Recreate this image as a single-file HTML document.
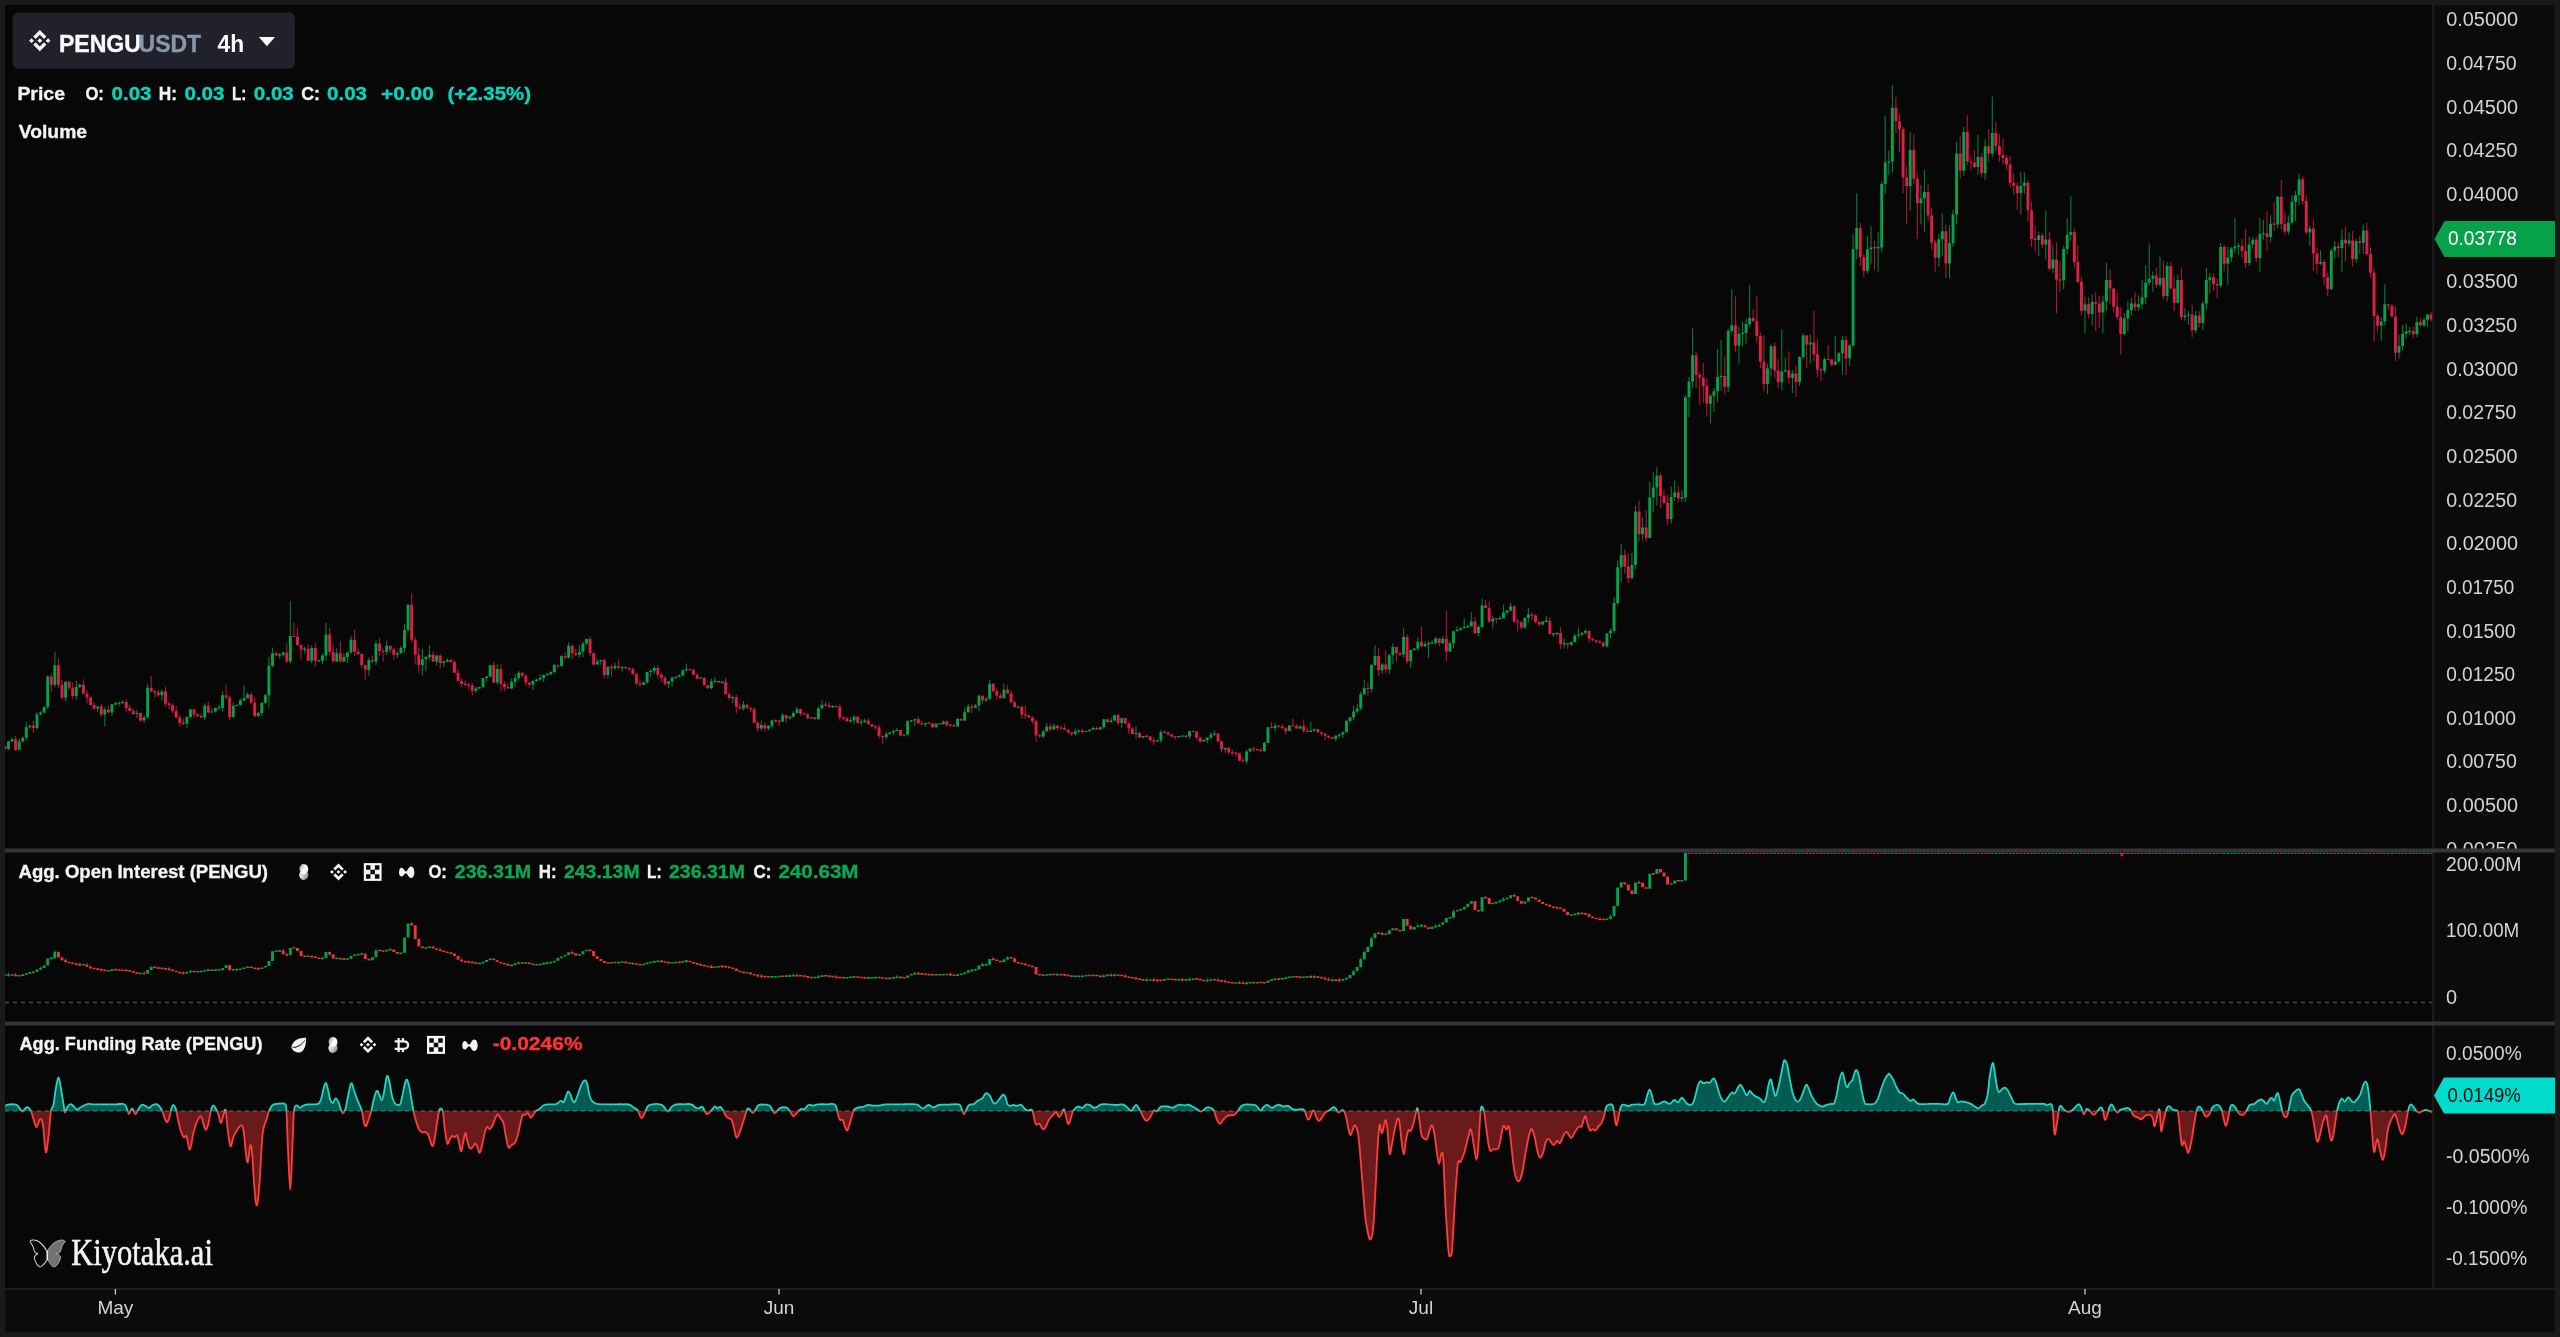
<!DOCTYPE html>
<html lang="en"><head><meta charset="utf-8"><title>PENGUUSDT 4h - Kiyotaka.ai</title>
<style>
html,body{margin:0;padding:0;background:#1a1a1a;}
body{width:2560px;height:1337px;overflow:hidden;position:relative;}
svg{position:absolute;left:0;top:0;display:block;will-change:transform;}
text{font-family:"Liberation Sans",Arial,Helvetica,sans-serif;}
.b{font-weight:700;}
.ax{font-size:19.6px;fill:#d4d4d4;}
.lg{font-size:18.9px;font-weight:700;fill:#f4f4f4;stroke:#f4f4f4;stroke-width:0.35px;}
.wm{font-family:"Liberation Serif","Times New Roman",serif;}
</style></head><body>
<svg width="2560" height="1337" viewBox="0 0 2560 1337">
<defs>
<clipPath id="cpPrice"><rect x="5" y="5" width="2428" height="843.5"/></clipPath>
<clipPath id="cpPriceAx"><rect x="2434" y="5" width="121" height="843.5"/></clipPath>
<clipPath id="cpOI"><rect x="5" y="852.5" width="2428" height="169"/></clipPath>
<clipPath id="cpFRpos"><rect x="5" y="1025.5" width="2428" height="85.5"/></clipPath>
<clipPath id="cpFRneg"><rect x="5" y="1111" width="2428" height="177"/></clipPath>
<linearGradient id="gb1" x1="0" y1="0" x2="1" y2="1"><stop offset="0" stop-color="#8c8c8c"/><stop offset="0.55" stop-color="#ffffff"/><stop offset="1" stop-color="#e8e8e8"/></linearGradient>
<linearGradient id="gb2" x1="0" y1="0" x2="1" y2="1"><stop offset="0" stop-color="#ffffff"/><stop offset="0.5" stop-color="#d0d0d0"/><stop offset="1" stop-color="#6a6a6a"/></linearGradient>
</defs>
<rect x="0" y="0" width="2560" height="1337" fill="#1a1a1a"/>
<rect x="5" y="5" width="2550" height="1327" fill="#070707"/>
<rect x="2434" y="5" width="121" height="1327" fill="#0b0b0b"/>
<rect x="5" y="1290" width="2550" height="42" fill="#0b0b0b"/>

<g clip-path="url(#cpPrice)">
<path d="M8.5 740.9V750.0M12.0 737.0V742.1M19.2 738.3V750.6M22.7 736.6V742.2M26.3 721.9V740.6M29.9 724.3V728.7M37.0 711.9V729.5M40.6 711.6V714.7M44.1 705.7V714.2M47.7 675.3V708.8M54.9 651.5V687.6M65.6 681.0V701.7M76.3 681.1V699.8M79.8 683.8V688.6M97.7 706.2V712.1M104.8 707.0V726.6M111.9 703.9V715.7M115.5 701.9V705.6M119.1 702.0V706.3M122.6 700.1V704.0M136.9 710.0V718.0M144.1 715.2V722.7M147.6 683.9V718.1M161.9 689.6V700.4M186.9 716.6V728.1M190.4 708.5V718.6M204.7 703.3V720.2M211.8 708.3V712.7M215.4 707.6V712.3M219.0 704.8V710.2M222.5 691.6V711.5M233.3 702.6V718.1M236.8 704.4V706.2M240.4 698.3V705.5M244.0 685.5V701.3M247.5 692.6V698.2M258.2 711.9V717.1M261.8 702.7V716.0M265.4 694.0V704.0M268.9 657.1V707.7M272.5 647.5V667.2M279.6 652.9V658.4M283.2 651.5V656.8M290.3 600.9V663.6M304.6 647.1V653.2M311.7 645.2V663.4M318.9 659.7V661.9M322.5 653.5V664.4M326.0 622.8V660.3M336.7 648.2V662.1M343.9 653.3V662.2M347.4 652.3V662.8M351.0 636.1V653.6M368.8 657.6V675.6M376.0 640.3V665.1M386.7 641.0V654.9M397.4 651.3V658.2M400.9 646.1V653.7M404.5 624.1V652.4M408.1 604.3V632.6M422.4 648.8V675.5M425.9 655.9V671.2M429.5 645.1V660.6M436.6 655.2V665.4M443.8 660.6V667.2M447.3 658.2V662.2M475.9 686.4V693.1M479.4 687.0V688.8M483.0 677.9V688.1M486.6 676.0V681.5M490.1 665.2V677.8M497.3 664.1V684.6M511.6 678.5V689.2M515.1 674.2V686.8M518.7 670.9V680.6M533.0 680.2V689.9M536.5 678.8V682.3M540.1 674.4V680.8M543.7 674.5V682.1M547.2 672.9V675.4M550.8 671.3V675.4M554.4 664.0V673.1M561.5 654.9V667.0M568.6 642.3V658.6M579.3 645.0V657.4M582.9 641.7V656.9M586.5 638.8V645.2M597.2 658.8V664.6M600.8 659.4V664.8M607.9 666.4V678.2M615.0 663.1V669.9M622.2 666.3V671.6M643.6 681.2V685.3M647.1 671.6V683.5M650.7 668.7V677.2M654.3 665.7V673.9M668.5 681.0V688.2M672.1 676.2V686.8M675.7 676.9V678.9M679.3 674.2V677.2M682.8 669.4V676.2M686.4 663.6V671.3M700.7 677.8V678.7M711.4 678.6V689.3M714.9 677.0V683.7M722.1 681.2V684.1M732.8 695.2V702.9M743.5 701.1V710.5M761.3 720.6V731.1M768.5 725.3V730.5M772.0 719.6V728.7M782.7 712.9V721.9M789.9 716.1V719.8M793.4 711.2V716.7M797.0 707.0V713.3M811.3 717.0V718.3M818.4 706.4V720.2M822.0 700.2V708.5M832.7 705.1V708.1M850.5 717.2V722.6M854.1 714.9V724.0M861.2 719.0V725.7M864.8 718.6V723.0M886.2 731.9V739.0M889.8 732.3V733.9M893.3 730.0V735.2M896.9 728.0V730.9M904.0 734.5V736.6M907.6 719.7V735.4M911.2 720.2V722.6M914.7 718.8V726.0M925.4 722.7V727.0M936.1 723.3V728.6M943.3 720.4V724.6M957.6 718.1V726.6M964.7 707.4V721.1M968.3 704.1V712.5M975.4 703.8V708.3M979.0 694.2V711.2M986.1 697.0V702.3M989.7 680.0V700.1M1003.9 683.4V698.7M1018.2 705.6V708.7M1043.2 730.0V738.1M1046.8 723.0V731.6M1053.9 723.6V729.5M1075.3 728.8V735.8M1078.9 729.3V733.3M1086.0 730.7V731.7M1089.6 729.4V731.4M1093.1 726.6V729.8M1100.3 726.8V730.0M1103.8 718.8V728.7M1111.0 717.6V723.3M1114.5 715.0V721.3M1121.7 717.3V727.9M1136.0 726.3V738.5M1143.1 735.8V738.4M1157.4 739.3V741.4M1160.9 730.1V742.4M1178.8 736.0V738.1M1182.3 735.5V736.2M1189.5 730.5V738.9M1203.7 738.7V741.4M1207.3 737.6V743.2M1210.9 732.1V739.2M1214.5 730.5V735.9M1225.2 747.6V752.8M1246.6 750.0V763.8M1250.1 747.7V752.5M1264.4 741.8V752.1M1268.0 726.9V743.1M1275.1 723.1V731.3M1289.4 725.0V731.0M1300.1 725.2V729.2M1310.8 721.8V732.3M1314.4 728.5V731.8M1335.8 734.7V741.3M1339.3 734.1V738.0M1342.9 731.3V737.9M1346.5 719.8V732.3M1350.0 716.9V723.2M1353.6 705.4V720.2M1357.2 703.5V712.8M1360.7 691.7V710.3M1364.3 679.5V694.9M1371.4 664.0V692.5M1375.0 645.5V666.5M1382.1 662.9V674.0M1389.3 653.5V674.0M1392.9 643.3V663.9M1403.6 628.3V657.7M1410.7 649.8V668.0M1414.3 648.2V650.7M1417.8 637.8V650.6M1425.0 641.6V646.9M1428.5 640.9V658.0M1432.1 640.5V644.4M1435.7 636.7V645.0M1442.8 636.0V643.9M1449.9 640.8V652.1M1453.5 630.8V648.6M1457.1 626.6V631.4M1460.6 627.4V630.9M1464.2 618.2V628.5M1467.8 625.0V627.9M1471.3 611.9V626.6M1478.5 625.6V636.1M1482.1 598.4V628.3M1492.8 615.6V628.5M1499.9 615.9V619.8M1503.5 604.4V618.4M1507.0 610.1V615.1M1510.6 602.5V611.5M1524.9 617.1V629.1M1528.4 608.1V622.5M1542.7 621.4V625.5M1546.3 616.1V622.6M1553.4 632.8V636.8M1557.0 632.6V636.1M1564.1 638.2V648.5M1571.3 641.4V646.5M1574.8 634.1V642.7M1578.4 627.6V637.7M1582.0 632.6V636.3M1585.5 629.2V634.5M1606.9 633.6V648.1M1610.5 628.3V638.5M1614.1 597.0V633.6M1617.6 560.4V605.4M1621.2 544.2V582.6M1631.9 553.2V578.5M1635.5 506.1V569.3M1642.6 517.2V540.6M1649.7 481.7V538.1M1653.3 472.0V511.9M1656.9 467.3V505.6M1671.2 486.4V523.6M1674.7 480.4V501.1M1681.9 489.4V502.0M1685.4 395.3V501.9M1689.0 377.3V417.3M1692.6 327.5V388.6M1710.4 394.5V423.6M1714.0 387.6V411.9M1717.5 349.0V402.0M1721.1 340.1V390.4M1728.2 328.4V392.1M1731.8 289.4V333.6M1738.9 327.1V363.4M1742.5 321.7V346.3M1746.1 319.0V343.6M1749.7 284.7V327.0M1767.5 363.4V394.1M1771.1 344.5V376.0M1781.8 329.3V390.4M1785.3 357.7V372.4M1792.5 370.3V392.9M1799.6 356.1V385.9M1803.2 333.4V359.3M1810.3 334.5V363.2M1824.6 357.3V373.6M1835.3 335.9V365.4M1838.9 351.8V362.3M1842.4 336.1V374.4M1849.6 343.8V365.9M1853.1 234.8V347.3M1856.7 193.5V259.6M1867.4 235.7V273.4M1871.0 226.3V264.4M1878.1 232.5V272.0M1881.7 181.8V252.6M1885.2 115.8V193.9M1888.8 150.8V175.1M1892.4 84.7V172.4M1910.2 132.0V211.0M1920.9 185.0V224.5M1924.5 169.7V232.6M1938.8 234.4V266.7M1942.3 213.7V255.9M1949.5 225.6V278.0M1953.0 210.1V247.1M1956.6 141.9V224.5M1963.7 127.1V176.0M1978.0 134.7V174.8M1985.1 139.2V179.6M1992.3 96.5V157.3M2020.8 172.5V214.7M2024.4 172.5V193.5M2038.7 231.8V256.0M2045.8 211.1V259.6M2052.9 244.4V273.1M2063.6 245.8V289.3M2067.2 218.3V254.2M2070.8 196.4V240.8M2085.0 296.7V333.3M2092.2 294.4V325.1M2102.9 295.9V333.3M2106.5 263.0V311.1M2124.3 313.3V335.6M2127.9 301.1V331.4M2131.4 298.2V315.4M2138.6 295.2V310.9M2142.1 279.5V308.9M2145.7 265.3V304.2M2149.3 244.3V285.5M2152.8 271.5V291.4M2160.0 256.6V287.0M2167.1 262.0V301.4M2177.8 274.5V303.6M2184.9 308.3V320.6M2188.5 310.9V325.1M2195.7 310.9V333.3M2202.8 301.3V330.3M2206.4 267.5V309.4M2209.9 273.0V293.7M2220.6 243.1V287.7M2227.8 246.4V284.7M2231.3 246.9V262.0M2234.9 218.1V252.6M2238.5 242.8V254.8M2249.2 236.5V265.6M2252.7 236.9V248.5M2259.9 218.1V271.6M2263.4 219.6V239.8M2270.6 215.2V242.5M2277.7 196.0V228.6M2288.4 215.2V234.6M2292.0 195.0V224.6M2295.6 190.8V221.1M2299.1 174.0V205.4M2309.8 225.6V245.8M2320.5 250.3V265.3M2331.2 248.4V289.4M2334.8 241.0V257.8M2341.9 229.1V271.5M2349.1 232.4V246.6M2356.2 239.1V262.7M2363.3 224.6V254.0M2381.2 316.9V340.8M2384.8 284.4V325.3M2399.0 334.6V358.8M2402.6 325.1V350.2M2406.2 323.8V338.2M2409.7 326.9V335.0M2416.9 317.1V337.2M2424.0 317.5V326.9M2427.6 313.9V326.9" stroke="#04a348" stroke-width="1.1" stroke-opacity="0.75" fill="none"/>
<path d="M4.9 745.6V749.8M15.6 735.9V751.1M33.4 720.9V733.1M51.3 673.6V692.1M58.4 658.6V688.2M62.0 680.1V699.5M69.1 680.4V690.1M72.7 682.5V698.7M83.4 679.3V693.9M87.0 689.8V703.4M90.5 696.4V705.2M94.1 702.6V710.0M101.2 704.1V716.4M108.4 705.8V713.3M126.2 699.4V711.8M129.8 705.1V711.4M133.3 708.6V714.8M140.5 712.4V722.1M151.2 675.7V692.3M154.8 689.9V697.6M158.3 690.0V697.0M165.5 686.5V707.0M169.0 702.2V709.3M172.6 703.4V712.9M176.2 706.1V718.1M179.7 714.7V726.6M183.3 718.7V725.0M194.0 709.1V717.6M197.6 713.1V717.1M201.1 713.9V717.7M208.3 701.7V713.6M226.1 684.7V699.2M229.7 695.5V720.3M251.1 692.5V704.1M254.7 697.3V717.0M276.1 651.5V656.6M286.8 643.0V662.9M293.9 622.6V637.1M297.5 627.9V645.9M301.0 644.9V659.5M308.2 644.4V661.0M315.3 642.6V667.1M329.6 627.8V655.0M333.2 645.0V662.3M340.3 641.3V662.4M354.6 629.8V656.0M358.1 648.8V654.9M361.7 653.5V667.7M365.3 664.5V679.5M372.4 655.3V663.4M379.5 638.1V655.9M383.1 648.7V661.5M390.2 645.8V652.9M393.8 647.2V659.8M411.7 593.5V642.2M415.2 637.1V664.5M418.8 647.7V673.2M433.1 651.5V661.9M440.2 654.8V668.8M450.9 658.6V662.3M454.5 660.3V672.9M458.0 669.3V681.2M461.6 678.6V687.5M465.2 680.3V686.2M468.7 682.7V689.7M472.3 682.9V695.4M493.7 662.1V683.1M500.9 664.0V691.6M504.4 681.4V691.3M508.0 683.6V688.5M522.3 671.5V677.6M525.8 673.9V686.1M529.4 682.2V687.5M557.9 664.8V668.2M565.1 652.1V659.6M572.2 644.4V659.0M575.8 648.6V656.0M590.1 636.4V656.0M593.6 653.0V665.4M604.3 658.7V678.2M611.5 664.2V676.5M618.6 659.5V669.1M625.7 666.8V668.4M629.3 667.7V671.3M632.9 667.6V674.7M636.4 673.0V685.6M640.0 680.0V687.2M657.8 665.1V678.6M661.4 672.5V682.0M665.0 675.8V686.0M690.0 668.8V670.8M693.5 669.0V674.9M697.1 673.3V679.6M704.2 677.5V685.3M707.8 685.0V688.6M718.5 680.4V682.7M725.6 677.9V694.3M729.2 692.2V699.6M736.3 694.7V713.7M739.9 703.2V709.4M747.0 703.6V708.7M750.6 707.4V712.1M754.2 707.3V722.8M757.7 721.2V731.6M764.9 722.3V731.4M775.6 719.2V722.8M779.2 720.5V725.9M786.3 715.0V723.0M800.6 708.4V716.1M804.1 712.3V714.4M807.7 712.8V719.2M814.8 717.0V720.0M825.5 701.8V706.4M829.1 701.8V708.3M836.2 706.1V707.4M839.8 704.4V720.7M843.4 716.5V720.0M846.9 716.6V721.5M857.7 716.6V724.1M868.4 718.0V724.3M871.9 723.7V727.6M875.5 725.2V729.7M879.1 725.1V738.5M882.6 735.2V743.6M900.5 729.8V735.9M918.3 717.0V723.5M921.9 720.4V724.6M929.0 722.7V723.8M932.6 722.7V728.1M939.7 723.2V724.3M946.9 720.3V727.1M950.4 724.3V726.6M954.0 723.7V726.6M961.1 718.0V721.1M971.8 704.0V713.0M982.5 694.9V703.5M993.2 683.3V692.8M996.8 687.7V699.5M1000.4 692.9V698.7M1007.5 685.0V693.6M1011.1 690.3V702.6M1014.6 700.4V707.7M1021.8 704.9V719.1M1025.3 705.5V718.9M1028.9 715.2V718.0M1032.5 716.6V723.8M1036.1 719.5V742.1M1039.6 733.7V737.6M1050.3 723.4V731.2M1057.5 725.1V730.8M1061.0 725.8V729.3M1064.6 724.4V730.1M1068.2 728.9V733.4M1071.7 732.3V736.5M1082.4 728.7V733.2M1096.7 726.2V729.5M1107.4 718.9V722.8M1118.1 713.5V725.2M1125.3 717.5V724.6M1128.8 722.0V733.8M1132.4 726.7V733.9M1139.5 731.9V738.0M1146.7 735.7V737.1M1150.2 736.3V741.2M1153.8 737.1V745.1M1164.5 730.9V733.5M1168.1 731.3V735.9M1171.6 734.1V737.3M1175.2 736.2V739.6M1185.9 735.2V737.4M1193.0 730.6V731.8M1196.6 731.4V740.0M1200.2 737.1V742.9M1218.0 733.4V742.3M1221.6 740.6V752.8M1228.7 746.8V754.6M1232.3 749.4V755.5M1235.9 752.2V756.8M1239.4 752.4V761.3M1243.0 757.2V762.1M1253.7 746.8V751.7M1257.3 748.7V750.4M1260.8 747.7V751.4M1271.5 721.9V728.7M1278.7 724.8V728.5M1282.2 724.5V728.5M1285.8 726.7V734.2M1292.9 718.8V726.6M1296.5 724.0V728.6M1303.7 719.3V732.8M1307.2 727.4V732.0M1317.9 728.9V733.2M1321.5 731.6V736.2M1325.1 732.9V740.5M1328.6 735.7V738.4M1332.2 737.0V739.1M1367.9 682.2V695.7M1378.6 648.3V676.0M1385.7 650.3V672.8M1396.4 647.0V662.0M1400.0 652.2V656.1M1407.1 633.9V664.3M1421.4 626.5V646.9M1439.2 637.9V646.1M1446.4 610.7V660.9M1474.9 617.3V633.9M1485.6 599.9V608.5M1489.2 601.4V623.0M1496.3 618.5V623.4M1514.2 605.2V622.8M1517.7 619.1V631.3M1521.3 621.1V629.1M1532.0 612.5V619.9M1535.6 614.0V623.4M1539.1 621.1V626.7M1549.8 617.2V634.0M1560.5 627.1V649.3M1567.7 643.2V649.0M1589.1 631.0V642.7M1592.7 638.3V641.2M1596.2 639.5V643.0M1599.8 640.3V643.3M1603.4 642.5V647.5M1624.8 549.6V573.8M1628.3 554.1V583.1M1639.0 500.8V541.5M1646.2 510.4V541.4M1660.5 473.2V507.8M1664.0 490.3V504.8M1667.6 494.8V524.8M1678.3 485.8V502.5M1696.1 351.7V388.6M1699.7 372.4V404.7M1703.3 363.0V402.9M1706.8 378.2V416.4M1724.7 356.6V394.3M1735.4 296.6V351.7M1753.2 309.2V321.6M1756.8 296.0V342.8M1760.4 332.5V367.9M1763.9 335.6V391.3M1774.6 342.8V377.8M1778.2 358.9V388.6M1788.9 351.2V383.8M1796.0 365.9V397.0M1806.7 335.2V367.7M1813.9 310.8V361.2M1817.4 339.0V377.6M1821.0 367.9V381.2M1828.1 344.9V359.8M1831.7 358.7V366.6M1846.0 335.9V374.9M1860.3 223.1V266.2M1863.8 253.9V277.0M1874.5 241.1V269.8M1895.9 96.9V133.8M1899.5 114.0V152.6M1903.1 127.1V193.0M1906.6 166.4V224.5M1913.8 134.3V184.8M1917.3 172.7V238.9M1928.1 183.2V221.8M1931.6 208.0V249.6M1935.2 239.5V272.1M1945.9 224.4V278.0M1960.2 135.6V178.7M1967.3 115.3V165.2M1970.9 156.2V170.6M1974.4 149.9V168.4M1981.6 153.5V176.9M1988.7 129.4V161.7M1995.8 121.7V151.0M1999.4 133.9V161.7M2003.0 138.4V164.4M2006.5 155.1V169.8M2010.1 155.8V187.8M2013.7 173.4V195.0M2017.3 182.8V210.2M2028.0 180.2V221.9M2031.5 201.3V247.1M2035.1 225.5V251.5M2042.2 233.0V248.0M2049.4 231.8V270.8M2056.5 242.6V313.5M2060.1 261.4V292.0M2074.3 228.2V267.7M2077.9 245.3V282.7M2081.5 276.8V315.3M2088.6 297.4V318.4M2095.7 292.2V331.1M2099.3 295.9V328.1M2110.0 269.5V304.2M2113.6 288.1V312.4M2117.2 292.2V319.9M2120.7 307.5V354.7M2135.0 292.5V310.9M2156.4 267.5V287.7M2163.5 260.5V299.7M2170.7 262.6V289.3M2174.2 276.5V310.9M2181.4 267.4V319.9M2192.1 304.4V337.4M2199.2 311.2V327.4M2213.5 273.5V290.7M2217.1 278.7V298.2M2224.2 244.6V271.2M2242.0 239.1V257.8M2245.6 229.1V268.0M2256.3 236.8V261.7M2267.0 211.4V251.1M2274.1 202.1V230.6M2281.3 180.0V229.4M2284.9 212.2V235.0M2302.7 176.6V204.7M2306.3 195.0V234.2M2313.4 219.6V270.7M2317.0 248.1V273.5M2324.1 259.3V284.7M2327.7 272.8V295.9M2338.4 242.5V257.0M2345.5 226.4V261.5M2352.6 230.9V266.5M2359.8 236.1V254.5M2366.9 223.1V256.3M2370.5 247.1V277.5M2374.1 267.5V342.3M2377.6 314.2V331.8M2388.3 303.4V310.1M2391.9 304.2V317.3M2395.5 306.4V361.0M2413.3 326.9V337.7M2420.4 318.0V326.4M2431.1 312.1V322.0" stroke="#e01c48" stroke-width="1.1" stroke-opacity="0.75" fill="none"/>
<path d="M7.02 741.6h2.9V749.0h-2.9zM10.59 739.3h2.9V741.6h-2.9zM17.72 741.6h2.9V749.8h-2.9zM21.29 737.8h2.9V741.6h-2.9zM24.86 727.3h2.9V737.8h-2.9zM28.43 725.8h2.9V727.3h-2.9zM35.56 714.6h2.9V728.1h-2.9zM39.13 712.4h2.9V714.6h-2.9zM42.70 707.2h2.9V712.4h-2.9zM46.27 676.5h2.9V707.2h-2.9zM53.40 665.3h2.9V684.7h-2.9zM64.11 681.7h2.9V697.4h-2.9zM74.81 687.0h2.9V695.9h-2.9zM78.38 684.7h2.9V687.0h-2.9zM96.22 706.4h2.9V708.6h-2.9zM103.35 709.4h2.9V714.6h-2.9zM110.49 704.2h2.9V712.4h-2.9zM114.06 703.2h2.9V704.4h-2.9zM117.63 702.6h2.9V703.8h-2.9zM121.19 701.9h2.9V703.1h-2.9zM135.47 712.9h2.9V714.1h-2.9zM142.60 717.6h2.9V720.6h-2.9zM146.17 687.7h2.9V717.6h-2.9zM160.44 691.4h2.9V695.2h-2.9zM185.42 716.9h2.9V723.6h-2.9zM188.99 709.4h2.9V716.9h-2.9zM203.26 705.7h2.9V717.6h-2.9zM210.39 711.4h2.9V712.6h-2.9zM213.96 707.9h2.9V711.6h-2.9zM217.53 707.3h2.9V708.5h-2.9zM221.10 695.2h2.9V707.9h-2.9zM231.80 705.7h2.9V716.9h-2.9zM235.37 704.7h2.9V705.9h-2.9zM238.94 700.4h2.9V704.9h-2.9zM242.51 698.2h2.9V700.4h-2.9zM246.07 694.4h2.9V698.2h-2.9zM256.78 713.1h2.9V716.1h-2.9zM260.35 702.7h2.9V713.1h-2.9zM263.91 695.2h2.9V702.7h-2.9zM267.48 666.0h2.9V695.2h-2.9zM271.05 653.3h2.9V666.0h-2.9zM278.19 654.5h2.9V655.8h-2.9zM281.75 652.6h2.9V654.8h-2.9zM288.89 636.1h2.9V661.5h-2.9zM303.16 648.6h2.9V649.8h-2.9zM310.30 648.1h2.9V660.8h-2.9zM317.43 660.2h2.9V661.4h-2.9zM321.00 655.5h2.9V660.8h-2.9zM324.57 634.6h2.9V655.5h-2.9zM335.27 653.3h2.9V661.5h-2.9zM342.41 657.0h2.9V661.5h-2.9zM345.98 652.6h2.9V657.0h-2.9zM349.55 639.8h2.9V652.6h-2.9zM367.39 660.0h2.9V669.8h-2.9zM374.52 643.6h2.9V661.5h-2.9zM385.23 645.8h2.9V651.8h-2.9zM395.93 653.3h2.9V654.8h-2.9zM399.50 648.1h2.9V653.3h-2.9zM403.07 630.1h2.9V648.1h-2.9zM406.63 604.7h2.9V630.1h-2.9zM420.91 659.3h2.9V665.3h-2.9zM424.47 657.0h2.9V659.3h-2.9zM428.04 654.8h2.9V657.0h-2.9zM435.18 655.5h2.9V661.5h-2.9zM442.31 661.5h2.9V663.0h-2.9zM445.88 660.0h2.9V661.5h-2.9zM474.43 688.5h2.9V690.7h-2.9zM477.99 687.0h2.9V688.5h-2.9zM481.56 678.0h2.9V687.0h-2.9zM485.13 676.5h2.9V678.0h-2.9zM488.70 665.3h2.9V676.5h-2.9zM495.83 669.0h2.9V682.5h-2.9zM510.11 681.7h2.9V688.5h-2.9zM513.67 678.0h2.9V681.7h-2.9zM517.24 672.7h2.9V678.0h-2.9zM531.51 681.0h2.9V684.7h-2.9zM535.08 679.5h2.9V681.0h-2.9zM538.65 678.0h2.9V679.5h-2.9zM542.22 675.0h2.9V678.0h-2.9zM545.79 674.0h2.9V675.2h-2.9zM549.35 672.0h2.9V674.2h-2.9zM552.92 665.3h2.9V672.0h-2.9zM560.06 656.3h2.9V666.0h-2.9zM567.19 645.8h2.9V657.8h-2.9zM577.90 651.8h2.9V654.8h-2.9zM581.47 643.6h2.9V651.8h-2.9zM585.03 639.1h2.9V643.6h-2.9zM595.74 661.5h2.9V664.5h-2.9zM599.31 660.0h2.9V661.5h-2.9zM606.44 666.8h2.9V675.0h-2.9zM613.58 666.0h2.9V668.3h-2.9zM620.71 666.9h2.9V668.1h-2.9zM642.12 682.5h2.9V684.7h-2.9zM645.69 672.0h2.9V682.5h-2.9zM649.26 670.9h2.9V672.1h-2.9zM652.83 668.1h2.9V671.1h-2.9zM667.10 681.5h2.9V683.8h-2.9zM670.67 677.8h2.9V681.5h-2.9zM674.23 676.8h2.9V678.0h-2.9zM677.80 675.5h2.9V677.0h-2.9zM681.37 670.3h2.9V675.5h-2.9zM684.94 669.1h2.9V670.3h-2.9zM699.21 677.5h2.9V678.8h-2.9zM709.91 681.5h2.9V688.3h-2.9zM713.48 680.8h2.9V682.0h-2.9zM720.62 681.5h2.9V682.8h-2.9zM731.32 697.0h2.9V698.2h-2.9zM742.03 704.7h2.9V708.5h-2.9zM759.87 724.9h2.9V728.6h-2.9zM767.00 725.7h2.9V728.6h-2.9zM770.57 720.4h2.9V725.7h-2.9zM781.27 715.2h2.9V721.5h-2.9zM788.41 716.7h2.9V718.2h-2.9zM791.98 712.9h2.9V716.7h-2.9zM795.55 709.2h2.9V712.9h-2.9zM809.82 717.2h2.9V718.4h-2.9zM816.95 708.5h2.9V718.9h-2.9zM820.52 704.7h2.9V708.5h-2.9zM831.23 706.0h2.9V707.2h-2.9zM849.07 720.2h2.9V721.4h-2.9zM852.63 716.7h2.9V720.4h-2.9zM859.77 721.7h2.9V722.9h-2.9zM863.34 720.4h2.9V721.9h-2.9zM884.75 733.9h2.9V736.9h-2.9zM888.31 732.4h2.9V733.9h-2.9zM891.88 730.9h2.9V732.4h-2.9zM895.45 729.9h2.9V731.1h-2.9zM902.59 734.4h2.9V735.6h-2.9zM906.15 721.2h2.9V734.6h-2.9zM909.72 720.2h2.9V721.4h-2.9zM913.29 719.2h2.9V720.4h-2.9zM923.99 723.0h2.9V724.2h-2.9zM934.70 723.4h2.9V727.2h-2.9zM941.83 721.5h2.9V724.2h-2.9zM956.11 718.9h2.9V726.4h-2.9zM963.24 712.2h2.9V720.4h-2.9zM966.81 706.5h2.9V712.2h-2.9zM973.95 705.5h2.9V707.7h-2.9zM977.51 695.7h2.9V705.5h-2.9zM984.65 698.7h2.9V700.2h-2.9zM988.22 683.8h2.9V698.7h-2.9zM1002.49 689.8h2.9V698.0h-2.9zM1016.76 706.4h2.9V707.6h-2.9zM1041.74 731.6h2.9V736.4h-2.9zM1045.31 726.4h2.9V731.6h-2.9zM1052.44 725.7h2.9V729.4h-2.9zM1073.85 731.3h2.9V733.9h-2.9zM1077.42 730.5h2.9V731.7h-2.9zM1084.55 730.9h2.9V732.1h-2.9zM1088.12 729.8h2.9V731.3h-2.9zM1091.69 727.9h2.9V729.8h-2.9zM1098.83 727.2h2.9V729.4h-2.9zM1102.39 719.2h2.9V727.2h-2.9zM1109.53 720.4h2.9V721.9h-2.9zM1113.10 715.2h2.9V720.4h-2.9zM1120.23 718.2h2.9V723.0h-2.9zM1134.51 732.9h2.9V734.1h-2.9zM1141.64 736.1h2.9V737.6h-2.9zM1155.91 740.4h2.9V741.6h-2.9zM1159.48 731.9h2.9V740.6h-2.9zM1177.32 736.1h2.9V737.3h-2.9zM1180.89 735.5h2.9V736.7h-2.9zM1188.03 731.3h2.9V736.4h-2.9zM1202.30 739.9h2.9V741.4h-2.9zM1205.87 737.6h2.9V739.9h-2.9zM1209.43 734.6h2.9V737.6h-2.9zM1213.00 733.5h2.9V734.7h-2.9zM1223.71 748.1h2.9V749.6h-2.9zM1245.11 751.4h2.9V761.3h-2.9zM1248.68 748.8h2.9V751.4h-2.9zM1262.95 742.9h2.9V751.1h-2.9zM1266.52 727.2h2.9V742.9h-2.9zM1273.66 725.7h2.9V727.9h-2.9zM1287.93 725.6h2.9V730.9h-2.9zM1298.63 726.3h2.9V728.6h-2.9zM1309.34 730.4h2.9V731.9h-2.9zM1312.91 729.2h2.9V730.4h-2.9zM1334.31 735.7h2.9V738.7h-2.9zM1337.88 734.5h2.9V735.7h-2.9zM1341.45 732.3h2.9V734.5h-2.9zM1345.02 721.1h2.9V732.3h-2.9zM1348.59 717.3h2.9V721.1h-2.9zM1352.15 711.4h2.9V717.3h-2.9zM1355.72 708.4h2.9V711.4h-2.9zM1359.29 694.2h2.9V708.4h-2.9zM1362.86 688.2h2.9V694.2h-2.9zM1369.99 665.0h2.9V688.9h-2.9zM1373.56 656.0h2.9V665.0h-2.9zM1380.70 664.5h2.9V670.2h-2.9zM1387.83 655.3h2.9V669.5h-2.9zM1391.40 647.0h2.9V655.3h-2.9zM1402.11 637.0h2.9V654.5h-2.9zM1409.24 650.0h2.9V661.2h-2.9zM1412.81 648.5h2.9V650.0h-2.9zM1416.38 641.8h2.9V648.5h-2.9zM1423.51 644.0h2.9V646.3h-2.9zM1427.08 643.2h2.9V644.4h-2.9zM1430.65 642.7h2.9V643.9h-2.9zM1434.22 638.5h2.9V643.0h-2.9zM1441.35 638.8h2.9V643.3h-2.9zM1448.49 643.3h2.9V651.5h-2.9zM1452.06 631.3h2.9V643.3h-2.9zM1455.63 629.8h2.9V631.3h-2.9zM1459.19 628.3h2.9V629.8h-2.9zM1462.76 627.1h2.9V628.3h-2.9zM1466.33 626.2h2.9V627.4h-2.9zM1469.90 621.6h2.9V626.5h-2.9zM1477.03 627.1h2.9V633.1h-2.9zM1480.60 605.2h2.9V627.1h-2.9zM1491.31 618.6h2.9V621.6h-2.9zM1498.44 618.1h2.9V619.3h-2.9zM1502.01 612.6h2.9V618.2h-2.9zM1505.58 610.4h2.9V612.6h-2.9zM1509.15 606.6h2.9V610.4h-2.9zM1523.42 617.9h2.9V627.6h-2.9zM1526.99 614.6h2.9V617.9h-2.9zM1541.26 621.6h2.9V624.6h-2.9zM1544.83 620.6h2.9V621.9h-2.9zM1551.96 633.2h2.9V634.4h-2.9zM1555.53 632.8h2.9V634.0h-2.9zM1562.67 643.0h2.9V644.2h-2.9zM1569.80 642.1h2.9V644.8h-2.9zM1573.37 635.5h2.9V642.1h-2.9zM1576.94 634.4h2.9V635.6h-2.9zM1580.51 632.8h2.9V634.6h-2.9zM1584.07 631.0h2.9V632.8h-2.9zM1605.48 633.6h2.9V646.3h-2.9zM1609.05 630.8h2.9V633.6h-2.9zM1612.62 603.1h2.9V630.8h-2.9zM1616.19 567.2h2.9V603.1h-2.9zM1619.75 555.0h2.9V567.2h-2.9zM1630.46 564.8h2.9V578.3h-2.9zM1634.03 511.5h2.9V564.8h-2.9zM1641.16 527.5h2.9V534.3h-2.9zM1648.30 497.5h2.9V537.9h-2.9zM1651.87 487.6h2.9V497.5h-2.9zM1655.43 475.6h2.9V487.6h-2.9zM1669.71 497.1h2.9V519.0h-2.9zM1673.27 492.5h2.9V497.1h-2.9zM1680.41 497.3h2.9V498.6h-2.9zM1683.98 397.2h2.9V497.5h-2.9zM1687.55 381.4h2.9V397.2h-2.9zM1691.11 355.3h2.9V381.4h-2.9zM1708.95 395.7h2.9V403.8h-2.9zM1712.52 391.3h2.9V395.7h-2.9zM1716.09 376.9h2.9V391.3h-2.9zM1719.66 375.8h2.9V377.1h-2.9zM1726.79 331.1h2.9V386.8h-2.9zM1730.36 325.3h2.9V331.1h-2.9zM1737.50 333.8h2.9V345.8h-2.9zM1741.07 332.8h2.9V334.0h-2.9zM1744.63 323.9h2.9V332.9h-2.9zM1748.20 318.1h2.9V323.9h-2.9zM1766.04 368.4h2.9V384.1h-2.9zM1769.61 346.3h2.9V368.4h-2.9zM1780.31 371.5h2.9V382.3h-2.9zM1783.88 370.2h2.9V371.5h-2.9zM1791.02 373.6h2.9V377.8h-2.9zM1798.15 356.9h2.9V382.1h-2.9zM1801.72 335.4h2.9V356.9h-2.9zM1808.86 342.6h2.9V344.4h-2.9zM1823.13 359.3h2.9V370.4h-2.9zM1833.83 361.4h2.9V364.7h-2.9zM1837.40 353.3h2.9V361.4h-2.9zM1840.97 339.9h2.9V353.3h-2.9zM1848.11 345.6h2.9V358.2h-2.9zM1851.67 249.2h2.9V345.6h-2.9zM1855.24 228.1h2.9V249.2h-2.9zM1865.95 249.2h2.9V270.7h-2.9zM1869.51 247.4h2.9V249.2h-2.9zM1876.65 247.1h2.9V248.2h-2.9zM1880.22 184.0h2.9V247.4h-2.9zM1883.79 162.5h2.9V184.0h-2.9zM1887.35 161.5h2.9V162.7h-2.9zM1890.92 107.7h2.9V161.6h-2.9zM1908.76 149.9h2.9V185.9h-2.9zM1919.47 198.4h2.9V203.3h-2.9zM1923.03 192.1h2.9V198.4h-2.9zM1937.31 239.2h2.9V257.7h-2.9zM1940.87 231.3h2.9V239.2h-2.9zM1948.01 243.3h2.9V263.6h-2.9zM1951.58 214.6h2.9V243.3h-2.9zM1955.15 153.5h2.9V214.6h-2.9zM1962.28 132.0h2.9V170.6h-2.9zM1976.55 157.1h2.9V167.0h-2.9zM1983.69 146.3h2.9V173.3h-2.9zM1990.83 133.0h2.9V153.6h-2.9zM2019.37 186.0h2.9V193.2h-2.9zM2022.94 182.7h2.9V186.0h-2.9zM2037.21 235.4h2.9V239.9h-2.9zM2044.35 239.5h2.9V244.4h-2.9zM2051.48 259.6h2.9V268.6h-2.9zM2062.19 248.9h2.9V280.3h-2.9zM2065.75 234.8h2.9V248.9h-2.9zM2069.32 232.3h2.9V234.8h-2.9zM2083.59 304.2h2.9V310.8h-2.9zM2090.73 301.9h2.9V313.9h-2.9zM2101.43 301.5h2.9V312.4h-2.9zM2105.00 279.9h2.9V301.5h-2.9zM2122.84 318.4h2.9V334.1h-2.9zM2126.41 310.1h2.9V318.4h-2.9zM2129.98 303.4h2.9V310.1h-2.9zM2137.11 304.2h2.9V307.2h-2.9zM2140.68 297.4h2.9V304.2h-2.9zM2144.25 282.5h2.9V297.4h-2.9zM2147.82 278.7h2.9V282.5h-2.9zM2151.39 275.7h2.9V278.7h-2.9zM2158.52 278.0h2.9V284.7h-2.9zM2165.66 266.0h2.9V295.9h-2.9zM2176.36 279.9h2.9V302.7h-2.9zM2183.50 315.4h2.9V316.9h-2.9zM2187.07 314.4h2.9V315.6h-2.9zM2194.20 315.4h2.9V330.3h-2.9zM2201.34 303.4h2.9V322.9h-2.9zM2204.91 279.9h2.9V303.4h-2.9zM2208.47 277.2h2.9V279.9h-2.9zM2219.18 247.0h2.9V285.5h-2.9zM2226.31 257.5h2.9V263.8h-2.9zM2229.88 248.5h2.9V257.5h-2.9zM2233.45 246.6h2.9V248.5h-2.9zM2237.02 245.8h2.9V246.9h-2.9zM2247.72 244.6h2.9V263.0h-2.9zM2251.29 239.8h2.9V244.6h-2.9zM2258.43 233.9h2.9V258.1h-2.9zM2261.99 233.2h2.9V234.3h-2.9zM2269.13 223.7h2.9V237.1h-2.9zM2276.27 196.8h2.9V224.6h-2.9zM2286.97 222.6h2.9V231.6h-2.9zM2290.54 201.7h2.9V222.6h-2.9zM2294.11 195.3h2.9V201.7h-2.9zM2297.67 179.3h2.9V195.3h-2.9zM2308.38 228.6h2.9V232.4h-2.9zM2319.08 262.0h2.9V263.8h-2.9zM2329.79 250.6h2.9V289.2h-2.9zM2333.35 246.6h2.9V250.6h-2.9zM2340.49 239.8h2.9V248.1h-2.9zM2347.63 240.6h2.9V243.6h-2.9zM2354.76 241.3h2.9V259.3h-2.9zM2361.90 230.6h2.9V242.8h-2.9zM2379.74 321.4h2.9V325.8h-2.9zM2383.31 304.2h2.9V321.4h-2.9zM2397.58 346.3h2.9V352.8h-2.9zM2401.15 333.7h2.9V346.3h-2.9zM2404.71 331.4h2.9V333.7h-2.9zM2408.28 330.7h2.9V331.9h-2.9zM2415.42 322.0h2.9V334.1h-2.9zM2422.55 319.7h2.9V325.6h-2.9zM2426.12 314.4h2.9V319.7h-2.9z" fill="#04a348"/>
<path d="M3.45 746.0h2.9V749.0h-2.9zM14.15 739.3h2.9V749.8h-2.9zM31.99 725.8h2.9V728.1h-2.9zM49.83 676.5h2.9V684.7h-2.9zM56.97 665.3h2.9V684.7h-2.9zM60.54 684.7h2.9V697.4h-2.9zM67.67 681.7h2.9V687.7h-2.9zM71.24 687.7h2.9V695.9h-2.9zM81.95 684.7h2.9V693.7h-2.9zM85.51 693.7h2.9V697.4h-2.9zM89.08 697.4h2.9V704.9h-2.9zM92.65 704.9h2.9V708.6h-2.9zM99.79 706.4h2.9V714.6h-2.9zM106.92 709.4h2.9V712.4h-2.9zM124.76 701.9h2.9V707.9h-2.9zM128.33 707.9h2.9V710.9h-2.9zM131.90 710.9h2.9V713.9h-2.9zM139.03 713.1h2.9V720.6h-2.9zM149.74 687.7h2.9V691.4h-2.9zM153.31 691.2h2.9V692.4h-2.9zM156.87 692.2h2.9V695.2h-2.9zM164.01 691.4h2.9V703.4h-2.9zM167.58 703.4h2.9V704.9h-2.9zM171.15 704.9h2.9V710.9h-2.9zM174.71 710.9h2.9V717.6h-2.9zM178.28 717.6h2.9V722.9h-2.9zM181.85 722.6h2.9V723.9h-2.9zM192.55 709.4h2.9V714.6h-2.9zM196.12 714.6h2.9V716.1h-2.9zM199.69 716.1h2.9V717.6h-2.9zM206.83 705.7h2.9V712.4h-2.9zM224.67 695.2h2.9V697.4h-2.9zM228.23 697.4h2.9V716.9h-2.9zM249.64 694.4h2.9V702.7h-2.9zM253.21 702.7h2.9V716.1h-2.9zM274.62 653.3h2.9V655.5h-2.9zM285.32 652.6h2.9V661.5h-2.9zM292.46 635.9h2.9V637.1h-2.9zM296.03 636.8h2.9V645.1h-2.9zM299.59 645.1h2.9V649.6h-2.9zM306.73 648.8h2.9V660.8h-2.9zM313.87 648.1h2.9V660.8h-2.9zM328.14 634.6h2.9V651.8h-2.9zM331.71 651.8h2.9V661.5h-2.9zM338.84 653.3h2.9V661.5h-2.9zM353.11 639.8h2.9V651.8h-2.9zM356.68 651.8h2.9V654.0h-2.9zM360.25 654.0h2.9V665.3h-2.9zM363.82 665.3h2.9V669.8h-2.9zM370.95 660.0h2.9V661.5h-2.9zM378.09 643.6h2.9V651.1h-2.9zM381.66 650.9h2.9V652.1h-2.9zM388.79 645.8h2.9V649.6h-2.9zM392.36 649.6h2.9V654.8h-2.9zM410.20 604.7h2.9V639.8h-2.9zM413.77 639.8h2.9V654.8h-2.9zM417.34 654.8h2.9V665.3h-2.9zM431.61 654.8h2.9V661.5h-2.9zM438.75 655.5h2.9V663.0h-2.9zM449.45 660.0h2.9V662.3h-2.9zM453.02 662.3h2.9V672.7h-2.9zM456.59 672.7h2.9V681.0h-2.9zM460.15 681.0h2.9V684.0h-2.9zM463.72 683.8h2.9V685.0h-2.9zM467.29 684.5h2.9V685.7h-2.9zM470.86 685.5h2.9V690.7h-2.9zM492.27 665.3h2.9V682.5h-2.9zM499.40 669.0h2.9V684.0h-2.9zM502.97 684.0h2.9V687.0h-2.9zM506.54 687.0h2.9V688.5h-2.9zM520.81 672.7h2.9V675.7h-2.9zM524.38 675.7h2.9V682.5h-2.9zM527.95 682.5h2.9V684.7h-2.9zM556.49 665.0h2.9V666.2h-2.9zM563.63 656.3h2.9V657.8h-2.9zM570.76 645.8h2.9V653.3h-2.9zM574.33 653.3h2.9V654.8h-2.9zM588.60 639.1h2.9V653.3h-2.9zM592.17 653.3h2.9V664.5h-2.9zM602.87 660.0h2.9V675.0h-2.9zM610.01 666.8h2.9V668.3h-2.9zM617.15 666.0h2.9V667.5h-2.9zM624.28 667.3h2.9V668.5h-2.9zM627.85 668.0h2.9V669.2h-2.9zM631.42 669.0h2.9V674.2h-2.9zM634.99 674.2h2.9V683.2h-2.9zM638.55 683.2h2.9V684.7h-2.9zM656.39 668.1h2.9V674.8h-2.9zM659.96 674.8h2.9V677.8h-2.9zM663.53 677.8h2.9V683.8h-2.9zM688.51 669.1h2.9V670.3h-2.9zM692.07 670.3h2.9V674.8h-2.9zM695.64 674.8h2.9V678.5h-2.9zM702.78 677.8h2.9V685.3h-2.9zM706.35 685.3h2.9V688.3h-2.9zM717.05 681.1h2.9V682.4h-2.9zM724.19 682.0h2.9V694.2h-2.9zM727.75 694.2h2.9V698.0h-2.9zM734.89 697.2h2.9V707.0h-2.9zM738.46 707.0h2.9V708.5h-2.9zM745.59 704.7h2.9V707.7h-2.9zM749.16 707.7h2.9V709.2h-2.9zM752.73 709.2h2.9V722.7h-2.9zM756.30 722.7h2.9V728.6h-2.9zM763.43 724.9h2.9V728.6h-2.9zM774.14 720.0h2.9V721.2h-2.9zM777.71 720.6h2.9V721.8h-2.9zM784.84 715.2h2.9V718.2h-2.9zM799.11 709.2h2.9V713.7h-2.9zM802.68 713.4h2.9V714.6h-2.9zM806.25 714.4h2.9V718.2h-2.9zM813.39 717.4h2.9V718.9h-2.9zM824.09 704.5h2.9V705.7h-2.9zM827.66 705.5h2.9V707.0h-2.9zM834.79 706.0h2.9V707.2h-2.9zM838.36 707.0h2.9V717.4h-2.9zM841.93 717.2h2.9V718.4h-2.9zM845.50 718.2h2.9V721.2h-2.9zM856.20 716.7h2.9V722.7h-2.9zM866.91 720.4h2.9V724.2h-2.9zM870.47 724.2h2.9V726.4h-2.9zM874.04 726.2h2.9V727.4h-2.9zM877.61 727.2h2.9V736.1h-2.9zM881.18 735.9h2.9V737.1h-2.9zM899.02 730.1h2.9V735.4h-2.9zM916.86 719.2h2.9V723.4h-2.9zM920.43 723.2h2.9V724.4h-2.9zM927.56 722.6h2.9V723.8h-2.9zM931.13 723.4h2.9V727.2h-2.9zM938.27 723.2h2.9V724.4h-2.9zM945.40 721.5h2.9V724.9h-2.9zM948.97 724.5h2.9V725.8h-2.9zM952.54 725.3h2.9V726.5h-2.9zM959.67 718.9h2.9V720.4h-2.9zM970.38 706.5h2.9V707.7h-2.9zM981.08 695.7h2.9V700.2h-2.9zM991.79 683.8h2.9V691.2h-2.9zM995.35 691.2h2.9V695.7h-2.9zM998.92 695.7h2.9V698.0h-2.9zM1006.06 689.8h2.9V693.5h-2.9zM1009.63 693.5h2.9V702.5h-2.9zM1013.19 702.5h2.9V707.0h-2.9zM1020.33 707.0h2.9V714.4h-2.9zM1023.90 714.2h2.9V715.4h-2.9zM1027.47 715.2h2.9V717.4h-2.9zM1031.03 717.4h2.9V721.2h-2.9zM1034.60 721.2h2.9V735.4h-2.9zM1038.17 735.3h2.9V736.5h-2.9zM1048.87 726.4h2.9V729.4h-2.9zM1056.01 725.7h2.9V727.9h-2.9zM1059.58 727.5h2.9V728.7h-2.9zM1063.15 728.3h2.9V730.1h-2.9zM1066.71 730.1h2.9V732.4h-2.9zM1070.28 732.4h2.9V733.9h-2.9zM1080.99 730.6h2.9V731.9h-2.9zM1095.26 727.9h2.9V729.4h-2.9zM1105.96 719.2h2.9V721.9h-2.9zM1116.67 715.2h2.9V723.0h-2.9zM1123.80 718.2h2.9V723.4h-2.9zM1127.37 723.4h2.9V728.6h-2.9zM1130.94 728.6h2.9V733.9h-2.9zM1138.07 733.1h2.9V737.6h-2.9zM1145.21 735.6h2.9V736.9h-2.9zM1148.78 736.4h2.9V739.9h-2.9zM1152.35 739.9h2.9V741.4h-2.9zM1163.05 731.5h2.9V732.8h-2.9zM1166.62 732.4h2.9V734.6h-2.9zM1170.19 734.6h2.9V736.4h-2.9zM1173.75 736.2h2.9V737.4h-2.9zM1184.46 735.6h2.9V736.9h-2.9zM1191.59 730.9h2.9V732.1h-2.9zM1195.16 731.6h2.9V737.6h-2.9zM1198.73 737.6h2.9V741.4h-2.9zM1216.57 733.6h2.9V741.4h-2.9zM1220.14 741.4h2.9V749.6h-2.9zM1227.27 748.1h2.9V752.3h-2.9zM1230.84 752.0h2.9V753.2h-2.9zM1234.41 752.5h2.9V753.7h-2.9zM1237.98 753.3h2.9V760.8h-2.9zM1241.55 760.4h2.9V761.6h-2.9zM1252.25 748.4h2.9V749.6h-2.9zM1255.82 749.0h2.9V750.2h-2.9zM1259.39 749.9h2.9V751.1h-2.9zM1270.09 726.9h2.9V728.1h-2.9zM1277.23 725.4h2.9V726.6h-2.9zM1280.79 726.4h2.9V728.3h-2.9zM1284.36 728.3h2.9V730.9h-2.9zM1291.50 725.4h2.9V726.6h-2.9zM1295.07 726.3h2.9V728.6h-2.9zM1302.20 726.3h2.9V730.8h-2.9zM1305.77 730.7h2.9V731.9h-2.9zM1316.47 729.3h2.9V732.3h-2.9zM1320.04 732.3h2.9V733.8h-2.9zM1323.61 733.8h2.9V735.7h-2.9zM1327.18 735.7h2.9V737.2h-2.9zM1330.75 737.2h2.9V738.7h-2.9zM1366.43 687.9h2.9V689.1h-2.9zM1377.13 656.0h2.9V670.2h-2.9zM1384.27 664.5h2.9V669.5h-2.9zM1394.97 647.0h2.9V653.0h-2.9zM1398.54 653.0h2.9V654.5h-2.9zM1405.67 637.0h2.9V661.2h-2.9zM1419.95 641.8h2.9V646.3h-2.9zM1437.79 638.5h2.9V643.3h-2.9zM1444.92 638.8h2.9V651.5h-2.9zM1473.47 621.6h2.9V633.1h-2.9zM1484.17 605.2h2.9V608.1h-2.9zM1487.74 608.1h2.9V621.6h-2.9zM1494.87 618.2h2.9V619.5h-2.9zM1512.71 606.6h2.9V621.6h-2.9zM1516.28 621.4h2.9V622.6h-2.9zM1519.85 622.4h2.9V627.6h-2.9zM1530.55 614.5h2.9V615.7h-2.9zM1534.12 615.6h2.9V622.1h-2.9zM1537.69 622.1h2.9V624.6h-2.9zM1548.39 620.9h2.9V634.0h-2.9zM1559.10 633.1h2.9V644.0h-2.9zM1566.23 643.3h2.9V644.8h-2.9zM1587.64 631.0h2.9V638.8h-2.9zM1591.21 638.8h2.9V640.3h-2.9zM1594.78 640.3h2.9V641.8h-2.9zM1598.35 641.6h2.9V642.8h-2.9zM1601.91 642.6h2.9V646.3h-2.9zM1623.32 555.0h2.9V566.6h-2.9zM1626.89 566.6h2.9V578.3h-2.9zM1637.59 511.5h2.9V534.3h-2.9zM1644.73 527.5h2.9V537.9h-2.9zM1659.00 475.6h2.9V496.0h-2.9zM1662.57 496.0h2.9V502.9h-2.9zM1666.14 502.9h2.9V519.0h-2.9zM1676.84 492.5h2.9V498.4h-2.9zM1694.68 355.3h2.9V375.1h-2.9zM1698.25 375.1h2.9V377.8h-2.9zM1701.82 377.8h2.9V385.9h-2.9zM1705.39 385.9h2.9V403.8h-2.9zM1723.23 376.0h2.9V386.8h-2.9zM1733.93 325.3h2.9V345.8h-2.9zM1751.77 318.1h2.9V321.2h-2.9zM1755.34 321.2h2.9V336.1h-2.9zM1758.91 336.1h2.9V361.6h-2.9zM1762.47 361.6h2.9V384.1h-2.9zM1773.18 346.3h2.9V370.6h-2.9zM1776.75 370.6h2.9V382.3h-2.9zM1787.45 370.2h2.9V377.8h-2.9zM1794.59 373.6h2.9V382.1h-2.9zM1805.29 335.4h2.9V344.4h-2.9zM1812.43 342.6h2.9V354.2h-2.9zM1815.99 354.2h2.9V369.5h-2.9zM1819.56 369.3h2.9V370.6h-2.9zM1826.70 358.9h2.9V360.1h-2.9zM1830.27 359.6h2.9V364.7h-2.9zM1844.54 339.9h2.9V358.2h-2.9zM1858.81 228.1h2.9V257.2h-2.9zM1862.38 257.2h2.9V270.7h-2.9zM1873.08 247.1h2.9V248.2h-2.9zM1894.49 107.7h2.9V121.2h-2.9zM1898.06 121.2h2.9V129.3h-2.9zM1901.63 129.3h2.9V177.4h-2.9zM1905.19 177.4h2.9V185.9h-2.9zM1912.33 149.9h2.9V178.7h-2.9zM1915.90 178.7h2.9V203.3h-2.9zM1926.60 192.1h2.9V215.5h-2.9zM1930.17 215.5h2.9V242.4h-2.9zM1933.74 242.4h2.9V257.7h-2.9zM1944.44 231.3h2.9V263.6h-2.9zM1958.71 153.5h2.9V170.6h-2.9zM1965.85 132.0h2.9V161.6h-2.9zM1969.42 161.5h2.9V162.7h-2.9zM1972.99 162.5h2.9V167.0h-2.9zM1980.12 157.1h2.9V173.3h-2.9zM1987.26 146.3h2.9V153.6h-2.9zM1994.39 133.0h2.9V146.1h-2.9zM1997.96 146.1h2.9V155.1h-2.9zM2001.53 155.1h2.9V158.1h-2.9zM2005.10 158.1h2.9V164.4h-2.9zM2008.67 164.4h2.9V182.7h-2.9zM2012.23 182.7h2.9V185.6h-2.9zM2015.80 185.6h2.9V193.2h-2.9zM2026.51 182.7h2.9V210.2h-2.9zM2030.07 210.2h2.9V239.0h-2.9zM2033.64 238.8h2.9V240.0h-2.9zM2040.78 235.4h2.9V244.4h-2.9zM2047.91 239.5h2.9V268.6h-2.9zM2055.05 259.6h2.9V279.7h-2.9zM2058.62 279.4h2.9V280.6h-2.9zM2072.89 232.3h2.9V262.3h-2.9zM2076.46 262.3h2.9V282.1h-2.9zM2080.03 282.1h2.9V310.8h-2.9zM2087.16 304.2h2.9V313.9h-2.9zM2094.30 301.9h2.9V303.4h-2.9zM2097.87 303.4h2.9V312.4h-2.9zM2108.57 279.9h2.9V288.5h-2.9zM2112.14 288.5h2.9V306.4h-2.9zM2115.71 306.4h2.9V316.9h-2.9zM2119.27 316.9h2.9V334.1h-2.9zM2133.55 303.4h2.9V307.2h-2.9zM2154.95 275.7h2.9V284.7h-2.9zM2162.09 278.0h2.9V295.9h-2.9zM2169.23 266.0h2.9V288.5h-2.9zM2172.79 288.5h2.9V302.7h-2.9zM2179.93 279.9h2.9V316.9h-2.9zM2190.63 314.6h2.9V330.3h-2.9zM2197.77 315.4h2.9V322.9h-2.9zM2212.04 277.2h2.9V284.0h-2.9zM2215.61 284.0h2.9V285.5h-2.9zM2222.75 247.0h2.9V263.8h-2.9zM2240.59 246.1h2.9V251.1h-2.9zM2244.15 251.1h2.9V263.0h-2.9zM2254.86 239.8h2.9V258.1h-2.9zM2265.56 233.6h2.9V237.1h-2.9zM2272.70 223.5h2.9V224.7h-2.9zM2279.83 196.8h2.9V224.1h-2.9zM2283.40 224.1h2.9V231.6h-2.9zM2301.24 179.3h2.9V200.9h-2.9zM2304.81 200.9h2.9V232.4h-2.9zM2311.95 228.6h2.9V253.6h-2.9zM2315.51 253.6h2.9V263.8h-2.9zM2322.65 262.0h2.9V277.2h-2.9zM2326.22 277.2h2.9V289.2h-2.9zM2336.92 246.6h2.9V248.1h-2.9zM2344.06 239.8h2.9V243.6h-2.9zM2351.19 240.6h2.9V259.3h-2.9zM2358.33 241.3h2.9V242.8h-2.9zM2365.47 230.6h2.9V254.0h-2.9zM2369.03 254.0h2.9V272.7h-2.9zM2372.60 272.7h2.9V316.1h-2.9zM2376.17 316.1h2.9V325.8h-2.9zM2386.87 304.2h2.9V305.4h-2.9zM2390.44 305.4h2.9V316.4h-2.9zM2394.01 316.4h2.9V352.8h-2.9zM2411.85 331.2h2.9V334.1h-2.9zM2418.99 322.0h2.9V325.6h-2.9zM2429.69 314.4h2.9V319.3h-2.9z" fill="#e01c48"/>
</g>
<g clip-path="url(#cpOI)">
<path d="M8.5 972.6V976.8M40.6 966.2V970.4M44.1 964.2V968.0M54.9 950.4V958.5M190.4 970.1V973.1M222.5 967.5V970.6M236.8 968.0V970.9M361.7 952.5V954.8M376.0 948.8V957.4M515.1 962.6V965.4M518.7 961.4V964.2M543.7 961.9V964.6M686.4 959.6V962.9M793.4 973.6V976.6M818.4 974.9V978.7M896.9 974.6V978.8M914.7 971.5V975.1M968.3 969.2V973.0M971.8 969.1V972.0M982.5 962.8V966.2M986.1 963.4V966.5M1003.9 959.0V962.8M1007.5 956.3V960.4M1103.8 974.0V977.9M1114.5 973.6V977.0M1146.7 977.4V981.4M1178.8 978.1V980.7M1189.5 977.6V981.0M1207.3 977.7V982.5M1210.9 978.3V981.2M1246.6 981.8V985.1M1275.1 977.7V980.2M1314.4 975.0V978.8M1332.2 977.6V981.6M1346.5 977.4V979.7M1353.6 969.8V975.9M1360.7 957.7V967.6M1364.3 950.2V959.7M1371.4 936.5V947.4M1417.8 923.6V927.4M1421.4 923.9V927.4M1435.7 923.9V928.2M1439.2 923.6V927.0M1442.8 921.3V925.0M1453.5 909.6V918.4M1499.9 899.5V902.9M1503.5 897.0V901.6M1578.4 912.0V915.0M1610.5 914.4V919.7" stroke="#04a348" stroke-width="1" stroke-opacity="0.7" fill="none"/>
<path d="M15.6 972.9V976.4M62.0 956.3V960.8M65.6 958.5V963.2M79.8 962.2V966.6M87.0 962.8V967.1M90.5 965.5V969.4M101.2 968.2V971.6M144.1 971.1V974.4M158.3 966.7V969.0M169.0 967.1V970.2M183.3 970.9V974.5M229.7 964.5V970.7M258.2 967.2V969.7M283.2 948.8V954.3M286.8 952.3V956.6M329.6 951.3V955.7M333.2 954.1V958.6M411.7 921.8V925.5M415.2 924.9V939.3M440.2 947.9V951.7M461.6 957.8V961.7M508.0 963.3V966.1M572.2 950.3V954.6M661.4 959.7V962.7M711.4 964.6V968.4M722.1 965.1V968.1M725.6 965.0V968.2M750.6 972.1V975.3M757.7 974.0V977.4M761.3 973.6V978.0M797.0 973.6V977.0M836.2 974.8V978.7M918.3 972.0V974.4M950.4 972.1V976.1M993.2 957.0V960.9M1014.6 957.4V962.8M1111.0 973.0V976.9M1125.3 974.2V978.2M1136.0 976.8V980.0M1153.8 977.9V981.3M1157.4 979.0V982.3M1182.3 977.7V981.7M1218.0 977.7V981.8M1225.2 979.0V983.4M1239.4 981.0V984.0M1243.0 980.9V984.0M1310.8 974.8V978.0M1325.1 976.3V979.8M1328.6 977.3V981.0M1339.3 978.2V981.3M1382.1 932.0V935.4M1425.0 923.9V927.4M1514.2 893.6V896.9M1549.8 904.2V906.9M1557.0 906.3V909.2M1589.1 913.0V917.3M1599.8 916.6V920.5M1639.0 880.1V883.5" stroke="#f23535" stroke-width="1" stroke-opacity="0.7" fill="none"/>
<path d="M3.45 974.5h2.9V976.1h-2.9zM7.02 974.2h2.9V975.8h-2.9zM17.72 974.9h2.9V976.5h-2.9zM21.29 974.3h2.9V975.9h-2.9zM24.86 973.2h2.9V974.8h-2.9zM28.43 972.1h2.9V973.7h-2.9zM31.99 971.5h2.9V973.1h-2.9zM35.56 969.5h2.9V972.0h-2.9zM39.13 967.9h2.9V969.5h-2.9zM42.70 965.4h2.9V967.9h-2.9zM46.27 958.5h2.9V965.4h-2.9zM49.83 957.6h2.9V959.2h-2.9zM53.40 951.8h2.9V958.4h-2.9zM81.95 963.9h2.9V965.5h-2.9zM106.92 970.0h2.9V971.6h-2.9zM110.49 969.3h2.9V970.9h-2.9zM139.03 972.7h2.9V974.3h-2.9zM146.17 970.0h2.9V973.7h-2.9zM149.74 966.8h2.9V970.0h-2.9zM185.42 971.8h2.9V973.4h-2.9zM188.99 970.7h2.9V972.3h-2.9zM196.12 971.0h2.9V972.6h-2.9zM199.69 970.7h2.9V972.3h-2.9zM203.26 969.9h2.9V971.5h-2.9zM206.83 969.3h2.9V970.9h-2.9zM213.96 969.3h2.9V970.9h-2.9zM217.53 969.0h2.9V970.6h-2.9zM221.10 968.1h2.9V969.7h-2.9zM224.67 965.3h2.9V968.1h-2.9zM231.80 969.0h2.9V970.6h-2.9zM235.37 968.9h2.9V970.5h-2.9zM238.94 968.4h2.9V970.0h-2.9zM242.51 967.4h2.9V969.0h-2.9zM246.07 966.5h2.9V968.1h-2.9zM260.35 967.5h2.9V969.1h-2.9zM263.91 965.9h2.9V967.5h-2.9zM267.48 960.9h2.9V965.9h-2.9zM271.05 951.3h2.9V960.9h-2.9zM274.62 950.5h2.9V952.1h-2.9zM278.19 950.1h2.9V951.7h-2.9zM288.89 948.1h2.9V955.1h-2.9zM292.46 947.2h2.9V948.8h-2.9zM306.73 955.5h2.9V957.1h-2.9zM321.00 957.6h2.9V959.2h-2.9zM324.57 952.0h2.9V958.0h-2.9zM335.27 957.6h2.9V959.2h-2.9zM345.98 958.2h2.9V959.8h-2.9zM349.55 956.0h2.9V958.8h-2.9zM353.11 954.5h2.9V956.1h-2.9zM356.68 953.8h2.9V955.4h-2.9zM360.25 953.2h2.9V954.8h-2.9zM370.95 957.2h2.9V960.2h-2.9zM374.52 950.4h2.9V957.2h-2.9zM385.23 949.8h2.9V951.4h-2.9zM388.79 948.8h2.9V950.4h-2.9zM399.50 952.4h2.9V954.0h-2.9zM403.07 937.6h2.9V952.7h-2.9zM406.63 923.6h2.9V937.6h-2.9zM424.47 947.2h2.9V948.8h-2.9zM428.04 946.4h2.9V948.0h-2.9zM477.99 962.7h2.9V964.3h-2.9zM481.56 961.8h2.9V963.4h-2.9zM485.13 960.0h2.9V961.9h-2.9zM488.70 958.4h2.9V960.0h-2.9zM510.11 964.6h2.9V966.2h-2.9zM513.67 963.4h2.9V965.0h-2.9zM517.24 962.4h2.9V964.0h-2.9zM524.38 962.2h2.9V963.8h-2.9zM535.08 964.0h2.9V965.6h-2.9zM538.65 963.7h2.9V965.3h-2.9zM542.22 963.0h2.9V964.6h-2.9zM545.79 962.3h2.9V963.9h-2.9zM549.35 961.8h2.9V963.4h-2.9zM552.92 960.8h2.9V962.4h-2.9zM556.49 958.1h2.9V960.8h-2.9zM560.06 956.6h2.9V958.2h-2.9zM563.63 955.0h2.9V956.6h-2.9zM567.19 952.2h2.9V955.0h-2.9zM577.90 954.1h2.9V955.7h-2.9zM581.47 951.2h2.9V954.2h-2.9zM585.03 949.7h2.9V951.3h-2.9zM610.01 961.9h2.9V963.5h-2.9zM617.15 961.8h2.9V963.4h-2.9zM620.71 961.5h2.9V963.1h-2.9zM631.42 962.8h2.9V964.4h-2.9zM642.12 963.7h2.9V965.3h-2.9zM645.69 962.6h2.9V964.2h-2.9zM649.26 961.7h2.9V963.3h-2.9zM652.83 961.1h2.9V962.7h-2.9zM656.39 960.6h2.9V962.2h-2.9zM670.67 962.0h2.9V963.6h-2.9zM674.23 961.7h2.9V963.3h-2.9zM681.37 961.1h2.9V962.7h-2.9zM684.94 960.3h2.9V961.9h-2.9zM713.48 966.4h2.9V968.0h-2.9zM717.05 965.9h2.9V967.5h-2.9zM745.59 972.0h2.9V973.6h-2.9zM770.57 976.1h2.9V977.7h-2.9zM774.14 976.0h2.9V977.6h-2.9zM777.71 975.7h2.9V977.3h-2.9zM784.84 975.3h2.9V976.9h-2.9zM788.41 975.1h2.9V976.7h-2.9zM791.98 974.9h2.9V976.5h-2.9zM813.39 976.7h2.9V978.3h-2.9zM816.95 976.4h2.9V978.0h-2.9zM820.52 975.3h2.9V976.9h-2.9zM845.50 976.9h2.9V978.5h-2.9zM849.07 976.5h2.9V978.1h-2.9zM852.63 976.1h2.9V977.7h-2.9zM866.91 977.1h2.9V978.7h-2.9zM870.47 977.1h2.9V978.7h-2.9zM874.04 976.8h2.9V978.4h-2.9zM884.75 977.6h2.9V979.2h-2.9zM891.88 977.1h2.9V978.7h-2.9zM895.45 976.5h2.9V978.1h-2.9zM906.15 975.5h2.9V977.8h-2.9zM909.72 974.0h2.9V975.6h-2.9zM913.29 973.0h2.9V974.6h-2.9zM934.70 974.0h2.9V975.6h-2.9zM938.27 973.9h2.9V975.5h-2.9zM945.40 973.7h2.9V975.3h-2.9zM956.11 974.3h2.9V975.9h-2.9zM959.67 973.4h2.9V975.0h-2.9zM963.24 972.6h2.9V974.2h-2.9zM966.81 970.6h2.9V972.8h-2.9zM970.38 969.6h2.9V971.2h-2.9zM973.95 969.1h2.9V970.7h-2.9zM977.51 965.4h2.9V969.5h-2.9zM981.08 964.3h2.9V965.9h-2.9zM984.65 964.0h2.9V965.6h-2.9zM988.22 959.0h2.9V964.7h-2.9zM1002.49 959.5h2.9V962.0h-2.9zM1006.06 957.2h2.9V959.5h-2.9zM1045.31 974.2h2.9V975.8h-2.9zM1048.87 973.8h2.9V975.4h-2.9zM1056.01 973.8h2.9V975.4h-2.9zM1073.85 975.6h2.9V977.2h-2.9zM1077.42 975.5h2.9V977.1h-2.9zM1080.99 975.5h2.9V977.1h-2.9zM1084.55 975.0h2.9V976.6h-2.9zM1091.69 974.6h2.9V976.2h-2.9zM1102.39 975.4h2.9V977.0h-2.9zM1105.96 974.6h2.9V976.2h-2.9zM1113.10 974.5h2.9V976.1h-2.9zM1145.21 979.4h2.9V981.0h-2.9zM1148.78 979.2h2.9V980.8h-2.9zM1163.05 979.1h2.9V980.7h-2.9zM1166.62 978.4h2.9V980.0h-2.9zM1177.32 978.9h2.9V980.5h-2.9zM1184.46 979.1h2.9V980.7h-2.9zM1188.03 979.0h2.9V980.6h-2.9zM1191.59 978.4h2.9V980.0h-2.9zM1205.87 979.7h2.9V981.3h-2.9zM1209.43 979.2h2.9V980.8h-2.9zM1234.41 982.2h2.9V983.8h-2.9zM1245.11 982.4h2.9V984.0h-2.9zM1248.68 981.9h2.9V983.5h-2.9zM1255.82 981.9h2.9V983.5h-2.9zM1266.52 980.4h2.9V982.8h-2.9zM1270.09 979.3h2.9V980.9h-2.9zM1273.66 978.5h2.9V980.1h-2.9zM1280.79 978.1h2.9V979.7h-2.9zM1284.36 977.3h2.9V978.9h-2.9zM1287.93 976.5h2.9V978.1h-2.9zM1291.50 976.0h2.9V977.6h-2.9zM1302.20 976.4h2.9V978.0h-2.9zM1305.77 976.0h2.9V977.6h-2.9zM1312.91 976.0h2.9V977.6h-2.9zM1330.75 979.4h2.9V981.0h-2.9zM1341.45 979.1h2.9V980.7h-2.9zM1345.02 978.0h2.9V979.6h-2.9zM1348.59 975.0h2.9V978.2h-2.9zM1352.15 971.2h2.9V975.0h-2.9zM1355.72 967.1h2.9V971.2h-2.9zM1359.29 959.3h2.9V967.1h-2.9zM1362.86 951.9h2.9V959.3h-2.9zM1366.43 946.8h2.9V951.9h-2.9zM1369.99 938.3h2.9V946.8h-2.9zM1373.56 933.3h2.9V938.3h-2.9zM1384.27 933.5h2.9V935.1h-2.9zM1387.83 930.2h2.9V934.2h-2.9zM1391.40 928.2h2.9V930.2h-2.9zM1402.11 919.1h2.9V931.1h-2.9zM1412.81 927.0h2.9V929.4h-2.9zM1416.38 925.5h2.9V927.1h-2.9zM1419.95 924.8h2.9V926.4h-2.9zM1430.65 926.7h2.9V929.0h-2.9zM1434.22 925.7h2.9V927.3h-2.9zM1437.79 924.8h2.9V926.4h-2.9zM1441.35 922.4h2.9V924.8h-2.9zM1444.92 918.0h2.9V922.4h-2.9zM1448.49 916.9h2.9V918.5h-2.9zM1452.06 911.3h2.9V917.3h-2.9zM1455.63 909.9h2.9V911.5h-2.9zM1459.19 908.9h2.9V910.5h-2.9zM1462.76 907.0h2.9V909.5h-2.9zM1466.33 903.8h2.9V907.0h-2.9zM1469.90 901.3h2.9V903.8h-2.9zM1480.60 897.2h2.9V911.4h-2.9zM1491.31 902.7h2.9V904.3h-2.9zM1494.87 901.8h2.9V903.4h-2.9zM1498.44 900.6h2.9V902.2h-2.9zM1502.01 899.0h2.9V900.7h-2.9zM1505.58 897.8h2.9V899.4h-2.9zM1509.15 895.3h2.9V898.3h-2.9zM1523.42 901.4h2.9V903.7h-2.9zM1526.99 897.4h2.9V901.4h-2.9zM1569.80 914.2h2.9V915.8h-2.9zM1573.37 913.6h2.9V915.2h-2.9zM1576.94 912.8h2.9V914.4h-2.9zM1605.48 918.4h2.9V920.0h-2.9zM1609.05 916.3h2.9V918.8h-2.9zM1612.62 905.9h2.9V916.3h-2.9zM1616.19 887.5h2.9V905.9h-2.9zM1619.75 882.3h2.9V887.5h-2.9zM1634.03 882.6h2.9V894.0h-2.9zM1648.30 873.8h2.9V888.7h-2.9zM1655.43 869.0h2.9V873.9h-2.9zM1669.71 883.2h2.9V884.8h-2.9zM1673.27 880.5h2.9V883.7h-2.9zM1680.41 880.0h2.9V881.6h-2.9zM1683.98 850h2.9V880.4h-2.9z" fill="#04a348"/>
<path d="M10.59 974.2h2.9V975.8h-2.9zM14.15 974.6h2.9V976.2h-2.9zM56.97 951.8h2.9V957.6h-2.9zM60.54 957.6h2.9V960.3h-2.9zM64.11 960.3h2.9V962.0h-2.9zM67.67 961.7h2.9V963.3h-2.9zM71.24 962.5h2.9V964.1h-2.9zM74.81 963.3h2.9V964.9h-2.9zM78.38 963.8h2.9V965.4h-2.9zM85.51 964.6h2.9V966.8h-2.9zM89.08 966.7h2.9V968.3h-2.9zM92.65 967.7h2.9V969.3h-2.9zM96.22 968.3h2.9V969.9h-2.9zM99.79 968.9h2.9V970.5h-2.9zM103.35 969.6h2.9V971.2h-2.9zM114.06 968.8h2.9V970.4h-2.9zM117.63 969.2h2.9V970.8h-2.9zM121.19 969.5h2.9V971.1h-2.9zM124.76 969.6h2.9V971.2h-2.9zM128.33 970.1h2.9V971.7h-2.9zM131.90 971.1h2.9V972.7h-2.9zM135.47 972.3h2.9V973.9h-2.9zM142.60 972.7h2.9V974.3h-2.9zM153.31 966.6h2.9V968.2h-2.9zM156.87 967.2h2.9V968.8h-2.9zM160.44 967.6h2.9V969.2h-2.9zM164.01 968.0h2.9V969.6h-2.9zM167.58 968.6h2.9V970.2h-2.9zM171.15 969.5h2.9V971.1h-2.9zM174.71 970.7h2.9V972.3h-2.9zM178.28 971.8h2.9V973.4h-2.9zM181.85 972.4h2.9V974.0h-2.9zM192.55 970.7h2.9V972.3h-2.9zM210.39 969.4h2.9V971.0h-2.9zM228.23 965.3h2.9V969.9h-2.9zM249.64 966.5h2.9V968.1h-2.9zM253.21 967.4h2.9V969.0h-2.9zM256.78 968.1h2.9V969.7h-2.9zM281.75 950.6h2.9V954.3h-2.9zM285.32 953.9h2.9V955.5h-2.9zM296.03 947.9h2.9V951.0h-2.9zM299.59 951.0h2.9V956.1h-2.9zM303.16 955.4h2.9V957.0h-2.9zM310.30 955.8h2.9V957.4h-2.9zM313.87 956.5h2.9V958.1h-2.9zM317.43 957.5h2.9V959.1h-2.9zM328.14 952.0h2.9V954.6h-2.9zM331.71 954.6h2.9V958.5h-2.9zM338.84 957.8h2.9V959.4h-2.9zM342.41 958.3h2.9V959.9h-2.9zM363.82 953.4h2.9V959.0h-2.9zM367.39 958.8h2.9V960.4h-2.9zM378.09 949.7h2.9V951.3h-2.9zM381.66 950.2h2.9V951.8h-2.9zM392.36 949.4h2.9V952.1h-2.9zM395.93 952.1h2.9V953.7h-2.9zM410.20 923.6h2.9V925.4h-2.9zM413.77 925.4h2.9V939.1h-2.9zM417.34 939.1h2.9V946.4h-2.9zM420.91 946.4h2.9V948.3h-2.9zM431.61 946.6h2.9V948.5h-2.9zM435.18 948.4h2.9V950.0h-2.9zM438.75 949.5h2.9V951.1h-2.9zM442.31 950.4h2.9V952.0h-2.9zM445.88 951.4h2.9V953.0h-2.9zM449.45 952.3h2.9V953.9h-2.9zM453.02 953.6h2.9V956.1h-2.9zM456.59 956.1h2.9V959.7h-2.9zM460.15 959.7h2.9V961.6h-2.9zM463.72 960.8h2.9V962.4h-2.9zM467.29 961.1h2.9V962.7h-2.9zM470.86 961.6h2.9V963.2h-2.9zM474.43 962.3h2.9V963.9h-2.9zM492.27 958.4h2.9V960.2h-2.9zM495.83 960.2h2.9V962.1h-2.9zM499.40 962.0h2.9V963.6h-2.9zM502.97 963.0h2.9V964.6h-2.9zM506.54 964.1h2.9V965.8h-2.9zM520.81 962.2h2.9V963.8h-2.9zM527.95 962.4h2.9V964.0h-2.9zM531.51 963.4h2.9V965.0h-2.9zM570.76 951.9h2.9V953.5h-2.9zM574.33 953.2h2.9V955.5h-2.9zM588.60 949.6h2.9V951.2h-2.9zM592.17 951.0h2.9V956.3h-2.9zM595.74 956.3h2.9V958.9h-2.9zM599.31 958.9h2.9V961.0h-2.9zM602.87 961.0h2.9V963.0h-2.9zM606.44 962.2h2.9V963.8h-2.9zM613.58 961.7h2.9V963.3h-2.9zM624.28 961.6h2.9V963.2h-2.9zM627.85 962.4h2.9V964.0h-2.9zM634.99 963.2h2.9V964.8h-2.9zM638.55 963.9h2.9V965.5h-2.9zM659.96 960.6h2.9V962.2h-2.9zM663.53 961.2h2.9V962.8h-2.9zM667.10 961.8h2.9V963.4h-2.9zM677.80 961.6h2.9V963.2h-2.9zM688.51 960.7h2.9V962.3h-2.9zM692.07 962.1h2.9V963.7h-2.9zM695.64 963.1h2.9V964.7h-2.9zM699.21 963.8h2.9V965.4h-2.9zM702.78 964.8h2.9V966.4h-2.9zM706.35 965.7h2.9V967.3h-2.9zM709.91 966.3h2.9V967.9h-2.9zM720.62 965.6h2.9V967.2h-2.9zM724.19 966.0h2.9V967.6h-2.9zM727.75 966.6h2.9V968.2h-2.9zM731.32 967.4h2.9V969.0h-2.9zM734.89 968.6h2.9V971.0h-2.9zM738.46 970.7h2.9V972.3h-2.9zM742.03 971.6h2.9V973.2h-2.9zM749.16 972.6h2.9V974.2h-2.9zM752.73 973.9h2.9V975.5h-2.9zM756.30 974.8h2.9V976.4h-2.9zM759.87 975.5h2.9V977.1h-2.9zM763.43 975.8h2.9V977.4h-2.9zM767.00 976.0h2.9V977.6h-2.9zM781.27 975.4h2.9V977.0h-2.9zM795.55 974.8h2.9V976.4h-2.9zM799.11 975.0h2.9V976.6h-2.9zM802.68 975.3h2.9V976.9h-2.9zM806.25 976.1h2.9V977.7h-2.9zM809.82 976.7h2.9V978.3h-2.9zM824.09 974.9h2.9V976.5h-2.9zM827.66 975.3h2.9V976.9h-2.9zM831.23 975.7h2.9V977.3h-2.9zM834.79 976.4h2.9V978.0h-2.9zM838.36 976.7h2.9V978.3h-2.9zM841.93 976.9h2.9V978.5h-2.9zM856.20 976.2h2.9V977.8h-2.9zM859.77 976.7h2.9V978.3h-2.9zM863.34 977.1h2.9V978.7h-2.9zM877.61 976.7h2.9V978.3h-2.9zM881.18 977.2h2.9V978.8h-2.9zM888.31 977.6h2.9V979.2h-2.9zM899.02 976.6h2.9V978.2h-2.9zM902.59 976.9h2.9V978.5h-2.9zM916.86 972.8h2.9V974.4h-2.9zM920.43 973.1h2.9V974.7h-2.9zM923.99 973.5h2.9V975.1h-2.9zM927.56 973.8h2.9V975.4h-2.9zM931.13 974.0h2.9V975.6h-2.9zM941.83 973.9h2.9V975.5h-2.9zM948.97 973.8h2.9V975.4h-2.9zM952.54 974.5h2.9V976.1h-2.9zM991.79 958.4h2.9V960.0h-2.9zM995.35 959.4h2.9V961.0h-2.9zM998.92 960.7h2.9V962.3h-2.9zM1009.63 957.0h2.9V958.6h-2.9zM1013.19 958.4h2.9V962.1h-2.9zM1016.76 961.9h2.9V963.5h-2.9zM1020.33 962.7h2.9V964.3h-2.9zM1023.90 963.6h2.9V965.2h-2.9zM1027.47 964.7h2.9V966.3h-2.9zM1031.03 965.7h2.9V967.3h-2.9zM1034.60 966.9h2.9V974.4h-2.9zM1038.17 974.0h2.9V975.6h-2.9zM1041.74 974.4h2.9V976.0h-2.9zM1052.44 973.7h2.9V975.3h-2.9zM1059.58 973.8h2.9V975.4h-2.9zM1063.15 974.1h2.9V975.7h-2.9zM1066.71 974.7h2.9V976.3h-2.9zM1070.28 975.3h2.9V976.9h-2.9zM1088.12 974.7h2.9V976.3h-2.9zM1095.26 974.7h2.9V976.3h-2.9zM1098.83 975.4h2.9V977.0h-2.9zM1109.53 974.5h2.9V976.1h-2.9zM1116.67 974.4h2.9V976.0h-2.9zM1120.23 974.7h2.9V976.3h-2.9zM1123.80 975.5h2.9V977.1h-2.9zM1127.37 976.4h2.9V978.0h-2.9zM1130.94 976.9h2.9V978.5h-2.9zM1134.51 977.6h2.9V979.2h-2.9zM1138.07 978.4h2.9V980.0h-2.9zM1141.64 979.1h2.9V980.7h-2.9zM1152.35 979.3h2.9V980.9h-2.9zM1155.91 979.5h2.9V981.1h-2.9zM1159.48 979.6h2.9V981.2h-2.9zM1170.19 978.5h2.9V980.1h-2.9zM1173.75 978.8h2.9V980.4h-2.9zM1180.89 979.0h2.9V980.6h-2.9zM1195.16 978.1h2.9V979.7h-2.9zM1198.73 978.8h2.9V980.4h-2.9zM1202.30 979.7h2.9V981.3h-2.9zM1213.00 979.0h2.9V980.6h-2.9zM1216.57 979.4h2.9V981.0h-2.9zM1220.14 980.1h2.9V981.7h-2.9zM1223.71 980.7h2.9V982.3h-2.9zM1227.27 981.4h2.9V983.0h-2.9zM1230.84 982.0h2.9V983.6h-2.9zM1237.98 982.2h2.9V983.8h-2.9zM1241.55 982.4h2.9V984.0h-2.9zM1252.25 981.8h2.9V983.4h-2.9zM1259.39 981.7h2.9V983.3h-2.9zM1262.95 981.9h2.9V983.5h-2.9zM1277.23 978.3h2.9V979.9h-2.9zM1295.07 976.0h2.9V977.6h-2.9zM1298.63 976.3h2.9V977.9h-2.9zM1309.34 976.1h2.9V977.7h-2.9zM1316.47 976.3h2.9V977.9h-2.9zM1320.04 977.0h2.9V978.6h-2.9zM1323.61 977.9h2.9V979.5h-2.9zM1327.18 979.0h2.9V980.6h-2.9zM1334.31 979.3h2.9V980.9h-2.9zM1337.88 979.6h2.9V981.2h-2.9zM1377.13 932.5h2.9V934.1h-2.9zM1380.70 933.1h2.9V934.7h-2.9zM1394.97 928.2h2.9V930.3h-2.9zM1398.54 929.9h2.9V931.5h-2.9zM1405.67 919.1h2.9V925.7h-2.9zM1409.24 925.7h2.9V929.4h-2.9zM1423.51 925.5h2.9V927.2h-2.9zM1427.08 927.2h2.9V929.0h-2.9zM1473.47 901.3h2.9V910.1h-2.9zM1477.03 909.9h2.9V911.5h-2.9zM1484.17 896.8h2.9V898.4h-2.9zM1487.74 898.0h2.9V904.0h-2.9zM1512.71 895.0h2.9V896.6h-2.9zM1516.28 896.3h2.9V901.1h-2.9zM1519.85 901.1h2.9V903.7h-2.9zM1530.55 896.7h2.9V898.3h-2.9zM1534.12 897.6h2.9V899.4h-2.9zM1537.69 899.4h2.9V902.1h-2.9zM1541.26 902.1h2.9V904.1h-2.9zM1544.83 903.7h2.9V905.3h-2.9zM1548.39 904.9h2.9V906.8h-2.9zM1551.96 906.4h2.9V908.0h-2.9zM1555.53 906.9h2.9V908.5h-2.9zM1559.10 907.5h2.9V909.1h-2.9zM1562.67 908.7h2.9V911.7h-2.9zM1566.23 911.7h2.9V915.3h-2.9zM1580.51 912.6h2.9V914.2h-2.9zM1584.07 913.1h2.9V914.7h-2.9zM1587.64 914.3h2.9V916.7h-2.9zM1591.21 916.6h2.9V918.2h-2.9zM1594.78 917.7h2.9V919.3h-2.9zM1598.35 918.4h2.9V920.0h-2.9zM1601.91 918.7h2.9V920.3h-2.9zM1623.32 882.3h2.9V884.4h-2.9zM1626.89 884.4h2.9V890.6h-2.9zM1630.46 890.6h2.9V894.0h-2.9zM1637.59 881.9h2.9V883.5h-2.9zM1641.16 882.7h2.9V887.2h-2.9zM1644.73 887.2h2.9V888.8h-2.9zM1651.87 873.1h2.9V874.7h-2.9zM1659.00 869.0h2.9V872.4h-2.9zM1662.57 872.4h2.9V876.5h-2.9zM1666.14 876.5h2.9V884.4h-2.9zM1676.84 880.0h2.9V881.6h-2.9z" fill="#f23535"/>
<path d="M1687.75 852.5h2.5v1.6h-2.5zM1698.45 852.5h2.5v1.6h-2.5zM1705.59 852.5h2.5v1.6h-2.5zM1719.86 852.5h2.5v1.6h-2.5zM1723.43 852.5h2.5v1.6h-2.5zM1730.56 852.5h2.5v1.6h-2.5zM1734.13 852.5h2.5v1.6h-2.5zM1741.27 852.5h2.5v1.6h-2.5zM1769.81 852.5h2.5v1.6h-2.5zM1773.38 852.5h2.5v1.6h-2.5zM1780.51 852.5h2.5v1.6h-2.5zM1794.79 852.5h2.5v1.6h-2.5zM1798.35 852.5h2.5v1.6h-2.5zM1801.92 852.5h2.5v1.6h-2.5zM1819.76 852.5h2.5v1.6h-2.5zM1823.33 852.5h2.5v1.6h-2.5zM1834.03 852.5h2.5v1.6h-2.5zM1844.74 852.5h2.5v1.6h-2.5zM1848.31 852.5h2.5v1.6h-2.5zM1862.58 852.5h2.5v1.6h-2.5zM1883.99 852.5h2.5v1.6h-2.5zM1887.55 852.5h2.5v1.6h-2.5zM1891.12 852.5h2.5v1.6h-2.5zM1901.83 852.5h2.5v1.6h-2.5zM1905.39 852.5h2.5v1.6h-2.5zM1916.10 852.5h2.5v1.6h-2.5zM1926.80 852.5h2.5v1.6h-2.5zM1930.37 852.5h2.5v1.6h-2.5zM1937.51 852.5h2.5v1.6h-2.5zM1944.64 852.5h2.5v1.6h-2.5zM1948.21 852.5h2.5v1.6h-2.5zM1962.48 852.5h2.5v1.6h-2.5zM1966.05 852.5h2.5v1.6h-2.5zM1973.19 852.5h2.5v1.6h-2.5zM1991.03 852.5h2.5v1.6h-2.5zM1994.59 852.5h2.5v1.6h-2.5zM1998.16 852.5h2.5v1.6h-2.5zM2005.30 852.5h2.5v1.6h-2.5zM2008.87 852.5h2.5v1.6h-2.5zM2012.43 852.5h2.5v1.6h-2.5zM2030.27 852.5h2.5v1.6h-2.5zM2033.84 852.5h2.5v1.6h-2.5zM2040.98 852.5h2.5v1.6h-2.5zM2048.11 852.5h2.5v1.6h-2.5zM2051.68 852.5h2.5v1.6h-2.5zM2055.25 852.5h2.5v1.6h-2.5zM2058.82 852.5h2.5v1.6h-2.5zM2069.52 852.5h2.5v1.6h-2.5zM2073.09 852.5h2.5v1.6h-2.5zM2076.66 852.5h2.5v1.6h-2.5zM2080.23 852.5h2.5v1.6h-2.5zM2094.50 852.5h2.5v1.6h-2.5zM2101.63 852.5h2.5v1.6h-2.5zM2105.20 852.5h2.5v1.6h-2.5zM2115.91 852.5h2.5v1.6h-2.5zM2126.61 852.5h2.5v1.6h-2.5zM2137.31 852.5h2.5v1.6h-2.5zM2144.45 852.5h2.5v1.6h-2.5zM2148.02 852.5h2.5v1.6h-2.5zM2155.15 852.5h2.5v1.6h-2.5zM2158.72 852.5h2.5v1.6h-2.5zM2165.86 852.5h2.5v1.6h-2.5zM2172.99 852.5h2.5v1.6h-2.5zM2176.56 852.5h2.5v1.6h-2.5zM2180.13 852.5h2.5v1.6h-2.5zM2183.70 852.5h2.5v1.6h-2.5zM2190.83 852.5h2.5v1.6h-2.5zM2197.97 852.5h2.5v1.6h-2.5zM2205.11 852.5h2.5v1.6h-2.5zM2208.67 852.5h2.5v1.6h-2.5zM2212.24 852.5h2.5v1.6h-2.5zM2215.81 852.5h2.5v1.6h-2.5zM2222.95 852.5h2.5v1.6h-2.5zM2226.51 852.5h2.5v1.6h-2.5zM2230.08 852.5h2.5v1.6h-2.5zM2233.65 852.5h2.5v1.6h-2.5zM2237.22 852.5h2.5v1.6h-2.5zM2240.79 852.5h2.5v1.6h-2.5zM2247.92 852.5h2.5v1.6h-2.5zM2251.49 852.5h2.5v1.6h-2.5zM2258.63 852.5h2.5v1.6h-2.5zM2262.19 852.5h2.5v1.6h-2.5zM2269.33 852.5h2.5v1.6h-2.5zM2272.90 852.5h2.5v1.6h-2.5zM2283.60 852.5h2.5v1.6h-2.5zM2287.17 852.5h2.5v1.6h-2.5zM2294.31 852.5h2.5v1.6h-2.5zM2301.44 852.5h2.5v1.6h-2.5zM2312.15 852.5h2.5v1.6h-2.5zM2315.71 852.5h2.5v1.6h-2.5zM2319.28 852.5h2.5v1.6h-2.5zM2326.42 852.5h2.5v1.6h-2.5zM2337.12 852.5h2.5v1.6h-2.5zM2340.69 852.5h2.5v1.6h-2.5zM2347.83 852.5h2.5v1.6h-2.5zM2354.96 852.5h2.5v1.6h-2.5zM2365.67 852.5h2.5v1.6h-2.5zM2372.80 852.5h2.5v1.6h-2.5zM2383.51 852.5h2.5v1.6h-2.5zM2387.07 852.5h2.5v1.6h-2.5zM2390.64 852.5h2.5v1.6h-2.5zM2394.21 852.5h2.5v1.6h-2.5zM2401.35 852.5h2.5v1.6h-2.5zM2408.48 852.5h2.5v1.6h-2.5zM2415.62 852.5h2.5v1.6h-2.5zM2422.75 852.5h2.5v1.6h-2.5zM2426.32 852.5h2.5v1.6h-2.5zM2429.89 852.5h2.5v1.6h-2.5z" fill="#078a40"/>
<path d="M1691.31 852.5h2.5v1.6h-2.5zM1694.88 852.5h2.5v1.6h-2.5zM1702.02 852.5h2.5v1.6h-2.5zM1709.15 852.5h2.5v1.6h-2.5zM1712.72 852.5h2.5v1.6h-2.5zM1716.29 852.5h2.5v1.6h-2.5zM1726.99 852.5h2.5v1.6h-2.5zM1737.70 852.5h2.5v1.6h-2.5zM1744.83 852.5h2.5v1.6h-2.5zM1748.40 852.5h2.5v1.6h-2.5zM1751.97 852.5h2.5v1.6h-2.5zM1755.54 852.5h2.5v1.6h-2.5zM1759.11 852.5h2.5v1.6h-2.5zM1762.67 852.5h2.5v1.6h-2.5zM1766.24 852.5h2.5v1.6h-2.5zM1776.95 852.5h2.5v1.6h-2.5zM1784.08 852.5h2.5v1.6h-2.5zM1787.65 852.5h2.5v1.6h-2.5zM1791.22 852.5h2.5v1.6h-2.5zM1805.49 852.5h2.5v1.6h-2.5zM1809.06 852.5h2.5v1.6h-2.5zM1812.63 852.5h2.5v1.6h-2.5zM1816.19 852.5h2.5v1.6h-2.5zM1826.90 852.5h2.5v1.6h-2.5zM1830.47 852.5h2.5v1.6h-2.5zM1837.60 852.5h2.5v1.6h-2.5zM1841.17 852.5h2.5v1.6h-2.5zM1851.87 852.5h2.5v1.6h-2.5zM1855.44 852.5h2.5v1.6h-2.5zM1859.01 852.5h2.5v1.6h-2.5zM1866.15 852.5h2.5v1.6h-2.5zM1869.71 852.5h2.5v1.6h-2.5zM1873.28 852.5h2.5v1.6h-2.5zM1876.85 852.5h2.5v1.6h-2.5zM1880.42 852.5h2.5v1.6h-2.5zM1894.69 852.5h2.5v1.6h-2.5zM1898.26 852.5h2.5v1.6h-2.5zM1908.96 852.5h2.5v1.6h-2.5zM1912.53 852.5h2.5v1.6h-2.5zM1919.67 852.5h2.5v1.6h-2.5zM1923.23 852.5h2.5v1.6h-2.5zM1933.94 852.5h2.5v1.6h-2.5zM1941.07 852.5h2.5v1.6h-2.5zM1951.78 852.5h2.5v1.6h-2.5zM1955.35 852.5h2.5v1.6h-2.5zM1958.91 852.5h2.5v1.6h-2.5zM1969.62 852.5h2.5v1.6h-2.5zM1976.75 852.5h2.5v1.6h-2.5zM1980.32 852.5h2.5v1.6h-2.5zM1983.89 852.5h2.5v1.6h-2.5zM1987.46 852.5h2.5v1.6h-2.5zM2001.73 852.5h2.5v1.6h-2.5zM2016.00 852.5h2.5v1.6h-2.5zM2019.57 852.5h2.5v1.6h-2.5zM2023.14 852.5h2.5v1.6h-2.5zM2026.71 852.5h2.5v1.6h-2.5zM2037.41 852.5h2.5v1.6h-2.5zM2044.55 852.5h2.5v1.6h-2.5zM2062.39 852.5h2.5v1.6h-2.5zM2065.95 852.5h2.5v1.6h-2.5zM2083.79 852.5h2.5v1.6h-2.5zM2087.36 852.5h2.5v1.6h-2.5zM2090.93 852.5h2.5v1.6h-2.5zM2098.07 852.5h2.5v1.6h-2.5zM2108.77 852.5h2.5v1.6h-2.5zM2112.34 852.5h2.5v1.6h-2.5zM2119.47 852.5h2.5v1.6h-2.5zM2123.04 852.5h2.5v1.6h-2.5zM2130.18 852.5h2.5v1.6h-2.5zM2133.75 852.5h2.5v1.6h-2.5zM2140.88 852.5h2.5v1.6h-2.5zM2151.59 852.5h2.5v1.6h-2.5zM2162.29 852.5h2.5v1.6h-2.5zM2169.43 852.5h2.5v1.6h-2.5zM2187.27 852.5h2.5v1.6h-2.5zM2194.40 852.5h2.5v1.6h-2.5zM2201.54 852.5h2.5v1.6h-2.5zM2219.38 852.5h2.5v1.6h-2.5zM2244.35 852.5h2.5v1.6h-2.5zM2255.06 852.5h2.5v1.6h-2.5zM2265.76 852.5h2.5v1.6h-2.5zM2276.47 852.5h2.5v1.6h-2.5zM2280.03 852.5h2.5v1.6h-2.5zM2290.74 852.5h2.5v1.6h-2.5zM2297.87 852.5h2.5v1.6h-2.5zM2305.01 852.5h2.5v1.6h-2.5zM2308.58 852.5h2.5v1.6h-2.5zM2322.85 852.5h2.5v1.6h-2.5zM2329.99 852.5h2.5v1.6h-2.5zM2333.55 852.5h2.5v1.6h-2.5zM2344.26 852.5h2.5v1.6h-2.5zM2351.39 852.5h2.5v1.6h-2.5zM2358.53 852.5h2.5v1.6h-2.5zM2362.10 852.5h2.5v1.6h-2.5zM2369.23 852.5h2.5v1.6h-2.5zM2376.37 852.5h2.5v1.6h-2.5zM2379.94 852.5h2.5v1.6h-2.5zM2397.78 852.5h2.5v1.6h-2.5zM2404.91 852.5h2.5v1.6h-2.5zM2412.05 852.5h2.5v1.6h-2.5zM2419.19 852.5h2.5v1.6h-2.5z" fill="#c02a35"/>
<path d="M2120.5 853h2.6v3.2h-2.6z" fill="#c02a35"/>
</g>
<path d="M5 1002.5H2433" stroke="#4c4c4c" stroke-width="1.3" stroke-dasharray="4 4" fill="none"/>
<g clip-path="url(#cpFRpos)"><path d="M5.0 1105.9C5.0 1105.9 5.0 1106.2 5.3 1105.9C5.7 1105.7 5.5 1104.9 7.5 1104.6C9.5 1104.4 13.7 1103.9 15.9 1104.6C18.2 1105.3 18.5 1107.1 19.7 1108.4C20.9 1109.6 21.5 1111.6 22.5 1111.6C23.5 1111.6 24.4 1109.2 25.3 1108.4C26.3 1107.6 26.7 1106.8 27.8 1107.3C28.8 1107.7 29.8 1108.7 30.9 1111.0C32.0 1113.3 32.7 1117.0 33.8 1120.0C34.8 1123.0 35.5 1127.2 36.6 1127.1C37.7 1127.1 38.6 1120.2 39.8 1119.6C40.9 1119.0 41.6 1117.8 42.8 1123.8C43.9 1129.7 44.8 1150.5 45.9 1152.3C47.0 1154.0 47.8 1140.7 48.8 1133.1C49.7 1125.6 50.1 1116.2 51.0 1111.0C51.9 1105.8 52.5 1109.2 53.4 1105.0C54.3 1100.8 54.9 1093.2 55.9 1088.1C56.8 1083.0 57.6 1077.3 58.5 1077.3C59.4 1077.3 60.0 1082.9 60.9 1088.1C61.9 1093.4 63.0 1101.5 63.8 1105.9C64.5 1110.4 64.4 1112.3 65.1 1112.5C65.8 1112.7 66.4 1108.4 67.5 1106.9C68.6 1105.3 69.7 1104.1 70.9 1104.1C72.1 1104.1 73.0 1105.8 74.1 1106.9C75.2 1107.9 75.7 1109.6 76.9 1109.7C78.1 1109.8 78.7 1108.3 80.6 1107.3C82.5 1106.2 84.8 1104.6 87.2 1104.1C89.6 1103.5 90.5 1104.2 93.8 1104.3C97.0 1104.3 100.9 1104.4 105.0 1104.4C109.1 1104.4 112.8 1104.3 116.3 1104.3C119.7 1104.2 121.9 1103.4 123.8 1104.1C125.6 1104.7 125.6 1106.0 126.6 1107.8C127.5 1109.6 128.0 1113.9 129.0 1114.0C130.0 1114.1 131.0 1108.3 132.2 1108.4C133.4 1108.4 134.2 1114.4 135.4 1114.4C136.6 1114.4 137.5 1110.2 138.8 1108.4C140.0 1106.6 140.9 1105.1 142.1 1104.6C143.3 1104.2 144.0 1105.4 145.3 1105.9C146.6 1106.5 147.7 1108.0 149.1 1107.8C150.4 1107.6 151.4 1105.7 152.8 1105.0C154.2 1104.3 155.4 1103.8 156.6 1104.1C157.8 1104.3 158.3 1105.2 159.4 1106.5C160.4 1107.8 161.2 1108.7 162.2 1111.0C163.2 1113.3 164.1 1117.1 165.0 1119.1C165.9 1121.1 166.4 1122.4 167.3 1121.9C168.1 1121.4 168.9 1118.8 169.7 1116.3C170.5 1113.7 170.9 1109.9 171.6 1107.8C172.3 1105.8 172.6 1104.8 173.4 1105.0C174.2 1105.2 175.0 1106.4 175.9 1109.1C176.7 1111.9 177.2 1115.9 178.1 1120.0C179.1 1124.1 179.9 1128.1 180.9 1131.3C182.0 1134.4 182.7 1136.3 183.8 1137.3C184.8 1138.2 185.4 1134.2 186.6 1136.5C187.7 1138.8 188.7 1150.1 189.9 1149.6C191.1 1149.2 191.9 1139.2 193.1 1134.1C194.4 1129.0 195.4 1125.1 196.9 1121.9C198.3 1118.6 199.8 1115.9 201.0 1116.3C202.2 1116.6 202.5 1121.3 203.4 1123.8C204.3 1126.2 205.0 1129.6 205.9 1129.8C206.7 1129.9 207.2 1128.1 208.1 1124.7C209.1 1121.3 210.0 1114.5 210.9 1111.0C211.9 1107.5 212.3 1105.5 213.4 1105.4C214.4 1105.2 215.6 1108.6 216.6 1110.3C217.5 1111.9 217.6 1112.1 218.4 1114.4C219.2 1116.7 220.0 1122.5 220.9 1122.8C221.7 1123.2 222.3 1118.7 223.1 1116.3C224.0 1113.8 224.9 1108.7 225.6 1109.7C226.3 1110.7 226.0 1115.2 226.9 1121.9C227.7 1128.5 229.0 1143.1 230.3 1145.9C231.5 1148.6 232.0 1140.1 233.4 1136.9C234.9 1133.7 236.6 1130.5 238.1 1128.4C239.7 1126.4 240.8 1124.9 241.9 1125.6C242.9 1126.3 243.0 1127.0 243.8 1132.2C244.5 1137.3 245.2 1148.3 246.0 1153.8C246.8 1159.3 247.1 1163.7 247.9 1162.2C248.7 1160.6 249.5 1146.9 250.3 1145.3C251.1 1143.8 251.5 1146.7 252.2 1153.8C252.9 1160.8 253.2 1174.3 254.1 1183.8C254.9 1193.2 255.8 1206.0 256.9 1205.3C257.9 1204.6 258.7 1192.9 259.7 1180.0C260.7 1167.1 261.3 1146.0 262.5 1135.0C263.7 1124.0 265.0 1124.4 266.3 1120.0C267.5 1115.6 268.0 1113.6 269.1 1111.0C270.1 1108.4 270.8 1107.2 271.9 1105.9C272.9 1104.7 273.3 1104.5 274.7 1104.1C276.1 1103.7 277.5 1103.7 279.4 1103.7C281.3 1103.7 283.7 1102.7 285.0 1104.1C286.3 1105.4 286.0 1103.6 286.5 1111.0C287.0 1118.4 287.1 1129.9 287.8 1144.4C288.5 1158.8 289.4 1189.8 290.3 1189.8C291.1 1189.8 291.8 1158.8 292.5 1144.4C293.2 1129.9 293.2 1118.2 294.0 1111.0C294.8 1103.9 295.6 1106.0 296.6 1105.4C297.7 1104.8 298.5 1107.7 299.6 1107.8C300.8 1107.9 301.4 1106.6 302.8 1105.9C304.3 1105.3 305.6 1104.7 307.5 1104.4C309.4 1104.2 311.1 1104.6 313.1 1104.4C315.2 1104.3 317.2 1104.8 318.8 1103.5C320.3 1102.2 320.7 1100.1 321.6 1097.5C322.4 1094.9 322.6 1091.7 323.4 1089.1C324.2 1086.4 325.0 1082.7 325.9 1082.9C326.7 1083.0 327.3 1086.8 328.1 1090.0C329.0 1093.2 329.5 1098.0 330.4 1100.3C331.2 1102.7 331.9 1103.1 332.8 1102.8C333.8 1102.4 334.6 1098.5 335.6 1098.4C336.7 1098.3 337.6 1100.5 338.4 1102.2C339.3 1103.9 339.5 1105.8 340.3 1107.8C341.1 1109.9 341.8 1113.2 342.8 1113.4C343.7 1113.7 344.4 1112.0 345.4 1109.1C346.3 1106.2 346.7 1102.2 347.8 1097.5C348.9 1092.8 350.0 1084.5 351.2 1083.4C352.4 1082.4 353.3 1089.0 354.4 1091.9C355.5 1094.8 356.2 1096.8 357.2 1099.4C358.2 1102.0 359.1 1103.8 360.0 1105.9C360.9 1108.1 361.1 1107.9 361.9 1111.0C362.6 1114.1 363.4 1120.0 364.1 1122.8C364.9 1125.6 365.2 1126.7 366.0 1126.2C366.8 1125.7 367.5 1122.8 368.4 1120.0C369.4 1117.2 370.4 1114.3 371.3 1111.0C372.1 1107.7 372.4 1105.4 373.1 1102.2C373.9 1099.0 374.6 1095.8 375.4 1093.8C376.1 1091.7 376.5 1090.6 377.3 1090.9C378.0 1091.3 378.9 1093.9 379.7 1095.6C380.5 1097.3 380.9 1100.3 381.6 1100.3C382.3 1100.3 382.8 1098.5 383.4 1095.6C384.1 1092.7 384.6 1088.0 385.3 1084.4C386.0 1080.8 386.4 1076.3 387.2 1075.9C388.0 1075.6 388.8 1078.9 389.6 1082.5C390.5 1086.1 390.9 1091.8 391.9 1095.6C392.8 1099.4 393.7 1101.5 394.7 1103.1C395.7 1104.8 396.5 1104.5 397.5 1104.6C398.5 1104.8 399.4 1106.1 400.3 1104.1C401.3 1102.1 401.9 1097.5 402.8 1093.8C403.6 1090.0 404.2 1086.0 405.0 1083.4C405.8 1080.9 406.1 1079.2 406.9 1079.7C407.6 1080.2 408.3 1082.5 409.1 1086.3C410.0 1090.0 410.8 1095.8 411.6 1100.3C412.4 1104.9 412.6 1107.0 413.4 1111.0C414.3 1115.0 415.2 1118.5 416.3 1121.9C417.3 1125.2 418.0 1127.5 419.1 1129.4C420.1 1131.3 420.7 1131.7 421.9 1132.2C423.1 1132.7 424.4 1131.7 425.6 1132.2C426.8 1132.7 427.5 1133.1 428.4 1135.0C429.4 1136.9 429.9 1140.5 430.7 1142.5C431.5 1144.5 432.0 1146.6 432.8 1145.9C433.5 1145.2 433.9 1142.8 434.6 1138.8C435.4 1134.7 436.1 1128.8 436.9 1123.8C437.7 1118.7 438.4 1113.8 439.1 1111.0C439.8 1108.2 439.9 1108.3 440.6 1108.4C441.3 1108.5 442.2 1108.4 442.9 1111.6C443.6 1114.7 443.8 1120.6 444.4 1125.6C445.0 1130.6 445.6 1135.4 446.3 1138.8C446.9 1142.1 447.1 1144.0 447.8 1144.0C448.4 1144.0 449.2 1140.2 450.0 1138.8C450.8 1137.3 451.4 1136.2 452.3 1135.9C453.1 1135.7 453.8 1137.4 454.7 1137.3C455.6 1137.1 456.3 1134.1 457.1 1135.4C458.0 1136.7 458.6 1141.4 459.4 1144.4C460.1 1147.3 460.6 1151.8 461.3 1151.5C461.9 1151.2 462.4 1145.9 463.1 1142.5C463.9 1139.1 464.6 1133.5 465.4 1133.1C466.1 1132.8 466.5 1137.9 467.3 1140.6C468.0 1143.4 468.7 1146.9 469.7 1148.1C470.7 1149.3 471.5 1148.0 472.5 1147.2C473.5 1146.3 474.4 1143.3 475.3 1143.4C476.3 1143.6 476.9 1146.4 477.8 1148.1C478.6 1149.8 478.9 1153.5 479.8 1152.8C480.6 1152.1 481.3 1148.0 482.2 1144.4C483.1 1140.8 483.8 1136.3 484.6 1133.1C485.5 1130.0 485.9 1127.9 486.9 1127.1C487.8 1126.4 488.7 1129.3 489.7 1129.0C490.7 1128.7 491.5 1127.6 492.5 1125.6C493.5 1123.6 494.4 1120.2 495.3 1118.1C496.3 1116.1 496.8 1114.4 497.8 1114.4C498.7 1114.4 499.3 1116.6 500.4 1118.1C501.4 1119.7 502.4 1119.7 503.4 1122.8C504.3 1125.9 504.7 1130.5 505.6 1135.0C506.6 1139.5 507.4 1145.3 508.4 1147.2C509.5 1149.1 510.0 1146.2 511.3 1145.3C512.5 1144.5 513.8 1144.4 515.0 1142.5C516.2 1140.6 516.9 1138.4 517.8 1135.0C518.8 1131.6 519.4 1127.4 520.3 1123.8C521.1 1120.1 521.6 1117.0 522.5 1115.3C523.4 1113.7 524.3 1115.2 525.3 1114.8C526.3 1114.3 527.2 1112.5 528.1 1113.1C529.1 1113.6 529.5 1117.3 530.4 1117.8C531.2 1118.2 531.8 1116.6 532.8 1115.3C533.8 1114.1 534.8 1112.1 536.0 1111.0C537.2 1109.9 537.9 1110.2 539.4 1109.1C540.9 1108.0 542.0 1105.9 544.1 1105.0C546.1 1104.1 548.4 1104.6 550.6 1104.4C552.9 1104.3 554.4 1104.7 556.3 1104.1C558.1 1103.4 559.6 1101.2 560.9 1100.9C562.3 1100.5 562.7 1103.3 563.8 1102.2C564.8 1101.1 565.7 1096.6 566.6 1094.7C567.4 1092.7 567.6 1091.3 568.4 1091.5C569.2 1091.7 570.1 1093.9 570.9 1095.6C571.7 1097.3 572.0 1099.8 572.8 1100.9C573.5 1102.0 574.1 1102.8 575.0 1101.6C575.9 1100.5 576.6 1097.9 577.8 1094.7C579.0 1091.5 580.3 1087.0 581.6 1084.4C582.8 1081.7 583.7 1080.4 584.8 1080.3C585.8 1080.1 586.4 1081.0 587.2 1083.4C588.0 1085.9 588.3 1090.7 589.1 1093.8C589.9 1096.8 590.3 1098.5 591.5 1100.3C592.7 1102.1 593.8 1102.8 595.6 1103.5C597.4 1104.2 598.2 1104.1 601.3 1104.3C604.3 1104.4 608.4 1104.3 612.5 1104.3C616.6 1104.3 620.7 1104.2 623.8 1104.3C626.8 1104.3 627.5 1104.0 629.4 1104.6C631.3 1105.3 632.5 1106.7 634.1 1107.8C635.6 1108.9 636.4 1108.7 637.8 1110.6C639.2 1112.5 640.2 1118.0 641.6 1118.1C642.9 1118.3 644.1 1113.8 645.3 1111.6C646.5 1109.3 646.8 1107.3 648.1 1105.9C649.5 1104.6 650.8 1104.6 652.8 1104.3C654.9 1103.9 657.5 1103.9 659.4 1104.3C661.3 1104.6 661.6 1104.6 663.1 1105.9C664.7 1107.3 666.3 1111.4 667.8 1111.6C669.4 1111.7 670.0 1108.2 671.6 1106.9C673.1 1105.6 674.0 1104.9 676.3 1104.4C678.5 1104.0 681.0 1104.3 683.8 1104.3C686.5 1104.2 689.0 1103.6 691.3 1104.3C693.5 1104.9 694.6 1107.1 695.9 1107.8C697.3 1108.6 697.5 1108.5 698.8 1108.4C700.0 1108.2 701.1 1105.8 702.5 1106.9C703.9 1107.9 705.1 1113.2 706.6 1114.0C708.2 1114.8 709.5 1112.4 710.9 1111.0C712.4 1109.6 713.5 1107.0 714.7 1106.5C715.9 1106.0 716.5 1108.3 717.5 1108.4C718.5 1108.4 719.2 1106.4 720.3 1106.9C721.4 1107.4 722.3 1109.1 723.5 1111.0C724.7 1112.9 725.4 1115.5 726.9 1117.2C728.4 1118.8 730.2 1117.8 731.6 1120.0C732.9 1122.2 733.4 1126.1 734.4 1129.4C735.3 1132.6 735.6 1137.5 736.6 1137.8C737.7 1138.2 738.7 1134.5 740.0 1131.3C741.3 1128.0 742.4 1124.0 743.8 1120.0C745.1 1116.0 746.1 1111.7 747.1 1109.7C748.2 1107.7 748.3 1108.5 749.4 1109.1C750.4 1109.7 751.5 1113.1 752.8 1113.1C754.0 1113.1 754.8 1110.6 755.9 1109.1C757.0 1107.6 757.2 1105.8 758.8 1105.0C760.3 1104.2 762.3 1104.5 764.4 1104.6C766.4 1104.8 768.2 1104.4 770.0 1105.9C771.8 1107.5 772.8 1112.0 774.1 1112.9C775.5 1113.7 776.4 1111.6 777.5 1110.6C778.6 1109.7 778.6 1108.3 780.3 1107.8C782.0 1107.3 785.0 1107.0 786.9 1107.8C788.8 1108.7 789.4 1111.0 790.6 1112.5C791.8 1114.0 792.2 1116.3 793.4 1116.3C794.6 1116.3 795.8 1113.8 797.2 1112.5C798.6 1111.2 799.6 1109.7 800.9 1109.1C802.3 1108.5 803.3 1109.9 804.7 1109.1C806.1 1108.4 806.9 1105.7 808.4 1105.0C810.0 1104.3 811.4 1105.7 813.1 1105.6C814.8 1105.5 815.4 1104.7 817.8 1104.4C820.2 1104.2 823.2 1104.2 826.3 1104.3C829.3 1104.3 832.6 1103.1 834.7 1104.6C836.8 1106.1 836.6 1109.8 837.5 1112.5C838.4 1115.3 838.8 1118.3 839.8 1119.6C840.7 1121.0 841.8 1118.7 842.8 1120.0C843.7 1121.3 844.2 1124.7 845.0 1126.6C845.8 1128.5 846.3 1131.2 847.3 1130.3C848.2 1129.5 849.1 1125.4 850.3 1121.9C851.4 1118.3 852.2 1113.6 853.4 1111.0C854.7 1108.4 855.5 1108.6 857.2 1107.8C858.9 1107.1 860.8 1107.4 862.8 1106.9C864.9 1106.4 866.5 1105.2 868.4 1105.0C870.3 1104.8 871.2 1105.5 873.1 1105.6C875.0 1105.7 876.5 1105.8 878.8 1105.6C881.0 1105.4 882.6 1104.6 885.3 1104.4C888.1 1104.2 890.8 1104.4 893.8 1104.4C896.7 1104.4 898.2 1104.5 901.3 1104.4C904.3 1104.4 907.7 1104.0 910.6 1104.1C913.5 1104.1 915.0 1103.8 917.2 1104.6C919.4 1105.4 920.8 1108.3 922.8 1108.4C924.9 1108.4 926.5 1105.2 928.4 1105.0C930.3 1104.8 931.2 1107.3 933.1 1107.3C935.0 1107.3 936.7 1105.5 938.8 1105.0C940.8 1104.5 942.8 1104.7 944.4 1104.6C946.0 1104.6 944.9 1104.7 947.5 1104.6C950.1 1104.6 956.2 1103.7 958.8 1104.4C961.3 1105.2 960.6 1106.9 961.6 1108.8C962.5 1110.6 963.1 1114.3 964.0 1114.4C964.9 1114.4 965.7 1110.8 966.6 1109.1C967.6 1107.4 967.8 1105.9 969.1 1105.0C970.4 1104.1 972.0 1104.9 973.8 1104.1C975.5 1103.2 976.9 1101.3 978.4 1100.3C980.0 1099.3 981.0 1099.6 982.2 1098.4C983.4 1097.3 984.1 1095.1 985.0 1094.1C985.9 1093.2 986.3 1092.9 987.3 1093.4C988.2 1093.8 989.1 1094.8 990.3 1096.6C991.4 1098.3 992.3 1101.6 993.4 1102.8C994.5 1103.9 995.0 1103.5 996.3 1102.8C997.5 1102.0 998.8 1099.9 1000.0 1098.4C1001.2 1097.0 1001.9 1095.0 1002.8 1094.7C1003.8 1094.3 1004.4 1094.8 1005.3 1096.6C1006.1 1098.3 1006.6 1102.3 1007.5 1104.1C1008.4 1105.8 1009.3 1105.8 1010.3 1105.9C1011.3 1106.1 1011.9 1105.0 1013.1 1105.0C1014.3 1105.0 1015.5 1106.0 1016.9 1105.9C1018.3 1105.9 1019.4 1104.4 1020.6 1104.6C1021.8 1104.9 1022.2 1106.2 1023.4 1107.3C1024.6 1108.4 1025.8 1110.2 1027.2 1110.6C1028.6 1111.1 1029.9 1109.5 1030.9 1109.7C1032.0 1109.9 1032.1 1109.5 1032.8 1111.6C1033.5 1113.6 1034.0 1118.5 1034.7 1120.9C1035.4 1123.3 1035.7 1124.2 1036.6 1124.7C1037.4 1125.2 1038.2 1122.9 1039.4 1123.8C1040.6 1124.6 1041.9 1128.9 1043.1 1129.4C1044.3 1129.9 1044.9 1128.3 1045.9 1126.6C1047.0 1124.8 1047.5 1122.1 1048.8 1120.0C1050.0 1117.9 1051.1 1116.7 1052.5 1115.3C1053.9 1113.9 1055.0 1112.2 1056.3 1112.5C1057.5 1112.8 1058.0 1117.0 1059.1 1117.2C1060.1 1117.4 1061.0 1114.9 1061.9 1113.4C1062.7 1112.0 1063.1 1109.0 1063.8 1109.1C1064.4 1109.3 1064.8 1111.7 1065.6 1114.4C1066.4 1117.1 1067.2 1122.7 1068.1 1123.8C1068.9 1124.8 1069.5 1122.2 1070.3 1120.0C1071.2 1117.8 1071.7 1113.8 1072.8 1111.6C1073.8 1109.3 1074.8 1108.7 1075.9 1107.8C1077.0 1106.9 1077.5 1106.5 1078.8 1106.5C1080.0 1106.5 1081.1 1108.2 1082.5 1107.8C1083.9 1107.5 1084.9 1105.1 1086.3 1104.6C1087.6 1104.1 1088.6 1104.4 1090.0 1105.0C1091.4 1105.6 1092.4 1107.5 1093.8 1107.8C1095.1 1108.2 1095.8 1107.5 1097.1 1106.9C1098.5 1106.3 1099.1 1104.9 1101.3 1104.4C1103.4 1104.0 1106.0 1104.1 1108.8 1104.3C1111.5 1104.4 1113.8 1105.0 1116.3 1105.0C1118.7 1105.0 1120.2 1104.3 1121.9 1104.4C1123.6 1104.6 1124.3 1105.0 1125.6 1105.9C1127.0 1106.9 1128.3 1108.8 1129.4 1109.7C1130.5 1110.6 1130.8 1111.5 1131.6 1111.0C1132.5 1110.5 1133.2 1108.0 1134.1 1106.9C1135.0 1105.8 1135.6 1104.7 1136.5 1105.0C1137.4 1105.3 1137.8 1106.8 1138.8 1108.4C1139.7 1109.9 1140.5 1111.5 1141.6 1113.4C1142.6 1115.4 1143.4 1117.7 1144.4 1119.1C1145.3 1120.4 1145.9 1121.1 1146.8 1120.9C1147.8 1120.8 1148.5 1119.7 1149.6 1118.1C1150.7 1116.5 1151.9 1113.6 1152.8 1112.1C1153.7 1110.7 1153.9 1110.4 1154.7 1110.3C1155.5 1110.1 1156.1 1112.2 1157.1 1111.6C1158.2 1110.9 1159.0 1107.8 1160.3 1106.9C1161.6 1105.9 1162.7 1106.6 1164.1 1106.5C1165.4 1106.4 1166.3 1106.3 1167.8 1106.5C1169.4 1106.7 1170.8 1108.0 1172.5 1107.8C1174.2 1107.6 1175.6 1106.0 1177.2 1105.4C1178.7 1104.8 1179.6 1104.6 1180.9 1104.6C1182.3 1104.6 1183.3 1105.4 1184.7 1105.4C1186.1 1105.4 1187.1 1104.4 1188.4 1104.6C1189.8 1104.8 1190.6 1105.7 1192.2 1106.5C1193.7 1107.3 1195.3 1108.2 1196.9 1109.1C1198.4 1110.1 1199.4 1111.4 1200.6 1111.6C1201.8 1111.8 1202.4 1110.9 1203.4 1110.3C1204.5 1109.6 1205.2 1108.4 1206.3 1107.8C1207.3 1107.3 1207.9 1107.0 1209.1 1107.3C1210.3 1107.5 1211.8 1108.2 1212.8 1109.1C1213.8 1110.1 1213.9 1110.5 1214.7 1112.5C1215.5 1114.5 1216.1 1117.9 1217.1 1120.0C1218.2 1122.1 1219.2 1123.8 1220.3 1123.8C1221.4 1123.8 1221.9 1121.4 1223.1 1120.0C1224.3 1118.6 1225.5 1117.1 1226.9 1116.3C1228.3 1115.4 1229.3 1115.6 1230.6 1115.3C1232.0 1115.0 1233.1 1115.5 1234.4 1114.8C1235.7 1114.0 1236.5 1112.5 1237.8 1111.0C1239.0 1109.5 1239.7 1107.7 1240.9 1106.5C1242.2 1105.3 1242.8 1105.0 1244.7 1104.6C1246.6 1104.3 1249.2 1104.5 1251.3 1104.6C1253.3 1104.8 1254.2 1104.3 1255.9 1105.4C1257.7 1106.5 1259.3 1110.3 1260.6 1110.6C1262.0 1111.0 1262.2 1108.3 1263.4 1107.3C1264.6 1106.2 1265.6 1104.9 1267.2 1105.0C1268.7 1105.1 1270.3 1107.6 1271.9 1107.8C1273.4 1108.0 1274.3 1106.5 1275.6 1105.9C1276.9 1105.4 1277.6 1104.5 1279.0 1104.6C1280.4 1104.7 1281.5 1106.3 1283.1 1106.5C1284.7 1106.7 1286.1 1105.5 1287.8 1105.9C1289.5 1106.4 1290.8 1108.4 1292.5 1109.1C1294.2 1109.8 1295.5 1109.7 1297.2 1109.7C1298.9 1109.7 1300.5 1108.9 1301.9 1109.1C1303.3 1109.4 1303.5 1109.1 1304.7 1111.0C1305.9 1112.9 1307.1 1119.4 1308.4 1119.6C1309.8 1119.8 1311.2 1113.7 1312.2 1112.1C1313.2 1110.5 1313.4 1110.2 1314.1 1111.0C1314.8 1111.8 1315.1 1114.4 1315.9 1116.3C1316.8 1118.1 1317.7 1120.6 1318.8 1120.9C1319.8 1121.3 1320.4 1119.7 1321.6 1118.1C1322.8 1116.6 1323.9 1113.9 1325.3 1112.5C1326.7 1111.1 1327.7 1111.6 1329.1 1110.6C1330.4 1109.7 1331.6 1107.7 1332.8 1107.3C1334.0 1106.8 1334.6 1107.4 1335.6 1108.4C1336.7 1109.3 1337.1 1112.2 1338.4 1112.5C1339.8 1112.8 1341.8 1109.6 1343.1 1110.3C1344.5 1110.9 1345.0 1112.9 1345.9 1116.3C1346.9 1119.6 1347.5 1125.0 1348.4 1128.4C1349.2 1131.9 1349.7 1135.2 1350.6 1135.0C1351.6 1134.8 1352.6 1129.2 1353.4 1127.5C1354.3 1125.8 1354.5 1124.8 1355.3 1125.6C1356.1 1126.5 1356.9 1127.4 1357.8 1132.2C1358.6 1137.0 1359.1 1141.7 1360.0 1151.9C1360.9 1162.0 1361.8 1175.1 1362.8 1187.5C1363.8 1199.9 1364.6 1210.6 1365.6 1219.4C1366.7 1228.1 1367.5 1231.7 1368.4 1235.3C1369.4 1238.9 1369.8 1240.3 1370.7 1239.1C1371.5 1237.9 1372.3 1237.5 1373.1 1228.8C1374.0 1220.0 1374.5 1206.7 1375.4 1191.3C1376.2 1175.8 1377.0 1156.6 1377.8 1144.4C1378.6 1132.2 1379.0 1126.8 1379.7 1124.7C1380.4 1122.6 1380.9 1132.4 1381.6 1133.1C1382.3 1133.8 1382.8 1130.8 1383.4 1128.4C1384.1 1126.0 1384.6 1120.2 1385.3 1120.0C1386.0 1119.8 1386.4 1121.4 1387.2 1127.5C1388.0 1133.6 1388.8 1150.3 1389.6 1153.4C1390.5 1156.5 1390.9 1148.8 1391.9 1144.4C1392.8 1140.0 1393.7 1134.0 1394.7 1129.4C1395.7 1124.7 1396.6 1120.4 1397.5 1119.1C1398.4 1117.7 1398.7 1118.3 1399.4 1121.9C1400.1 1125.5 1400.5 1132.8 1401.3 1138.8C1402.0 1144.7 1402.8 1153.8 1403.7 1154.1C1404.5 1154.5 1405.1 1145.0 1405.9 1140.6C1406.8 1136.3 1407.5 1132.1 1408.4 1130.3C1409.2 1128.5 1409.7 1132.1 1410.6 1130.9C1411.6 1129.7 1412.4 1127.3 1413.4 1123.8C1414.5 1120.2 1415.5 1114.4 1416.3 1111.6C1417.0 1108.7 1417.1 1107.4 1417.6 1108.4C1418.1 1109.3 1418.3 1112.2 1419.0 1116.9C1419.7 1121.5 1420.4 1129.9 1421.3 1133.8C1422.1 1137.6 1422.5 1136.9 1423.5 1137.9C1424.5 1138.8 1425.7 1140.4 1426.9 1139.0C1428.0 1137.6 1428.7 1132.5 1429.7 1130.0C1430.7 1127.5 1431.3 1124.6 1432.1 1125.3C1433.0 1126.0 1433.4 1128.4 1434.4 1133.8C1435.3 1139.1 1436.3 1148.9 1437.2 1154.4C1438.0 1159.9 1438.3 1163.9 1439.1 1163.8C1439.9 1163.6 1440.7 1154.1 1441.5 1153.4C1442.3 1152.8 1442.6 1149.9 1443.4 1160.0C1444.1 1170.1 1444.7 1192.3 1445.6 1208.8C1446.6 1225.3 1447.6 1241.4 1448.4 1250.0C1449.3 1258.6 1449.6 1256.0 1450.3 1255.6C1451.0 1255.3 1451.3 1258.4 1452.2 1248.1C1453.0 1237.8 1454.0 1214.8 1455.0 1199.4C1456.0 1183.9 1456.8 1170.6 1457.8 1163.8C1458.8 1156.9 1459.4 1163.9 1460.6 1161.9C1461.8 1159.8 1463.0 1157.0 1464.4 1152.5C1465.8 1148.0 1466.9 1141.7 1468.1 1137.5C1469.3 1133.3 1469.9 1128.3 1470.9 1129.6C1472.0 1131.0 1472.7 1139.4 1473.8 1145.0C1474.8 1150.6 1475.7 1160.0 1476.6 1160.0C1477.4 1160.0 1477.8 1153.3 1478.4 1145.0C1479.1 1136.8 1479.7 1122.0 1480.3 1115.0C1480.9 1108.0 1480.9 1107.1 1481.6 1106.6C1482.3 1106.0 1483.2 1107.9 1484.1 1112.2C1485.0 1116.5 1485.5 1123.1 1486.5 1130.0C1487.5 1136.9 1488.4 1146.2 1489.7 1149.7C1491.0 1153.2 1491.9 1149.4 1493.4 1149.1C1495.0 1148.9 1496.8 1150.5 1498.1 1148.4C1499.5 1146.2 1500.0 1141.6 1500.9 1137.5C1501.9 1133.4 1502.3 1127.3 1503.4 1125.9C1504.4 1124.4 1505.5 1129.5 1506.6 1129.6C1507.6 1129.8 1508.1 1123.8 1509.0 1126.6C1509.9 1129.4 1510.3 1137.2 1511.3 1145.0C1512.2 1152.8 1513.0 1163.0 1514.1 1169.4C1515.1 1175.7 1515.8 1177.7 1516.9 1179.7C1517.9 1181.7 1518.7 1181.8 1519.7 1180.3C1520.7 1178.7 1521.3 1177.0 1522.5 1171.3C1523.7 1165.5 1524.9 1156.0 1526.3 1148.8C1527.6 1141.5 1528.9 1135.4 1530.0 1131.9C1531.1 1128.4 1531.4 1128.6 1532.3 1129.6C1533.1 1130.7 1533.7 1133.5 1534.7 1137.5C1535.7 1141.5 1536.5 1147.9 1537.5 1151.6C1538.5 1155.3 1539.3 1157.6 1540.3 1157.8C1541.3 1157.9 1542.1 1155.5 1543.1 1152.5C1544.2 1149.5 1544.9 1143.7 1545.9 1141.3C1547.0 1138.8 1547.7 1138.7 1548.8 1139.0C1549.8 1139.3 1550.6 1142.0 1551.6 1143.1C1552.5 1144.2 1553.0 1145.4 1554.0 1145.0C1555.0 1144.6 1556.1 1141.2 1557.2 1140.9C1558.3 1140.5 1558.9 1144.1 1560.0 1143.1C1561.1 1142.2 1562.2 1137.7 1563.4 1135.6C1564.6 1133.6 1565.1 1131.5 1566.6 1131.9C1568.0 1132.3 1569.7 1137.9 1571.3 1137.9C1572.8 1137.9 1573.6 1133.9 1575.0 1131.9C1576.4 1129.8 1577.5 1127.6 1578.8 1126.6C1580.0 1125.7 1580.6 1128.1 1581.6 1126.6C1582.5 1125.2 1583.2 1120.6 1584.0 1118.8C1584.8 1116.9 1585.0 1115.5 1585.7 1116.5C1586.4 1117.5 1587.0 1121.8 1587.8 1124.4C1588.5 1126.9 1589.1 1129.5 1590.0 1130.4C1590.9 1131.2 1591.8 1129.1 1592.8 1129.1C1593.8 1129.1 1594.6 1130.9 1595.6 1130.4C1596.7 1129.9 1597.4 1127.5 1598.4 1126.3C1599.5 1125.0 1600.2 1125.3 1601.3 1123.4C1602.3 1121.5 1603.2 1118.9 1604.1 1115.9C1604.9 1113.0 1605.1 1109.6 1605.9 1107.5C1606.8 1105.4 1607.5 1105.1 1608.8 1104.7C1610.0 1104.3 1611.5 1103.4 1612.5 1105.3C1613.5 1107.1 1613.7 1111.3 1614.4 1115.0C1615.1 1118.7 1615.5 1125.0 1616.3 1125.3C1617.0 1125.7 1617.6 1120.3 1618.5 1116.9C1619.4 1113.4 1620.0 1108.8 1620.9 1106.6C1621.9 1104.3 1622.4 1104.8 1623.8 1104.7C1625.1 1104.6 1626.9 1106.0 1628.4 1106.0C1630.0 1106.0 1630.3 1105.0 1632.2 1104.7C1634.1 1104.4 1636.5 1104.4 1638.8 1104.3C1641.0 1104.2 1642.8 1105.8 1644.4 1104.1C1645.9 1102.5 1646.2 1098.0 1647.2 1095.3C1648.2 1092.7 1648.8 1089.7 1649.6 1089.7C1650.5 1089.7 1651.1 1092.8 1651.9 1095.3C1652.7 1097.8 1652.9 1101.8 1654.1 1103.4C1655.3 1105.0 1656.6 1104.5 1658.4 1104.1C1660.3 1103.8 1662.0 1101.6 1664.1 1101.5C1666.1 1101.4 1667.8 1104.0 1669.7 1103.8C1671.6 1103.5 1672.8 1100.3 1674.4 1100.0C1675.9 1099.7 1676.8 1102.7 1678.1 1102.3C1679.4 1101.8 1680.4 1098.2 1681.5 1097.8C1682.6 1097.3 1683.0 1098.8 1684.1 1100.0C1685.2 1101.2 1686.0 1103.4 1687.5 1104.1C1689.0 1104.9 1690.8 1105.4 1692.2 1104.1C1693.6 1102.9 1694.0 1100.5 1695.0 1097.2C1696.0 1093.9 1696.9 1088.9 1697.8 1085.9C1698.8 1083.0 1699.2 1081.8 1700.3 1081.3C1701.3 1080.7 1702.2 1083.0 1703.4 1083.1C1704.7 1083.3 1706.0 1082.3 1707.2 1082.2C1708.4 1082.1 1708.9 1083.4 1710.0 1082.8C1711.1 1082.1 1712.3 1078.5 1713.4 1078.4C1714.5 1078.3 1715.0 1079.6 1716.0 1082.2C1717.0 1084.8 1717.9 1089.2 1719.0 1092.5C1720.1 1095.8 1721.1 1098.4 1722.2 1100.0C1723.3 1101.7 1723.8 1102.2 1725.0 1101.5C1726.2 1100.8 1727.4 1097.9 1728.8 1096.3C1730.1 1094.6 1731.0 1093.0 1732.1 1092.5C1733.2 1092.0 1733.7 1094.3 1734.8 1093.4C1735.8 1092.6 1736.7 1089.4 1737.8 1087.8C1738.8 1086.3 1739.3 1084.8 1740.4 1085.0C1741.4 1085.2 1742.2 1087.2 1743.4 1089.1C1744.5 1091.0 1745.4 1095.0 1746.6 1095.3C1747.7 1095.7 1748.6 1091.2 1749.8 1091.0C1750.9 1090.8 1751.6 1093.3 1752.8 1094.4C1753.9 1095.4 1754.7 1095.9 1755.9 1096.6C1757.2 1097.4 1758.2 1097.5 1759.7 1098.5C1761.2 1099.5 1762.8 1102.5 1764.0 1102.3C1765.2 1102.0 1765.4 1100.4 1766.3 1097.2C1767.1 1094.0 1767.6 1088.3 1768.5 1085.0C1769.4 1081.7 1770.1 1079.0 1770.9 1079.4C1771.7 1079.7 1772.0 1083.9 1772.8 1086.9C1773.6 1089.9 1774.3 1095.5 1775.3 1095.9C1776.2 1096.3 1776.8 1093.2 1777.9 1089.1C1779.0 1085.1 1780.2 1078.6 1781.3 1073.8C1782.3 1068.9 1782.8 1065.0 1783.5 1062.5C1784.2 1060.0 1784.3 1059.7 1785.0 1060.3C1785.7 1060.8 1786.4 1062.0 1787.3 1065.3C1788.1 1068.6 1788.7 1073.5 1789.7 1078.4C1790.7 1083.4 1791.5 1088.6 1792.5 1092.5C1793.5 1096.4 1794.3 1098.0 1795.3 1099.6C1796.3 1101.3 1797.1 1101.8 1798.1 1101.5C1799.2 1101.2 1799.9 1100.2 1800.9 1098.1C1802.0 1096.1 1802.7 1092.7 1803.8 1090.3C1804.8 1087.8 1805.5 1084.6 1806.6 1084.6C1807.6 1084.6 1808.3 1087.9 1809.4 1090.3C1810.4 1092.6 1811.0 1094.9 1812.2 1097.2C1813.4 1099.5 1814.6 1101.3 1815.9 1102.8C1817.3 1104.4 1818.5 1104.9 1819.7 1105.6C1820.9 1106.3 1821.1 1106.7 1822.5 1106.6C1823.9 1106.4 1825.6 1105.2 1827.2 1104.7C1828.7 1104.2 1829.7 1104.0 1830.9 1103.8C1832.2 1103.5 1833.1 1104.9 1834.1 1103.4C1835.2 1101.8 1835.6 1099.5 1836.6 1095.3C1837.5 1091.1 1838.3 1084.5 1839.4 1080.3C1840.4 1076.1 1841.2 1072.3 1842.2 1072.3C1843.2 1072.3 1843.8 1077.6 1844.6 1080.3C1845.5 1083.1 1845.9 1086.8 1846.9 1087.3C1847.8 1087.7 1848.7 1084.1 1849.7 1082.8C1850.7 1081.4 1851.6 1081.7 1852.5 1079.8C1853.4 1077.8 1854.0 1074.0 1854.8 1072.3C1855.5 1070.5 1856.0 1069.6 1856.8 1070.4C1857.6 1071.2 1858.1 1072.7 1859.1 1076.6C1860.0 1080.4 1860.8 1086.8 1861.9 1091.6C1862.9 1096.4 1863.7 1100.5 1864.7 1102.8C1865.7 1105.1 1865.8 1104.0 1867.5 1104.1C1869.2 1104.3 1872.2 1104.7 1874.1 1103.8C1876.0 1102.8 1876.4 1102.0 1877.8 1099.1C1879.2 1096.1 1880.2 1091.6 1881.6 1087.8C1882.9 1084.0 1884.1 1080.8 1885.3 1078.4C1886.5 1076.0 1887.4 1075.5 1888.1 1074.7C1888.8 1073.9 1888.3 1073.0 1889.2 1073.9C1890.1 1074.8 1891.8 1077.0 1893.1 1079.4C1894.4 1081.8 1895.2 1084.6 1896.4 1087.0C1897.6 1089.4 1898.5 1091.3 1899.7 1092.5C1900.9 1093.7 1901.8 1092.7 1903.0 1093.6C1904.2 1094.5 1904.9 1096.0 1906.3 1097.3C1907.6 1098.6 1908.9 1100.4 1910.2 1100.8C1911.5 1101.2 1912.2 1099.2 1913.3 1099.5C1914.3 1099.8 1915.0 1101.5 1916.1 1102.3C1917.2 1103.2 1917.2 1103.8 1919.4 1104.1C1921.6 1104.4 1924.5 1103.9 1928.1 1103.9C1931.7 1103.8 1935.5 1103.9 1939.1 1103.9C1942.7 1103.9 1945.7 1105.1 1947.8 1103.9C1949.9 1102.7 1949.4 1099.5 1950.4 1097.3C1951.4 1095.1 1952.4 1092.1 1953.3 1092.1C1954.2 1092.1 1954.7 1095.4 1955.5 1097.3C1956.3 1099.2 1956.6 1101.6 1957.7 1102.3C1958.7 1103.1 1959.8 1101.3 1961.4 1101.3C1963.0 1101.3 1964.7 1101.9 1966.4 1102.3C1968.1 1102.8 1969.2 1103.1 1970.8 1103.9C1972.4 1104.7 1973.8 1105.9 1975.2 1106.7C1976.6 1107.5 1977.2 1108.5 1978.4 1108.3C1979.6 1108.0 1980.5 1106.5 1981.7 1105.6C1982.9 1104.7 1983.9 1105.4 1985.0 1103.4C1986.1 1101.4 1986.7 1099.9 1987.6 1094.7C1988.5 1089.5 1989.1 1080.8 1990.0 1075.0C1991.0 1069.2 1991.8 1063.4 1992.7 1063.0C1993.5 1062.6 1994.0 1068.4 1994.8 1072.8C1995.6 1077.2 1996.2 1083.5 1997.0 1087.0C1997.8 1090.6 1998.3 1091.7 1999.2 1092.1C2000.1 1092.5 2001.1 1090.0 2002.1 1089.2C2003.1 1088.4 2003.6 1087.4 2004.7 1087.7C2005.8 1088.0 2006.8 1089.0 2008.0 1090.8C2009.2 1092.5 2010.0 1095.0 2011.3 1097.3C2012.5 1099.6 2012.9 1102.2 2014.5 1103.4C2016.1 1104.7 2017.4 1104.0 2020.0 1104.1C2022.6 1104.2 2025.5 1103.9 2028.8 1103.9C2032.0 1103.8 2034.7 1103.9 2037.5 1103.9C2040.3 1103.9 2042.3 1103.6 2044.1 1103.9C2045.9 1104.1 2046.1 1105.1 2047.3 1105.2C2048.6 1105.2 2050.1 1103.2 2051.1 1104.1C2052.1 1105.0 2052.2 1104.5 2052.8 1110.0C2053.5 1115.5 2053.8 1131.5 2054.6 1134.1C2055.3 1136.7 2055.9 1128.6 2056.8 1124.2C2057.6 1119.8 2058.3 1113.4 2058.9 1110.0C2059.6 1106.6 2059.6 1105.7 2060.5 1105.6C2061.4 1105.5 2062.4 1108.4 2063.8 1109.6C2065.1 1110.7 2066.3 1111.5 2067.7 1111.8C2069.1 1112.0 2070.1 1111.8 2071.4 1111.1C2072.7 1110.4 2073.4 1109.1 2074.7 1107.8C2076.0 1106.5 2077.4 1104.1 2078.6 1104.1C2079.8 1104.1 2080.3 1105.9 2081.3 1107.8C2082.2 1109.7 2082.9 1114.2 2083.9 1114.4C2084.9 1114.6 2085.6 1109.5 2086.7 1108.9C2087.8 1108.3 2088.8 1110.0 2090.0 1111.1C2091.2 1112.2 2092.1 1114.6 2093.3 1114.8C2094.5 1115.0 2095.2 1113.6 2096.6 1112.2C2098.0 1110.8 2099.7 1107.6 2100.9 1107.4C2102.1 1107.2 2102.4 1108.8 2103.1 1111.1C2103.8 1113.4 2104.1 1119.2 2104.9 1119.8C2105.7 1120.4 2106.6 1116.8 2107.5 1114.4C2108.4 1112.0 2108.9 1108.5 2109.7 1106.7C2110.5 1104.9 2111.0 1104.1 2111.9 1104.5C2112.8 1104.9 2113.5 1107.4 2114.5 1108.9C2115.5 1110.4 2116.2 1112.5 2117.3 1112.6C2118.5 1112.7 2119.4 1110.2 2120.6 1109.6C2121.8 1108.9 2122.6 1109.2 2123.9 1108.9C2125.2 1108.6 2126.4 1107.6 2127.6 1107.8C2128.8 1108.0 2129.3 1108.6 2130.5 1110.0C2131.6 1111.4 2132.3 1114.1 2133.8 1115.5C2135.2 1116.9 2136.7 1117.0 2138.1 1117.7C2139.5 1118.3 2140.0 1119.6 2141.4 1119.2C2142.8 1118.8 2144.2 1116.3 2145.8 1115.5C2147.4 1114.7 2148.8 1114.2 2150.2 1114.8C2151.5 1115.4 2152.2 1116.6 2153.0 1118.8C2153.8 1120.9 2153.7 1127.0 2154.5 1126.4C2155.3 1125.8 2156.5 1118.5 2157.4 1115.5C2158.3 1112.5 2158.9 1107.2 2159.6 1110.0C2160.2 1112.8 2160.4 1128.6 2161.1 1130.8C2161.8 1133.0 2162.3 1126.0 2163.3 1122.0C2164.3 1118.0 2165.5 1111.8 2166.6 1108.9C2167.6 1106.0 2168.2 1106.1 2169.2 1106.1C2170.2 1106.1 2170.9 1108.1 2172.0 1108.9C2173.2 1109.7 2174.2 1109.8 2175.3 1110.4C2176.4 1111.0 2177.1 1109.1 2177.9 1112.2C2178.7 1115.3 2179.0 1121.5 2179.7 1127.5C2180.4 1133.5 2181.1 1142.5 2181.9 1145.0C2182.7 1147.5 2183.3 1140.7 2184.1 1141.1C2184.9 1141.5 2185.4 1145.1 2186.3 1147.2C2187.1 1149.3 2187.6 1153.5 2188.4 1152.7C2189.3 1151.9 2190.1 1147.8 2191.1 1142.8C2192.1 1137.8 2192.9 1131.3 2193.9 1125.3C2195.0 1119.3 2195.7 1113.4 2196.8 1110.0C2197.8 1106.6 2198.4 1106.8 2199.4 1106.7C2200.3 1106.6 2201.0 1108.0 2202.0 1109.6C2203.0 1111.2 2203.9 1114.2 2204.8 1115.5C2205.8 1116.8 2206.1 1117.0 2207.0 1116.6C2208.0 1116.2 2208.9 1115.0 2209.9 1113.3C2210.9 1111.6 2211.4 1108.9 2212.5 1107.4C2213.6 1105.9 2214.6 1105.3 2215.8 1105.0C2217.0 1104.6 2218.0 1104.7 2219.1 1105.6C2220.1 1106.5 2220.8 1107.4 2221.7 1110.0C2222.6 1112.6 2223.1 1117.0 2223.9 1119.8C2224.7 1122.7 2225.3 1126.2 2226.1 1125.8C2226.9 1125.3 2227.5 1121.1 2228.3 1117.7C2229.1 1114.2 2229.6 1109.0 2230.4 1106.7C2231.2 1104.4 2231.7 1104.8 2232.6 1105.0C2233.5 1105.2 2234.3 1106.3 2235.5 1107.8C2236.6 1109.3 2237.3 1112.0 2238.8 1113.3C2240.2 1114.6 2241.7 1115.2 2243.1 1114.8C2244.5 1114.4 2245.2 1112.9 2246.4 1111.1C2247.6 1109.3 2248.3 1106.3 2249.7 1105.0C2251.1 1103.7 2252.7 1104.8 2254.1 1104.1C2255.5 1103.4 2256.1 1102.1 2257.3 1101.3C2258.6 1100.4 2259.9 1099.5 2261.1 1099.5C2262.3 1099.5 2262.9 1100.4 2263.9 1101.3C2265.0 1102.1 2265.7 1104.3 2266.8 1103.9C2267.8 1103.5 2268.9 1100.1 2269.8 1099.1C2270.8 1098.0 2271.2 1097.6 2272.0 1098.0C2272.8 1098.3 2273.4 1101.4 2274.2 1100.8C2275.0 1100.2 2275.7 1096.0 2276.4 1094.7C2277.1 1093.4 2277.4 1092.2 2278.1 1093.6C2278.8 1095.0 2279.5 1098.9 2280.3 1102.3C2281.1 1105.8 2281.7 1109.5 2282.5 1112.2C2283.3 1114.9 2283.8 1116.4 2284.7 1117.0C2285.6 1117.6 2286.4 1117.6 2287.3 1115.5C2288.2 1113.4 2288.7 1109.2 2289.5 1105.6C2290.3 1102.0 2290.8 1098.3 2291.7 1095.8C2292.6 1093.3 2293.2 1093.3 2294.5 1092.1C2295.9 1090.9 2297.6 1088.7 2298.9 1089.2C2300.2 1089.7 2300.8 1092.5 2301.8 1094.7C2302.8 1096.9 2303.3 1099.3 2304.4 1101.3C2305.5 1103.2 2306.5 1103.6 2307.7 1105.2C2308.9 1106.8 2309.9 1107.5 2310.9 1110.0C2311.9 1112.5 2312.3 1114.7 2313.1 1118.8C2313.9 1122.8 2314.5 1127.7 2315.3 1131.9C2316.1 1136.1 2316.6 1141.3 2317.5 1141.7C2318.4 1142.1 2319.1 1137.7 2320.1 1134.1C2321.1 1130.5 2321.8 1125.4 2323.0 1122.0C2324.1 1118.6 2325.3 1114.5 2326.3 1115.5C2327.3 1116.5 2327.5 1122.9 2328.4 1127.5C2329.4 1132.1 2330.3 1139.8 2331.3 1140.6C2332.3 1141.4 2332.9 1137.1 2333.9 1131.9C2334.9 1126.7 2335.8 1117.6 2336.8 1112.2C2337.8 1106.8 2338.4 1104.8 2339.4 1102.3C2340.3 1099.9 2341.0 1098.7 2342.0 1098.6C2343.0 1098.5 2343.7 1101.9 2344.8 1101.7C2346.0 1101.4 2347.0 1097.6 2348.1 1097.3C2349.2 1097.0 2349.8 1099.2 2350.8 1100.2C2351.8 1101.1 2352.5 1102.5 2353.6 1102.3C2354.7 1102.2 2355.7 1100.9 2356.9 1099.5C2358.1 1098.1 2359.0 1097.2 2360.2 1094.7C2361.3 1092.2 2362.0 1088.3 2363.0 1085.9C2364.0 1083.5 2364.7 1081.4 2365.6 1081.6C2366.5 1081.8 2367.0 1082.6 2367.8 1087.0C2368.6 1091.4 2369.3 1098.2 2370.0 1105.6C2370.7 1113.0 2371.0 1119.1 2371.8 1127.5C2372.5 1135.9 2373.1 1148.8 2373.9 1151.6C2374.7 1154.4 2375.4 1145.0 2376.1 1142.8C2376.8 1140.6 2377.0 1138.3 2377.7 1139.5C2378.3 1140.7 2378.9 1145.6 2379.8 1149.4C2380.8 1153.1 2381.7 1159.9 2382.7 1159.9C2383.7 1159.9 2384.4 1154.5 2385.3 1149.4C2386.2 1144.2 2386.7 1136.7 2387.5 1131.9C2388.3 1127.1 2388.7 1125.9 2389.7 1123.1C2390.7 1120.3 2392.0 1118.2 2393.0 1116.6C2394.0 1115.0 2394.2 1113.2 2395.2 1114.4C2396.1 1115.6 2397.0 1119.9 2398.0 1123.1C2399.0 1126.3 2399.7 1130.0 2400.6 1131.9C2401.5 1133.8 2401.9 1134.8 2402.8 1133.6C2403.7 1132.4 2404.4 1129.6 2405.4 1125.3C2406.4 1121.0 2407.4 1113.8 2408.3 1110.0C2409.2 1106.2 2409.5 1105.1 2410.5 1104.5C2411.4 1103.9 2412.2 1105.5 2413.3 1106.7C2414.4 1107.9 2415.3 1110.0 2416.4 1111.1C2417.5 1112.2 2418.1 1112.6 2419.2 1112.6C2420.3 1112.6 2421.3 1111.6 2422.5 1111.1C2423.7 1110.6 2424.6 1110.0 2425.8 1110.0C2427.0 1110.0 2428.0 1110.8 2429.1 1111.1C2430.1 1111.4 2431.0 1111.6 2431.7 1111.8C2432.3 1111.9 2432.4 1111.8 2432.6 1111.8L2432.6 1111L5.0 1111Z" fill="#045c50"/></g>
<g clip-path="url(#cpFRneg)"><path d="M5.0 1105.9C5.0 1105.9 5.0 1106.2 5.3 1105.9C5.7 1105.7 5.5 1104.9 7.5 1104.6C9.5 1104.4 13.7 1103.9 15.9 1104.6C18.2 1105.3 18.5 1107.1 19.7 1108.4C20.9 1109.6 21.5 1111.6 22.5 1111.6C23.5 1111.6 24.4 1109.2 25.3 1108.4C26.3 1107.6 26.7 1106.8 27.8 1107.3C28.8 1107.7 29.8 1108.7 30.9 1111.0C32.0 1113.3 32.7 1117.0 33.8 1120.0C34.8 1123.0 35.5 1127.2 36.6 1127.1C37.7 1127.1 38.6 1120.2 39.8 1119.6C40.9 1119.0 41.6 1117.8 42.8 1123.8C43.9 1129.7 44.8 1150.5 45.9 1152.3C47.0 1154.0 47.8 1140.7 48.8 1133.1C49.7 1125.6 50.1 1116.2 51.0 1111.0C51.9 1105.8 52.5 1109.2 53.4 1105.0C54.3 1100.8 54.9 1093.2 55.9 1088.1C56.8 1083.0 57.6 1077.3 58.5 1077.3C59.4 1077.3 60.0 1082.9 60.9 1088.1C61.9 1093.4 63.0 1101.5 63.8 1105.9C64.5 1110.4 64.4 1112.3 65.1 1112.5C65.8 1112.7 66.4 1108.4 67.5 1106.9C68.6 1105.3 69.7 1104.1 70.9 1104.1C72.1 1104.1 73.0 1105.8 74.1 1106.9C75.2 1107.9 75.7 1109.6 76.9 1109.7C78.1 1109.8 78.7 1108.3 80.6 1107.3C82.5 1106.2 84.8 1104.6 87.2 1104.1C89.6 1103.5 90.5 1104.2 93.8 1104.3C97.0 1104.3 100.9 1104.4 105.0 1104.4C109.1 1104.4 112.8 1104.3 116.3 1104.3C119.7 1104.2 121.9 1103.4 123.8 1104.1C125.6 1104.7 125.6 1106.0 126.6 1107.8C127.5 1109.6 128.0 1113.9 129.0 1114.0C130.0 1114.1 131.0 1108.3 132.2 1108.4C133.4 1108.4 134.2 1114.4 135.4 1114.4C136.6 1114.4 137.5 1110.2 138.8 1108.4C140.0 1106.6 140.9 1105.1 142.1 1104.6C143.3 1104.2 144.0 1105.4 145.3 1105.9C146.6 1106.5 147.7 1108.0 149.1 1107.8C150.4 1107.6 151.4 1105.7 152.8 1105.0C154.2 1104.3 155.4 1103.8 156.6 1104.1C157.8 1104.3 158.3 1105.2 159.4 1106.5C160.4 1107.8 161.2 1108.7 162.2 1111.0C163.2 1113.3 164.1 1117.1 165.0 1119.1C165.9 1121.1 166.4 1122.4 167.3 1121.9C168.1 1121.4 168.9 1118.8 169.7 1116.3C170.5 1113.7 170.9 1109.9 171.6 1107.8C172.3 1105.8 172.6 1104.8 173.4 1105.0C174.2 1105.2 175.0 1106.4 175.9 1109.1C176.7 1111.9 177.2 1115.9 178.1 1120.0C179.1 1124.1 179.9 1128.1 180.9 1131.3C182.0 1134.4 182.7 1136.3 183.8 1137.3C184.8 1138.2 185.4 1134.2 186.6 1136.5C187.7 1138.8 188.7 1150.1 189.9 1149.6C191.1 1149.2 191.9 1139.2 193.1 1134.1C194.4 1129.0 195.4 1125.1 196.9 1121.9C198.3 1118.6 199.8 1115.9 201.0 1116.3C202.2 1116.6 202.5 1121.3 203.4 1123.8C204.3 1126.2 205.0 1129.6 205.9 1129.8C206.7 1129.9 207.2 1128.1 208.1 1124.7C209.1 1121.3 210.0 1114.5 210.9 1111.0C211.9 1107.5 212.3 1105.5 213.4 1105.4C214.4 1105.2 215.6 1108.6 216.6 1110.3C217.5 1111.9 217.6 1112.1 218.4 1114.4C219.2 1116.7 220.0 1122.5 220.9 1122.8C221.7 1123.2 222.3 1118.7 223.1 1116.3C224.0 1113.8 224.9 1108.7 225.6 1109.7C226.3 1110.7 226.0 1115.2 226.9 1121.9C227.7 1128.5 229.0 1143.1 230.3 1145.9C231.5 1148.6 232.0 1140.1 233.4 1136.9C234.9 1133.7 236.6 1130.5 238.1 1128.4C239.7 1126.4 240.8 1124.9 241.9 1125.6C242.9 1126.3 243.0 1127.0 243.8 1132.2C244.5 1137.3 245.2 1148.3 246.0 1153.8C246.8 1159.3 247.1 1163.7 247.9 1162.2C248.7 1160.6 249.5 1146.9 250.3 1145.3C251.1 1143.8 251.5 1146.7 252.2 1153.8C252.9 1160.8 253.2 1174.3 254.1 1183.8C254.9 1193.2 255.8 1206.0 256.9 1205.3C257.9 1204.6 258.7 1192.9 259.7 1180.0C260.7 1167.1 261.3 1146.0 262.5 1135.0C263.7 1124.0 265.0 1124.4 266.3 1120.0C267.5 1115.6 268.0 1113.6 269.1 1111.0C270.1 1108.4 270.8 1107.2 271.9 1105.9C272.9 1104.7 273.3 1104.5 274.7 1104.1C276.1 1103.7 277.5 1103.7 279.4 1103.7C281.3 1103.7 283.7 1102.7 285.0 1104.1C286.3 1105.4 286.0 1103.6 286.5 1111.0C287.0 1118.4 287.1 1129.9 287.8 1144.4C288.5 1158.8 289.4 1189.8 290.3 1189.8C291.1 1189.8 291.8 1158.8 292.5 1144.4C293.2 1129.9 293.2 1118.2 294.0 1111.0C294.8 1103.9 295.6 1106.0 296.6 1105.4C297.7 1104.8 298.5 1107.7 299.6 1107.8C300.8 1107.9 301.4 1106.6 302.8 1105.9C304.3 1105.3 305.6 1104.7 307.5 1104.4C309.4 1104.2 311.1 1104.6 313.1 1104.4C315.2 1104.3 317.2 1104.8 318.8 1103.5C320.3 1102.2 320.7 1100.1 321.6 1097.5C322.4 1094.9 322.6 1091.7 323.4 1089.1C324.2 1086.4 325.0 1082.7 325.9 1082.9C326.7 1083.0 327.3 1086.8 328.1 1090.0C329.0 1093.2 329.5 1098.0 330.4 1100.3C331.2 1102.7 331.9 1103.1 332.8 1102.8C333.8 1102.4 334.6 1098.5 335.6 1098.4C336.7 1098.3 337.6 1100.5 338.4 1102.2C339.3 1103.9 339.5 1105.8 340.3 1107.8C341.1 1109.9 341.8 1113.2 342.8 1113.4C343.7 1113.7 344.4 1112.0 345.4 1109.1C346.3 1106.2 346.7 1102.2 347.8 1097.5C348.9 1092.8 350.0 1084.5 351.2 1083.4C352.4 1082.4 353.3 1089.0 354.4 1091.9C355.5 1094.8 356.2 1096.8 357.2 1099.4C358.2 1102.0 359.1 1103.8 360.0 1105.9C360.9 1108.1 361.1 1107.9 361.9 1111.0C362.6 1114.1 363.4 1120.0 364.1 1122.8C364.9 1125.6 365.2 1126.7 366.0 1126.2C366.8 1125.7 367.5 1122.8 368.4 1120.0C369.4 1117.2 370.4 1114.3 371.3 1111.0C372.1 1107.7 372.4 1105.4 373.1 1102.2C373.9 1099.0 374.6 1095.8 375.4 1093.8C376.1 1091.7 376.5 1090.6 377.3 1090.9C378.0 1091.3 378.9 1093.9 379.7 1095.6C380.5 1097.3 380.9 1100.3 381.6 1100.3C382.3 1100.3 382.8 1098.5 383.4 1095.6C384.1 1092.7 384.6 1088.0 385.3 1084.4C386.0 1080.8 386.4 1076.3 387.2 1075.9C388.0 1075.6 388.8 1078.9 389.6 1082.5C390.5 1086.1 390.9 1091.8 391.9 1095.6C392.8 1099.4 393.7 1101.5 394.7 1103.1C395.7 1104.8 396.5 1104.5 397.5 1104.6C398.5 1104.8 399.4 1106.1 400.3 1104.1C401.3 1102.1 401.9 1097.5 402.8 1093.8C403.6 1090.0 404.2 1086.0 405.0 1083.4C405.8 1080.9 406.1 1079.2 406.9 1079.7C407.6 1080.2 408.3 1082.5 409.1 1086.3C410.0 1090.0 410.8 1095.8 411.6 1100.3C412.4 1104.9 412.6 1107.0 413.4 1111.0C414.3 1115.0 415.2 1118.5 416.3 1121.9C417.3 1125.2 418.0 1127.5 419.1 1129.4C420.1 1131.3 420.7 1131.7 421.9 1132.2C423.1 1132.7 424.4 1131.7 425.6 1132.2C426.8 1132.7 427.5 1133.1 428.4 1135.0C429.4 1136.9 429.9 1140.5 430.7 1142.5C431.5 1144.5 432.0 1146.6 432.8 1145.9C433.5 1145.2 433.9 1142.8 434.6 1138.8C435.4 1134.7 436.1 1128.8 436.9 1123.8C437.7 1118.7 438.4 1113.8 439.1 1111.0C439.8 1108.2 439.9 1108.3 440.6 1108.4C441.3 1108.5 442.2 1108.4 442.9 1111.6C443.6 1114.7 443.8 1120.6 444.4 1125.6C445.0 1130.6 445.6 1135.4 446.3 1138.8C446.9 1142.1 447.1 1144.0 447.8 1144.0C448.4 1144.0 449.2 1140.2 450.0 1138.8C450.8 1137.3 451.4 1136.2 452.3 1135.9C453.1 1135.7 453.8 1137.4 454.7 1137.3C455.6 1137.1 456.3 1134.1 457.1 1135.4C458.0 1136.7 458.6 1141.4 459.4 1144.4C460.1 1147.3 460.6 1151.8 461.3 1151.5C461.9 1151.2 462.4 1145.9 463.1 1142.5C463.9 1139.1 464.6 1133.5 465.4 1133.1C466.1 1132.8 466.5 1137.9 467.3 1140.6C468.0 1143.4 468.7 1146.9 469.7 1148.1C470.7 1149.3 471.5 1148.0 472.5 1147.2C473.5 1146.3 474.4 1143.3 475.3 1143.4C476.3 1143.6 476.9 1146.4 477.8 1148.1C478.6 1149.8 478.9 1153.5 479.8 1152.8C480.6 1152.1 481.3 1148.0 482.2 1144.4C483.1 1140.8 483.8 1136.3 484.6 1133.1C485.5 1130.0 485.9 1127.9 486.9 1127.1C487.8 1126.4 488.7 1129.3 489.7 1129.0C490.7 1128.7 491.5 1127.6 492.5 1125.6C493.5 1123.6 494.4 1120.2 495.3 1118.1C496.3 1116.1 496.8 1114.4 497.8 1114.4C498.7 1114.4 499.3 1116.6 500.4 1118.1C501.4 1119.7 502.4 1119.7 503.4 1122.8C504.3 1125.9 504.7 1130.5 505.6 1135.0C506.6 1139.5 507.4 1145.3 508.4 1147.2C509.5 1149.1 510.0 1146.2 511.3 1145.3C512.5 1144.5 513.8 1144.4 515.0 1142.5C516.2 1140.6 516.9 1138.4 517.8 1135.0C518.8 1131.6 519.4 1127.4 520.3 1123.8C521.1 1120.1 521.6 1117.0 522.5 1115.3C523.4 1113.7 524.3 1115.2 525.3 1114.8C526.3 1114.3 527.2 1112.5 528.1 1113.1C529.1 1113.6 529.5 1117.3 530.4 1117.8C531.2 1118.2 531.8 1116.6 532.8 1115.3C533.8 1114.1 534.8 1112.1 536.0 1111.0C537.2 1109.9 537.9 1110.2 539.4 1109.1C540.9 1108.0 542.0 1105.9 544.1 1105.0C546.1 1104.1 548.4 1104.6 550.6 1104.4C552.9 1104.3 554.4 1104.7 556.3 1104.1C558.1 1103.4 559.6 1101.2 560.9 1100.9C562.3 1100.5 562.7 1103.3 563.8 1102.2C564.8 1101.1 565.7 1096.6 566.6 1094.7C567.4 1092.7 567.6 1091.3 568.4 1091.5C569.2 1091.7 570.1 1093.9 570.9 1095.6C571.7 1097.3 572.0 1099.8 572.8 1100.9C573.5 1102.0 574.1 1102.8 575.0 1101.6C575.9 1100.5 576.6 1097.9 577.8 1094.7C579.0 1091.5 580.3 1087.0 581.6 1084.4C582.8 1081.7 583.7 1080.4 584.8 1080.3C585.8 1080.1 586.4 1081.0 587.2 1083.4C588.0 1085.9 588.3 1090.7 589.1 1093.8C589.9 1096.8 590.3 1098.5 591.5 1100.3C592.7 1102.1 593.8 1102.8 595.6 1103.5C597.4 1104.2 598.2 1104.1 601.3 1104.3C604.3 1104.4 608.4 1104.3 612.5 1104.3C616.6 1104.3 620.7 1104.2 623.8 1104.3C626.8 1104.3 627.5 1104.0 629.4 1104.6C631.3 1105.3 632.5 1106.7 634.1 1107.8C635.6 1108.9 636.4 1108.7 637.8 1110.6C639.2 1112.5 640.2 1118.0 641.6 1118.1C642.9 1118.3 644.1 1113.8 645.3 1111.6C646.5 1109.3 646.8 1107.3 648.1 1105.9C649.5 1104.6 650.8 1104.6 652.8 1104.3C654.9 1103.9 657.5 1103.9 659.4 1104.3C661.3 1104.6 661.6 1104.6 663.1 1105.9C664.7 1107.3 666.3 1111.4 667.8 1111.6C669.4 1111.7 670.0 1108.2 671.6 1106.9C673.1 1105.6 674.0 1104.9 676.3 1104.4C678.5 1104.0 681.0 1104.3 683.8 1104.3C686.5 1104.2 689.0 1103.6 691.3 1104.3C693.5 1104.9 694.6 1107.1 695.9 1107.8C697.3 1108.6 697.5 1108.5 698.8 1108.4C700.0 1108.2 701.1 1105.8 702.5 1106.9C703.9 1107.9 705.1 1113.2 706.6 1114.0C708.2 1114.8 709.5 1112.4 710.9 1111.0C712.4 1109.6 713.5 1107.0 714.7 1106.5C715.9 1106.0 716.5 1108.3 717.5 1108.4C718.5 1108.4 719.2 1106.4 720.3 1106.9C721.4 1107.4 722.3 1109.1 723.5 1111.0C724.7 1112.9 725.4 1115.5 726.9 1117.2C728.4 1118.8 730.2 1117.8 731.6 1120.0C732.9 1122.2 733.4 1126.1 734.4 1129.4C735.3 1132.6 735.6 1137.5 736.6 1137.8C737.7 1138.2 738.7 1134.5 740.0 1131.3C741.3 1128.0 742.4 1124.0 743.8 1120.0C745.1 1116.0 746.1 1111.7 747.1 1109.7C748.2 1107.7 748.3 1108.5 749.4 1109.1C750.4 1109.7 751.5 1113.1 752.8 1113.1C754.0 1113.1 754.8 1110.6 755.9 1109.1C757.0 1107.6 757.2 1105.8 758.8 1105.0C760.3 1104.2 762.3 1104.5 764.4 1104.6C766.4 1104.8 768.2 1104.4 770.0 1105.9C771.8 1107.5 772.8 1112.0 774.1 1112.9C775.5 1113.7 776.4 1111.6 777.5 1110.6C778.6 1109.7 778.6 1108.3 780.3 1107.8C782.0 1107.3 785.0 1107.0 786.9 1107.8C788.8 1108.7 789.4 1111.0 790.6 1112.5C791.8 1114.0 792.2 1116.3 793.4 1116.3C794.6 1116.3 795.8 1113.8 797.2 1112.5C798.6 1111.2 799.6 1109.7 800.9 1109.1C802.3 1108.5 803.3 1109.9 804.7 1109.1C806.1 1108.4 806.9 1105.7 808.4 1105.0C810.0 1104.3 811.4 1105.7 813.1 1105.6C814.8 1105.5 815.4 1104.7 817.8 1104.4C820.2 1104.2 823.2 1104.2 826.3 1104.3C829.3 1104.3 832.6 1103.1 834.7 1104.6C836.8 1106.1 836.6 1109.8 837.5 1112.5C838.4 1115.3 838.8 1118.3 839.8 1119.6C840.7 1121.0 841.8 1118.7 842.8 1120.0C843.7 1121.3 844.2 1124.7 845.0 1126.6C845.8 1128.5 846.3 1131.2 847.3 1130.3C848.2 1129.5 849.1 1125.4 850.3 1121.9C851.4 1118.3 852.2 1113.6 853.4 1111.0C854.7 1108.4 855.5 1108.6 857.2 1107.8C858.9 1107.1 860.8 1107.4 862.8 1106.9C864.9 1106.4 866.5 1105.2 868.4 1105.0C870.3 1104.8 871.2 1105.5 873.1 1105.6C875.0 1105.7 876.5 1105.8 878.8 1105.6C881.0 1105.4 882.6 1104.6 885.3 1104.4C888.1 1104.2 890.8 1104.4 893.8 1104.4C896.7 1104.4 898.2 1104.5 901.3 1104.4C904.3 1104.4 907.7 1104.0 910.6 1104.1C913.5 1104.1 915.0 1103.8 917.2 1104.6C919.4 1105.4 920.8 1108.3 922.8 1108.4C924.9 1108.4 926.5 1105.2 928.4 1105.0C930.3 1104.8 931.2 1107.3 933.1 1107.3C935.0 1107.3 936.7 1105.5 938.8 1105.0C940.8 1104.5 942.8 1104.7 944.4 1104.6C946.0 1104.6 944.9 1104.7 947.5 1104.6C950.1 1104.6 956.2 1103.7 958.8 1104.4C961.3 1105.2 960.6 1106.9 961.6 1108.8C962.5 1110.6 963.1 1114.3 964.0 1114.4C964.9 1114.4 965.7 1110.8 966.6 1109.1C967.6 1107.4 967.8 1105.9 969.1 1105.0C970.4 1104.1 972.0 1104.9 973.8 1104.1C975.5 1103.2 976.9 1101.3 978.4 1100.3C980.0 1099.3 981.0 1099.6 982.2 1098.4C983.4 1097.3 984.1 1095.1 985.0 1094.1C985.9 1093.2 986.3 1092.9 987.3 1093.4C988.2 1093.8 989.1 1094.8 990.3 1096.6C991.4 1098.3 992.3 1101.6 993.4 1102.8C994.5 1103.9 995.0 1103.5 996.3 1102.8C997.5 1102.0 998.8 1099.9 1000.0 1098.4C1001.2 1097.0 1001.9 1095.0 1002.8 1094.7C1003.8 1094.3 1004.4 1094.8 1005.3 1096.6C1006.1 1098.3 1006.6 1102.3 1007.5 1104.1C1008.4 1105.8 1009.3 1105.8 1010.3 1105.9C1011.3 1106.1 1011.9 1105.0 1013.1 1105.0C1014.3 1105.0 1015.5 1106.0 1016.9 1105.9C1018.3 1105.9 1019.4 1104.4 1020.6 1104.6C1021.8 1104.9 1022.2 1106.2 1023.4 1107.3C1024.6 1108.4 1025.8 1110.2 1027.2 1110.6C1028.6 1111.1 1029.9 1109.5 1030.9 1109.7C1032.0 1109.9 1032.1 1109.5 1032.8 1111.6C1033.5 1113.6 1034.0 1118.5 1034.7 1120.9C1035.4 1123.3 1035.7 1124.2 1036.6 1124.7C1037.4 1125.2 1038.2 1122.9 1039.4 1123.8C1040.6 1124.6 1041.9 1128.9 1043.1 1129.4C1044.3 1129.9 1044.9 1128.3 1045.9 1126.6C1047.0 1124.8 1047.5 1122.1 1048.8 1120.0C1050.0 1117.9 1051.1 1116.7 1052.5 1115.3C1053.9 1113.9 1055.0 1112.2 1056.3 1112.5C1057.5 1112.8 1058.0 1117.0 1059.1 1117.2C1060.1 1117.4 1061.0 1114.9 1061.9 1113.4C1062.7 1112.0 1063.1 1109.0 1063.8 1109.1C1064.4 1109.3 1064.8 1111.7 1065.6 1114.4C1066.4 1117.1 1067.2 1122.7 1068.1 1123.8C1068.9 1124.8 1069.5 1122.2 1070.3 1120.0C1071.2 1117.8 1071.7 1113.8 1072.8 1111.6C1073.8 1109.3 1074.8 1108.7 1075.9 1107.8C1077.0 1106.9 1077.5 1106.5 1078.8 1106.5C1080.0 1106.5 1081.1 1108.2 1082.5 1107.8C1083.9 1107.5 1084.9 1105.1 1086.3 1104.6C1087.6 1104.1 1088.6 1104.4 1090.0 1105.0C1091.4 1105.6 1092.4 1107.5 1093.8 1107.8C1095.1 1108.2 1095.8 1107.5 1097.1 1106.9C1098.5 1106.3 1099.1 1104.9 1101.3 1104.4C1103.4 1104.0 1106.0 1104.1 1108.8 1104.3C1111.5 1104.4 1113.8 1105.0 1116.3 1105.0C1118.7 1105.0 1120.2 1104.3 1121.9 1104.4C1123.6 1104.6 1124.3 1105.0 1125.6 1105.9C1127.0 1106.9 1128.3 1108.8 1129.4 1109.7C1130.5 1110.6 1130.8 1111.5 1131.6 1111.0C1132.5 1110.5 1133.2 1108.0 1134.1 1106.9C1135.0 1105.8 1135.6 1104.7 1136.5 1105.0C1137.4 1105.3 1137.8 1106.8 1138.8 1108.4C1139.7 1109.9 1140.5 1111.5 1141.6 1113.4C1142.6 1115.4 1143.4 1117.7 1144.4 1119.1C1145.3 1120.4 1145.9 1121.1 1146.8 1120.9C1147.8 1120.8 1148.5 1119.7 1149.6 1118.1C1150.7 1116.5 1151.9 1113.6 1152.8 1112.1C1153.7 1110.7 1153.9 1110.4 1154.7 1110.3C1155.5 1110.1 1156.1 1112.2 1157.1 1111.6C1158.2 1110.9 1159.0 1107.8 1160.3 1106.9C1161.6 1105.9 1162.7 1106.6 1164.1 1106.5C1165.4 1106.4 1166.3 1106.3 1167.8 1106.5C1169.4 1106.7 1170.8 1108.0 1172.5 1107.8C1174.2 1107.6 1175.6 1106.0 1177.2 1105.4C1178.7 1104.8 1179.6 1104.6 1180.9 1104.6C1182.3 1104.6 1183.3 1105.4 1184.7 1105.4C1186.1 1105.4 1187.1 1104.4 1188.4 1104.6C1189.8 1104.8 1190.6 1105.7 1192.2 1106.5C1193.7 1107.3 1195.3 1108.2 1196.9 1109.1C1198.4 1110.1 1199.4 1111.4 1200.6 1111.6C1201.8 1111.8 1202.4 1110.9 1203.4 1110.3C1204.5 1109.6 1205.2 1108.4 1206.3 1107.8C1207.3 1107.3 1207.9 1107.0 1209.1 1107.3C1210.3 1107.5 1211.8 1108.2 1212.8 1109.1C1213.8 1110.1 1213.9 1110.5 1214.7 1112.5C1215.5 1114.5 1216.1 1117.9 1217.1 1120.0C1218.2 1122.1 1219.2 1123.8 1220.3 1123.8C1221.4 1123.8 1221.9 1121.4 1223.1 1120.0C1224.3 1118.6 1225.5 1117.1 1226.9 1116.3C1228.3 1115.4 1229.3 1115.6 1230.6 1115.3C1232.0 1115.0 1233.1 1115.5 1234.4 1114.8C1235.7 1114.0 1236.5 1112.5 1237.8 1111.0C1239.0 1109.5 1239.7 1107.7 1240.9 1106.5C1242.2 1105.3 1242.8 1105.0 1244.7 1104.6C1246.6 1104.3 1249.2 1104.5 1251.3 1104.6C1253.3 1104.8 1254.2 1104.3 1255.9 1105.4C1257.7 1106.5 1259.3 1110.3 1260.6 1110.6C1262.0 1111.0 1262.2 1108.3 1263.4 1107.3C1264.6 1106.2 1265.6 1104.9 1267.2 1105.0C1268.7 1105.1 1270.3 1107.6 1271.9 1107.8C1273.4 1108.0 1274.3 1106.5 1275.6 1105.9C1276.9 1105.4 1277.6 1104.5 1279.0 1104.6C1280.4 1104.7 1281.5 1106.3 1283.1 1106.5C1284.7 1106.7 1286.1 1105.5 1287.8 1105.9C1289.5 1106.4 1290.8 1108.4 1292.5 1109.1C1294.2 1109.8 1295.5 1109.7 1297.2 1109.7C1298.9 1109.7 1300.5 1108.9 1301.9 1109.1C1303.3 1109.4 1303.5 1109.1 1304.7 1111.0C1305.9 1112.9 1307.1 1119.4 1308.4 1119.6C1309.8 1119.8 1311.2 1113.7 1312.2 1112.1C1313.2 1110.5 1313.4 1110.2 1314.1 1111.0C1314.8 1111.8 1315.1 1114.4 1315.9 1116.3C1316.8 1118.1 1317.7 1120.6 1318.8 1120.9C1319.8 1121.3 1320.4 1119.7 1321.6 1118.1C1322.8 1116.6 1323.9 1113.9 1325.3 1112.5C1326.7 1111.1 1327.7 1111.6 1329.1 1110.6C1330.4 1109.7 1331.6 1107.7 1332.8 1107.3C1334.0 1106.8 1334.6 1107.4 1335.6 1108.4C1336.7 1109.3 1337.1 1112.2 1338.4 1112.5C1339.8 1112.8 1341.8 1109.6 1343.1 1110.3C1344.5 1110.9 1345.0 1112.9 1345.9 1116.3C1346.9 1119.6 1347.5 1125.0 1348.4 1128.4C1349.2 1131.9 1349.7 1135.2 1350.6 1135.0C1351.6 1134.8 1352.6 1129.2 1353.4 1127.5C1354.3 1125.8 1354.5 1124.8 1355.3 1125.6C1356.1 1126.5 1356.9 1127.4 1357.8 1132.2C1358.6 1137.0 1359.1 1141.7 1360.0 1151.9C1360.9 1162.0 1361.8 1175.1 1362.8 1187.5C1363.8 1199.9 1364.6 1210.6 1365.6 1219.4C1366.7 1228.1 1367.5 1231.7 1368.4 1235.3C1369.4 1238.9 1369.8 1240.3 1370.7 1239.1C1371.5 1237.9 1372.3 1237.5 1373.1 1228.8C1374.0 1220.0 1374.5 1206.7 1375.4 1191.3C1376.2 1175.8 1377.0 1156.6 1377.8 1144.4C1378.6 1132.2 1379.0 1126.8 1379.7 1124.7C1380.4 1122.6 1380.9 1132.4 1381.6 1133.1C1382.3 1133.8 1382.8 1130.8 1383.4 1128.4C1384.1 1126.0 1384.6 1120.2 1385.3 1120.0C1386.0 1119.8 1386.4 1121.4 1387.2 1127.5C1388.0 1133.6 1388.8 1150.3 1389.6 1153.4C1390.5 1156.5 1390.9 1148.8 1391.9 1144.4C1392.8 1140.0 1393.7 1134.0 1394.7 1129.4C1395.7 1124.7 1396.6 1120.4 1397.5 1119.1C1398.4 1117.7 1398.7 1118.3 1399.4 1121.9C1400.1 1125.5 1400.5 1132.8 1401.3 1138.8C1402.0 1144.7 1402.8 1153.8 1403.7 1154.1C1404.5 1154.5 1405.1 1145.0 1405.9 1140.6C1406.8 1136.3 1407.5 1132.1 1408.4 1130.3C1409.2 1128.5 1409.7 1132.1 1410.6 1130.9C1411.6 1129.7 1412.4 1127.3 1413.4 1123.8C1414.5 1120.2 1415.5 1114.4 1416.3 1111.6C1417.0 1108.7 1417.1 1107.4 1417.6 1108.4C1418.1 1109.3 1418.3 1112.2 1419.0 1116.9C1419.7 1121.5 1420.4 1129.9 1421.3 1133.8C1422.1 1137.6 1422.5 1136.9 1423.5 1137.9C1424.5 1138.8 1425.7 1140.4 1426.9 1139.0C1428.0 1137.6 1428.7 1132.5 1429.7 1130.0C1430.7 1127.5 1431.3 1124.6 1432.1 1125.3C1433.0 1126.0 1433.4 1128.4 1434.4 1133.8C1435.3 1139.1 1436.3 1148.9 1437.2 1154.4C1438.0 1159.9 1438.3 1163.9 1439.1 1163.8C1439.9 1163.6 1440.7 1154.1 1441.5 1153.4C1442.3 1152.8 1442.6 1149.9 1443.4 1160.0C1444.1 1170.1 1444.7 1192.3 1445.6 1208.8C1446.6 1225.3 1447.6 1241.4 1448.4 1250.0C1449.3 1258.6 1449.6 1256.0 1450.3 1255.6C1451.0 1255.3 1451.3 1258.4 1452.2 1248.1C1453.0 1237.8 1454.0 1214.8 1455.0 1199.4C1456.0 1183.9 1456.8 1170.6 1457.8 1163.8C1458.8 1156.9 1459.4 1163.9 1460.6 1161.9C1461.8 1159.8 1463.0 1157.0 1464.4 1152.5C1465.8 1148.0 1466.9 1141.7 1468.1 1137.5C1469.3 1133.3 1469.9 1128.3 1470.9 1129.6C1472.0 1131.0 1472.7 1139.4 1473.8 1145.0C1474.8 1150.6 1475.7 1160.0 1476.6 1160.0C1477.4 1160.0 1477.8 1153.3 1478.4 1145.0C1479.1 1136.8 1479.7 1122.0 1480.3 1115.0C1480.9 1108.0 1480.9 1107.1 1481.6 1106.6C1482.3 1106.0 1483.2 1107.9 1484.1 1112.2C1485.0 1116.5 1485.5 1123.1 1486.5 1130.0C1487.5 1136.9 1488.4 1146.2 1489.7 1149.7C1491.0 1153.2 1491.9 1149.4 1493.4 1149.1C1495.0 1148.9 1496.8 1150.5 1498.1 1148.4C1499.5 1146.2 1500.0 1141.6 1500.9 1137.5C1501.9 1133.4 1502.3 1127.3 1503.4 1125.9C1504.4 1124.4 1505.5 1129.5 1506.6 1129.6C1507.6 1129.8 1508.1 1123.8 1509.0 1126.6C1509.9 1129.4 1510.3 1137.2 1511.3 1145.0C1512.2 1152.8 1513.0 1163.0 1514.1 1169.4C1515.1 1175.7 1515.8 1177.7 1516.9 1179.7C1517.9 1181.7 1518.7 1181.8 1519.7 1180.3C1520.7 1178.7 1521.3 1177.0 1522.5 1171.3C1523.7 1165.5 1524.9 1156.0 1526.3 1148.8C1527.6 1141.5 1528.9 1135.4 1530.0 1131.9C1531.1 1128.4 1531.4 1128.6 1532.3 1129.6C1533.1 1130.7 1533.7 1133.5 1534.7 1137.5C1535.7 1141.5 1536.5 1147.9 1537.5 1151.6C1538.5 1155.3 1539.3 1157.6 1540.3 1157.8C1541.3 1157.9 1542.1 1155.5 1543.1 1152.5C1544.2 1149.5 1544.9 1143.7 1545.9 1141.3C1547.0 1138.8 1547.7 1138.7 1548.8 1139.0C1549.8 1139.3 1550.6 1142.0 1551.6 1143.1C1552.5 1144.2 1553.0 1145.4 1554.0 1145.0C1555.0 1144.6 1556.1 1141.2 1557.2 1140.9C1558.3 1140.5 1558.9 1144.1 1560.0 1143.1C1561.1 1142.2 1562.2 1137.7 1563.4 1135.6C1564.6 1133.6 1565.1 1131.5 1566.6 1131.9C1568.0 1132.3 1569.7 1137.9 1571.3 1137.9C1572.8 1137.9 1573.6 1133.9 1575.0 1131.9C1576.4 1129.8 1577.5 1127.6 1578.8 1126.6C1580.0 1125.7 1580.6 1128.1 1581.6 1126.6C1582.5 1125.2 1583.2 1120.6 1584.0 1118.8C1584.8 1116.9 1585.0 1115.5 1585.7 1116.5C1586.4 1117.5 1587.0 1121.8 1587.8 1124.4C1588.5 1126.9 1589.1 1129.5 1590.0 1130.4C1590.9 1131.2 1591.8 1129.1 1592.8 1129.1C1593.8 1129.1 1594.6 1130.9 1595.6 1130.4C1596.7 1129.9 1597.4 1127.5 1598.4 1126.3C1599.5 1125.0 1600.2 1125.3 1601.3 1123.4C1602.3 1121.5 1603.2 1118.9 1604.1 1115.9C1604.9 1113.0 1605.1 1109.6 1605.9 1107.5C1606.8 1105.4 1607.5 1105.1 1608.8 1104.7C1610.0 1104.3 1611.5 1103.4 1612.5 1105.3C1613.5 1107.1 1613.7 1111.3 1614.4 1115.0C1615.1 1118.7 1615.5 1125.0 1616.3 1125.3C1617.0 1125.7 1617.6 1120.3 1618.5 1116.9C1619.4 1113.4 1620.0 1108.8 1620.9 1106.6C1621.9 1104.3 1622.4 1104.8 1623.8 1104.7C1625.1 1104.6 1626.9 1106.0 1628.4 1106.0C1630.0 1106.0 1630.3 1105.0 1632.2 1104.7C1634.1 1104.4 1636.5 1104.4 1638.8 1104.3C1641.0 1104.2 1642.8 1105.8 1644.4 1104.1C1645.9 1102.5 1646.2 1098.0 1647.2 1095.3C1648.2 1092.7 1648.8 1089.7 1649.6 1089.7C1650.5 1089.7 1651.1 1092.8 1651.9 1095.3C1652.7 1097.8 1652.9 1101.8 1654.1 1103.4C1655.3 1105.0 1656.6 1104.5 1658.4 1104.1C1660.3 1103.8 1662.0 1101.6 1664.1 1101.5C1666.1 1101.4 1667.8 1104.0 1669.7 1103.8C1671.6 1103.5 1672.8 1100.3 1674.4 1100.0C1675.9 1099.7 1676.8 1102.7 1678.1 1102.3C1679.4 1101.8 1680.4 1098.2 1681.5 1097.8C1682.6 1097.3 1683.0 1098.8 1684.1 1100.0C1685.2 1101.2 1686.0 1103.4 1687.5 1104.1C1689.0 1104.9 1690.8 1105.4 1692.2 1104.1C1693.6 1102.9 1694.0 1100.5 1695.0 1097.2C1696.0 1093.9 1696.9 1088.9 1697.8 1085.9C1698.8 1083.0 1699.2 1081.8 1700.3 1081.3C1701.3 1080.7 1702.2 1083.0 1703.4 1083.1C1704.7 1083.3 1706.0 1082.3 1707.2 1082.2C1708.4 1082.1 1708.9 1083.4 1710.0 1082.8C1711.1 1082.1 1712.3 1078.5 1713.4 1078.4C1714.5 1078.3 1715.0 1079.6 1716.0 1082.2C1717.0 1084.8 1717.9 1089.2 1719.0 1092.5C1720.1 1095.8 1721.1 1098.4 1722.2 1100.0C1723.3 1101.7 1723.8 1102.2 1725.0 1101.5C1726.2 1100.8 1727.4 1097.9 1728.8 1096.3C1730.1 1094.6 1731.0 1093.0 1732.1 1092.5C1733.2 1092.0 1733.7 1094.3 1734.8 1093.4C1735.8 1092.6 1736.7 1089.4 1737.8 1087.8C1738.8 1086.3 1739.3 1084.8 1740.4 1085.0C1741.4 1085.2 1742.2 1087.2 1743.4 1089.1C1744.5 1091.0 1745.4 1095.0 1746.6 1095.3C1747.7 1095.7 1748.6 1091.2 1749.8 1091.0C1750.9 1090.8 1751.6 1093.3 1752.8 1094.4C1753.9 1095.4 1754.7 1095.9 1755.9 1096.6C1757.2 1097.4 1758.2 1097.5 1759.7 1098.5C1761.2 1099.5 1762.8 1102.5 1764.0 1102.3C1765.2 1102.0 1765.4 1100.4 1766.3 1097.2C1767.1 1094.0 1767.6 1088.3 1768.5 1085.0C1769.4 1081.7 1770.1 1079.0 1770.9 1079.4C1771.7 1079.7 1772.0 1083.9 1772.8 1086.9C1773.6 1089.9 1774.3 1095.5 1775.3 1095.9C1776.2 1096.3 1776.8 1093.2 1777.9 1089.1C1779.0 1085.1 1780.2 1078.6 1781.3 1073.8C1782.3 1068.9 1782.8 1065.0 1783.5 1062.5C1784.2 1060.0 1784.3 1059.7 1785.0 1060.3C1785.7 1060.8 1786.4 1062.0 1787.3 1065.3C1788.1 1068.6 1788.7 1073.5 1789.7 1078.4C1790.7 1083.4 1791.5 1088.6 1792.5 1092.5C1793.5 1096.4 1794.3 1098.0 1795.3 1099.6C1796.3 1101.3 1797.1 1101.8 1798.1 1101.5C1799.2 1101.2 1799.9 1100.2 1800.9 1098.1C1802.0 1096.1 1802.7 1092.7 1803.8 1090.3C1804.8 1087.8 1805.5 1084.6 1806.6 1084.6C1807.6 1084.6 1808.3 1087.9 1809.4 1090.3C1810.4 1092.6 1811.0 1094.9 1812.2 1097.2C1813.4 1099.5 1814.6 1101.3 1815.9 1102.8C1817.3 1104.4 1818.5 1104.9 1819.7 1105.6C1820.9 1106.3 1821.1 1106.7 1822.5 1106.6C1823.9 1106.4 1825.6 1105.2 1827.2 1104.7C1828.7 1104.2 1829.7 1104.0 1830.9 1103.8C1832.2 1103.5 1833.1 1104.9 1834.1 1103.4C1835.2 1101.8 1835.6 1099.5 1836.6 1095.3C1837.5 1091.1 1838.3 1084.5 1839.4 1080.3C1840.4 1076.1 1841.2 1072.3 1842.2 1072.3C1843.2 1072.3 1843.8 1077.6 1844.6 1080.3C1845.5 1083.1 1845.9 1086.8 1846.9 1087.3C1847.8 1087.7 1848.7 1084.1 1849.7 1082.8C1850.7 1081.4 1851.6 1081.7 1852.5 1079.8C1853.4 1077.8 1854.0 1074.0 1854.8 1072.3C1855.5 1070.5 1856.0 1069.6 1856.8 1070.4C1857.6 1071.2 1858.1 1072.7 1859.1 1076.6C1860.0 1080.4 1860.8 1086.8 1861.9 1091.6C1862.9 1096.4 1863.7 1100.5 1864.7 1102.8C1865.7 1105.1 1865.8 1104.0 1867.5 1104.1C1869.2 1104.3 1872.2 1104.7 1874.1 1103.8C1876.0 1102.8 1876.4 1102.0 1877.8 1099.1C1879.2 1096.1 1880.2 1091.6 1881.6 1087.8C1882.9 1084.0 1884.1 1080.8 1885.3 1078.4C1886.5 1076.0 1887.4 1075.5 1888.1 1074.7C1888.8 1073.9 1888.3 1073.0 1889.2 1073.9C1890.1 1074.8 1891.8 1077.0 1893.1 1079.4C1894.4 1081.8 1895.2 1084.6 1896.4 1087.0C1897.6 1089.4 1898.5 1091.3 1899.7 1092.5C1900.9 1093.7 1901.8 1092.7 1903.0 1093.6C1904.2 1094.5 1904.9 1096.0 1906.3 1097.3C1907.6 1098.6 1908.9 1100.4 1910.2 1100.8C1911.5 1101.2 1912.2 1099.2 1913.3 1099.5C1914.3 1099.8 1915.0 1101.5 1916.1 1102.3C1917.2 1103.2 1917.2 1103.8 1919.4 1104.1C1921.6 1104.4 1924.5 1103.9 1928.1 1103.9C1931.7 1103.8 1935.5 1103.9 1939.1 1103.9C1942.7 1103.9 1945.7 1105.1 1947.8 1103.9C1949.9 1102.7 1949.4 1099.5 1950.4 1097.3C1951.4 1095.1 1952.4 1092.1 1953.3 1092.1C1954.2 1092.1 1954.7 1095.4 1955.5 1097.3C1956.3 1099.2 1956.6 1101.6 1957.7 1102.3C1958.7 1103.1 1959.8 1101.3 1961.4 1101.3C1963.0 1101.3 1964.7 1101.9 1966.4 1102.3C1968.1 1102.8 1969.2 1103.1 1970.8 1103.9C1972.4 1104.7 1973.8 1105.9 1975.2 1106.7C1976.6 1107.5 1977.2 1108.5 1978.4 1108.3C1979.6 1108.0 1980.5 1106.5 1981.7 1105.6C1982.9 1104.7 1983.9 1105.4 1985.0 1103.4C1986.1 1101.4 1986.7 1099.9 1987.6 1094.7C1988.5 1089.5 1989.1 1080.8 1990.0 1075.0C1991.0 1069.2 1991.8 1063.4 1992.7 1063.0C1993.5 1062.6 1994.0 1068.4 1994.8 1072.8C1995.6 1077.2 1996.2 1083.5 1997.0 1087.0C1997.8 1090.6 1998.3 1091.7 1999.2 1092.1C2000.1 1092.5 2001.1 1090.0 2002.1 1089.2C2003.1 1088.4 2003.6 1087.4 2004.7 1087.7C2005.8 1088.0 2006.8 1089.0 2008.0 1090.8C2009.2 1092.5 2010.0 1095.0 2011.3 1097.3C2012.5 1099.6 2012.9 1102.2 2014.5 1103.4C2016.1 1104.7 2017.4 1104.0 2020.0 1104.1C2022.6 1104.2 2025.5 1103.9 2028.8 1103.9C2032.0 1103.8 2034.7 1103.9 2037.5 1103.9C2040.3 1103.9 2042.3 1103.6 2044.1 1103.9C2045.9 1104.1 2046.1 1105.1 2047.3 1105.2C2048.6 1105.2 2050.1 1103.2 2051.1 1104.1C2052.1 1105.0 2052.2 1104.5 2052.8 1110.0C2053.5 1115.5 2053.8 1131.5 2054.6 1134.1C2055.3 1136.7 2055.9 1128.6 2056.8 1124.2C2057.6 1119.8 2058.3 1113.4 2058.9 1110.0C2059.6 1106.6 2059.6 1105.7 2060.5 1105.6C2061.4 1105.5 2062.4 1108.4 2063.8 1109.6C2065.1 1110.7 2066.3 1111.5 2067.7 1111.8C2069.1 1112.0 2070.1 1111.8 2071.4 1111.1C2072.7 1110.4 2073.4 1109.1 2074.7 1107.8C2076.0 1106.5 2077.4 1104.1 2078.6 1104.1C2079.8 1104.1 2080.3 1105.9 2081.3 1107.8C2082.2 1109.7 2082.9 1114.2 2083.9 1114.4C2084.9 1114.6 2085.6 1109.5 2086.7 1108.9C2087.8 1108.3 2088.8 1110.0 2090.0 1111.1C2091.2 1112.2 2092.1 1114.6 2093.3 1114.8C2094.5 1115.0 2095.2 1113.6 2096.6 1112.2C2098.0 1110.8 2099.7 1107.6 2100.9 1107.4C2102.1 1107.2 2102.4 1108.8 2103.1 1111.1C2103.8 1113.4 2104.1 1119.2 2104.9 1119.8C2105.7 1120.4 2106.6 1116.8 2107.5 1114.4C2108.4 1112.0 2108.9 1108.5 2109.7 1106.7C2110.5 1104.9 2111.0 1104.1 2111.9 1104.5C2112.8 1104.9 2113.5 1107.4 2114.5 1108.9C2115.5 1110.4 2116.2 1112.5 2117.3 1112.6C2118.5 1112.7 2119.4 1110.2 2120.6 1109.6C2121.8 1108.9 2122.6 1109.2 2123.9 1108.9C2125.2 1108.6 2126.4 1107.6 2127.6 1107.8C2128.8 1108.0 2129.3 1108.6 2130.5 1110.0C2131.6 1111.4 2132.3 1114.1 2133.8 1115.5C2135.2 1116.9 2136.7 1117.0 2138.1 1117.7C2139.5 1118.3 2140.0 1119.6 2141.4 1119.2C2142.8 1118.8 2144.2 1116.3 2145.8 1115.5C2147.4 1114.7 2148.8 1114.2 2150.2 1114.8C2151.5 1115.4 2152.2 1116.6 2153.0 1118.8C2153.8 1120.9 2153.7 1127.0 2154.5 1126.4C2155.3 1125.8 2156.5 1118.5 2157.4 1115.5C2158.3 1112.5 2158.9 1107.2 2159.6 1110.0C2160.2 1112.8 2160.4 1128.6 2161.1 1130.8C2161.8 1133.0 2162.3 1126.0 2163.3 1122.0C2164.3 1118.0 2165.5 1111.8 2166.6 1108.9C2167.6 1106.0 2168.2 1106.1 2169.2 1106.1C2170.2 1106.1 2170.9 1108.1 2172.0 1108.9C2173.2 1109.7 2174.2 1109.8 2175.3 1110.4C2176.4 1111.0 2177.1 1109.1 2177.9 1112.2C2178.7 1115.3 2179.0 1121.5 2179.7 1127.5C2180.4 1133.5 2181.1 1142.5 2181.9 1145.0C2182.7 1147.5 2183.3 1140.7 2184.1 1141.1C2184.9 1141.5 2185.4 1145.1 2186.3 1147.2C2187.1 1149.3 2187.6 1153.5 2188.4 1152.7C2189.3 1151.9 2190.1 1147.8 2191.1 1142.8C2192.1 1137.8 2192.9 1131.3 2193.9 1125.3C2195.0 1119.3 2195.7 1113.4 2196.8 1110.0C2197.8 1106.6 2198.4 1106.8 2199.4 1106.7C2200.3 1106.6 2201.0 1108.0 2202.0 1109.6C2203.0 1111.2 2203.9 1114.2 2204.8 1115.5C2205.8 1116.8 2206.1 1117.0 2207.0 1116.6C2208.0 1116.2 2208.9 1115.0 2209.9 1113.3C2210.9 1111.6 2211.4 1108.9 2212.5 1107.4C2213.6 1105.9 2214.6 1105.3 2215.8 1105.0C2217.0 1104.6 2218.0 1104.7 2219.1 1105.6C2220.1 1106.5 2220.8 1107.4 2221.7 1110.0C2222.6 1112.6 2223.1 1117.0 2223.9 1119.8C2224.7 1122.7 2225.3 1126.2 2226.1 1125.8C2226.9 1125.3 2227.5 1121.1 2228.3 1117.7C2229.1 1114.2 2229.6 1109.0 2230.4 1106.7C2231.2 1104.4 2231.7 1104.8 2232.6 1105.0C2233.5 1105.2 2234.3 1106.3 2235.5 1107.8C2236.6 1109.3 2237.3 1112.0 2238.8 1113.3C2240.2 1114.6 2241.7 1115.2 2243.1 1114.8C2244.5 1114.4 2245.2 1112.9 2246.4 1111.1C2247.6 1109.3 2248.3 1106.3 2249.7 1105.0C2251.1 1103.7 2252.7 1104.8 2254.1 1104.1C2255.5 1103.4 2256.1 1102.1 2257.3 1101.3C2258.6 1100.4 2259.9 1099.5 2261.1 1099.5C2262.3 1099.5 2262.9 1100.4 2263.9 1101.3C2265.0 1102.1 2265.7 1104.3 2266.8 1103.9C2267.8 1103.5 2268.9 1100.1 2269.8 1099.1C2270.8 1098.0 2271.2 1097.6 2272.0 1098.0C2272.8 1098.3 2273.4 1101.4 2274.2 1100.8C2275.0 1100.2 2275.7 1096.0 2276.4 1094.7C2277.1 1093.4 2277.4 1092.2 2278.1 1093.6C2278.8 1095.0 2279.5 1098.9 2280.3 1102.3C2281.1 1105.8 2281.7 1109.5 2282.5 1112.2C2283.3 1114.9 2283.8 1116.4 2284.7 1117.0C2285.6 1117.6 2286.4 1117.6 2287.3 1115.5C2288.2 1113.4 2288.7 1109.2 2289.5 1105.6C2290.3 1102.0 2290.8 1098.3 2291.7 1095.8C2292.6 1093.3 2293.2 1093.3 2294.5 1092.1C2295.9 1090.9 2297.6 1088.7 2298.9 1089.2C2300.2 1089.7 2300.8 1092.5 2301.8 1094.7C2302.8 1096.9 2303.3 1099.3 2304.4 1101.3C2305.5 1103.2 2306.5 1103.6 2307.7 1105.2C2308.9 1106.8 2309.9 1107.5 2310.9 1110.0C2311.9 1112.5 2312.3 1114.7 2313.1 1118.8C2313.9 1122.8 2314.5 1127.7 2315.3 1131.9C2316.1 1136.1 2316.6 1141.3 2317.5 1141.7C2318.4 1142.1 2319.1 1137.7 2320.1 1134.1C2321.1 1130.5 2321.8 1125.4 2323.0 1122.0C2324.1 1118.6 2325.3 1114.5 2326.3 1115.5C2327.3 1116.5 2327.5 1122.9 2328.4 1127.5C2329.4 1132.1 2330.3 1139.8 2331.3 1140.6C2332.3 1141.4 2332.9 1137.1 2333.9 1131.9C2334.9 1126.7 2335.8 1117.6 2336.8 1112.2C2337.8 1106.8 2338.4 1104.8 2339.4 1102.3C2340.3 1099.9 2341.0 1098.7 2342.0 1098.6C2343.0 1098.5 2343.7 1101.9 2344.8 1101.7C2346.0 1101.4 2347.0 1097.6 2348.1 1097.3C2349.2 1097.0 2349.8 1099.2 2350.8 1100.2C2351.8 1101.1 2352.5 1102.5 2353.6 1102.3C2354.7 1102.2 2355.7 1100.9 2356.9 1099.5C2358.1 1098.1 2359.0 1097.2 2360.2 1094.7C2361.3 1092.2 2362.0 1088.3 2363.0 1085.9C2364.0 1083.5 2364.7 1081.4 2365.6 1081.6C2366.5 1081.8 2367.0 1082.6 2367.8 1087.0C2368.6 1091.4 2369.3 1098.2 2370.0 1105.6C2370.7 1113.0 2371.0 1119.1 2371.8 1127.5C2372.5 1135.9 2373.1 1148.8 2373.9 1151.6C2374.7 1154.4 2375.4 1145.0 2376.1 1142.8C2376.8 1140.6 2377.0 1138.3 2377.7 1139.5C2378.3 1140.7 2378.9 1145.6 2379.8 1149.4C2380.8 1153.1 2381.7 1159.9 2382.7 1159.9C2383.7 1159.9 2384.4 1154.5 2385.3 1149.4C2386.2 1144.2 2386.7 1136.7 2387.5 1131.9C2388.3 1127.1 2388.7 1125.9 2389.7 1123.1C2390.7 1120.3 2392.0 1118.2 2393.0 1116.6C2394.0 1115.0 2394.2 1113.2 2395.2 1114.4C2396.1 1115.6 2397.0 1119.9 2398.0 1123.1C2399.0 1126.3 2399.7 1130.0 2400.6 1131.9C2401.5 1133.8 2401.9 1134.8 2402.8 1133.6C2403.7 1132.4 2404.4 1129.6 2405.4 1125.3C2406.4 1121.0 2407.4 1113.8 2408.3 1110.0C2409.2 1106.2 2409.5 1105.1 2410.5 1104.5C2411.4 1103.9 2412.2 1105.5 2413.3 1106.7C2414.4 1107.9 2415.3 1110.0 2416.4 1111.1C2417.5 1112.2 2418.1 1112.6 2419.2 1112.6C2420.3 1112.6 2421.3 1111.6 2422.5 1111.1C2423.7 1110.6 2424.6 1110.0 2425.8 1110.0C2427.0 1110.0 2428.0 1110.8 2429.1 1111.1C2430.1 1111.4 2431.0 1111.6 2431.7 1111.8C2432.3 1111.9 2432.4 1111.8 2432.6 1111.8L2432.6 1111L5.0 1111Z" fill="#6a1a1b"/></g>
<path d="M5 1111H2433" stroke="#8b9a96" stroke-opacity="0.42" stroke-width="1.3" stroke-dasharray="4 4" fill="none"/>
<g clip-path="url(#cpFRpos)"><path d="M5.0 1105.9C5.0 1105.9 5.0 1106.2 5.3 1105.9C5.7 1105.7 5.5 1104.9 7.5 1104.6C9.5 1104.4 13.7 1103.9 15.9 1104.6C18.2 1105.3 18.5 1107.1 19.7 1108.4C20.9 1109.6 21.5 1111.6 22.5 1111.6C23.5 1111.6 24.4 1109.2 25.3 1108.4C26.3 1107.6 26.7 1106.8 27.8 1107.3C28.8 1107.7 29.8 1108.7 30.9 1111.0C32.0 1113.3 32.7 1117.0 33.8 1120.0C34.8 1123.0 35.5 1127.2 36.6 1127.1C37.7 1127.1 38.6 1120.2 39.8 1119.6C40.9 1119.0 41.6 1117.8 42.8 1123.8C43.9 1129.7 44.8 1150.5 45.9 1152.3C47.0 1154.0 47.8 1140.7 48.8 1133.1C49.7 1125.6 50.1 1116.2 51.0 1111.0C51.9 1105.8 52.5 1109.2 53.4 1105.0C54.3 1100.8 54.9 1093.2 55.9 1088.1C56.8 1083.0 57.6 1077.3 58.5 1077.3C59.4 1077.3 60.0 1082.9 60.9 1088.1C61.9 1093.4 63.0 1101.5 63.8 1105.9C64.5 1110.4 64.4 1112.3 65.1 1112.5C65.8 1112.7 66.4 1108.4 67.5 1106.9C68.6 1105.3 69.7 1104.1 70.9 1104.1C72.1 1104.1 73.0 1105.8 74.1 1106.9C75.2 1107.9 75.7 1109.6 76.9 1109.7C78.1 1109.8 78.7 1108.3 80.6 1107.3C82.5 1106.2 84.8 1104.6 87.2 1104.1C89.6 1103.5 90.5 1104.2 93.8 1104.3C97.0 1104.3 100.9 1104.4 105.0 1104.4C109.1 1104.4 112.8 1104.3 116.3 1104.3C119.7 1104.2 121.9 1103.4 123.8 1104.1C125.6 1104.7 125.6 1106.0 126.6 1107.8C127.5 1109.6 128.0 1113.9 129.0 1114.0C130.0 1114.1 131.0 1108.3 132.2 1108.4C133.4 1108.4 134.2 1114.4 135.4 1114.4C136.6 1114.4 137.5 1110.2 138.8 1108.4C140.0 1106.6 140.9 1105.1 142.1 1104.6C143.3 1104.2 144.0 1105.4 145.3 1105.9C146.6 1106.5 147.7 1108.0 149.1 1107.8C150.4 1107.6 151.4 1105.7 152.8 1105.0C154.2 1104.3 155.4 1103.8 156.6 1104.1C157.8 1104.3 158.3 1105.2 159.4 1106.5C160.4 1107.8 161.2 1108.7 162.2 1111.0C163.2 1113.3 164.1 1117.1 165.0 1119.1C165.9 1121.1 166.4 1122.4 167.3 1121.9C168.1 1121.4 168.9 1118.8 169.7 1116.3C170.5 1113.7 170.9 1109.9 171.6 1107.8C172.3 1105.8 172.6 1104.8 173.4 1105.0C174.2 1105.2 175.0 1106.4 175.9 1109.1C176.7 1111.9 177.2 1115.9 178.1 1120.0C179.1 1124.1 179.9 1128.1 180.9 1131.3C182.0 1134.4 182.7 1136.3 183.8 1137.3C184.8 1138.2 185.4 1134.2 186.6 1136.5C187.7 1138.8 188.7 1150.1 189.9 1149.6C191.1 1149.2 191.9 1139.2 193.1 1134.1C194.4 1129.0 195.4 1125.1 196.9 1121.9C198.3 1118.6 199.8 1115.9 201.0 1116.3C202.2 1116.6 202.5 1121.3 203.4 1123.8C204.3 1126.2 205.0 1129.6 205.9 1129.8C206.7 1129.9 207.2 1128.1 208.1 1124.7C209.1 1121.3 210.0 1114.5 210.9 1111.0C211.9 1107.5 212.3 1105.5 213.4 1105.4C214.4 1105.2 215.6 1108.6 216.6 1110.3C217.5 1111.9 217.6 1112.1 218.4 1114.4C219.2 1116.7 220.0 1122.5 220.9 1122.8C221.7 1123.2 222.3 1118.7 223.1 1116.3C224.0 1113.8 224.9 1108.7 225.6 1109.7C226.3 1110.7 226.0 1115.2 226.9 1121.9C227.7 1128.5 229.0 1143.1 230.3 1145.9C231.5 1148.6 232.0 1140.1 233.4 1136.9C234.9 1133.7 236.6 1130.5 238.1 1128.4C239.7 1126.4 240.8 1124.9 241.9 1125.6C242.9 1126.3 243.0 1127.0 243.8 1132.2C244.5 1137.3 245.2 1148.3 246.0 1153.8C246.8 1159.3 247.1 1163.7 247.9 1162.2C248.7 1160.6 249.5 1146.9 250.3 1145.3C251.1 1143.8 251.5 1146.7 252.2 1153.8C252.9 1160.8 253.2 1174.3 254.1 1183.8C254.9 1193.2 255.8 1206.0 256.9 1205.3C257.9 1204.6 258.7 1192.9 259.7 1180.0C260.7 1167.1 261.3 1146.0 262.5 1135.0C263.7 1124.0 265.0 1124.4 266.3 1120.0C267.5 1115.6 268.0 1113.6 269.1 1111.0C270.1 1108.4 270.8 1107.2 271.9 1105.9C272.9 1104.7 273.3 1104.5 274.7 1104.1C276.1 1103.7 277.5 1103.7 279.4 1103.7C281.3 1103.7 283.7 1102.7 285.0 1104.1C286.3 1105.4 286.0 1103.6 286.5 1111.0C287.0 1118.4 287.1 1129.9 287.8 1144.4C288.5 1158.8 289.4 1189.8 290.3 1189.8C291.1 1189.8 291.8 1158.8 292.5 1144.4C293.2 1129.9 293.2 1118.2 294.0 1111.0C294.8 1103.9 295.6 1106.0 296.6 1105.4C297.7 1104.8 298.5 1107.7 299.6 1107.8C300.8 1107.9 301.4 1106.6 302.8 1105.9C304.3 1105.3 305.6 1104.7 307.5 1104.4C309.4 1104.2 311.1 1104.6 313.1 1104.4C315.2 1104.3 317.2 1104.8 318.8 1103.5C320.3 1102.2 320.7 1100.1 321.6 1097.5C322.4 1094.9 322.6 1091.7 323.4 1089.1C324.2 1086.4 325.0 1082.7 325.9 1082.9C326.7 1083.0 327.3 1086.8 328.1 1090.0C329.0 1093.2 329.5 1098.0 330.4 1100.3C331.2 1102.7 331.9 1103.1 332.8 1102.8C333.8 1102.4 334.6 1098.5 335.6 1098.4C336.7 1098.3 337.6 1100.5 338.4 1102.2C339.3 1103.9 339.5 1105.8 340.3 1107.8C341.1 1109.9 341.8 1113.2 342.8 1113.4C343.7 1113.7 344.4 1112.0 345.4 1109.1C346.3 1106.2 346.7 1102.2 347.8 1097.5C348.9 1092.8 350.0 1084.5 351.2 1083.4C352.4 1082.4 353.3 1089.0 354.4 1091.9C355.5 1094.8 356.2 1096.8 357.2 1099.4C358.2 1102.0 359.1 1103.8 360.0 1105.9C360.9 1108.1 361.1 1107.9 361.9 1111.0C362.6 1114.1 363.4 1120.0 364.1 1122.8C364.9 1125.6 365.2 1126.7 366.0 1126.2C366.8 1125.7 367.5 1122.8 368.4 1120.0C369.4 1117.2 370.4 1114.3 371.3 1111.0C372.1 1107.7 372.4 1105.4 373.1 1102.2C373.9 1099.0 374.6 1095.8 375.4 1093.8C376.1 1091.7 376.5 1090.6 377.3 1090.9C378.0 1091.3 378.9 1093.9 379.7 1095.6C380.5 1097.3 380.9 1100.3 381.6 1100.3C382.3 1100.3 382.8 1098.5 383.4 1095.6C384.1 1092.7 384.6 1088.0 385.3 1084.4C386.0 1080.8 386.4 1076.3 387.2 1075.9C388.0 1075.6 388.8 1078.9 389.6 1082.5C390.5 1086.1 390.9 1091.8 391.9 1095.6C392.8 1099.4 393.7 1101.5 394.7 1103.1C395.7 1104.8 396.5 1104.5 397.5 1104.6C398.5 1104.8 399.4 1106.1 400.3 1104.1C401.3 1102.1 401.9 1097.5 402.8 1093.8C403.6 1090.0 404.2 1086.0 405.0 1083.4C405.8 1080.9 406.1 1079.2 406.9 1079.7C407.6 1080.2 408.3 1082.5 409.1 1086.3C410.0 1090.0 410.8 1095.8 411.6 1100.3C412.4 1104.9 412.6 1107.0 413.4 1111.0C414.3 1115.0 415.2 1118.5 416.3 1121.9C417.3 1125.2 418.0 1127.5 419.1 1129.4C420.1 1131.3 420.7 1131.7 421.9 1132.2C423.1 1132.7 424.4 1131.7 425.6 1132.2C426.8 1132.7 427.5 1133.1 428.4 1135.0C429.4 1136.9 429.9 1140.5 430.7 1142.5C431.5 1144.5 432.0 1146.6 432.8 1145.9C433.5 1145.2 433.9 1142.8 434.6 1138.8C435.4 1134.7 436.1 1128.8 436.9 1123.8C437.7 1118.7 438.4 1113.8 439.1 1111.0C439.8 1108.2 439.9 1108.3 440.6 1108.4C441.3 1108.5 442.2 1108.4 442.9 1111.6C443.6 1114.7 443.8 1120.6 444.4 1125.6C445.0 1130.6 445.6 1135.4 446.3 1138.8C446.9 1142.1 447.1 1144.0 447.8 1144.0C448.4 1144.0 449.2 1140.2 450.0 1138.8C450.8 1137.3 451.4 1136.2 452.3 1135.9C453.1 1135.7 453.8 1137.4 454.7 1137.3C455.6 1137.1 456.3 1134.1 457.1 1135.4C458.0 1136.7 458.6 1141.4 459.4 1144.4C460.1 1147.3 460.6 1151.8 461.3 1151.5C461.9 1151.2 462.4 1145.9 463.1 1142.5C463.9 1139.1 464.6 1133.5 465.4 1133.1C466.1 1132.8 466.5 1137.9 467.3 1140.6C468.0 1143.4 468.7 1146.9 469.7 1148.1C470.7 1149.3 471.5 1148.0 472.5 1147.2C473.5 1146.3 474.4 1143.3 475.3 1143.4C476.3 1143.6 476.9 1146.4 477.8 1148.1C478.6 1149.8 478.9 1153.5 479.8 1152.8C480.6 1152.1 481.3 1148.0 482.2 1144.4C483.1 1140.8 483.8 1136.3 484.6 1133.1C485.5 1130.0 485.9 1127.9 486.9 1127.1C487.8 1126.4 488.7 1129.3 489.7 1129.0C490.7 1128.7 491.5 1127.6 492.5 1125.6C493.5 1123.6 494.4 1120.2 495.3 1118.1C496.3 1116.1 496.8 1114.4 497.8 1114.4C498.7 1114.4 499.3 1116.6 500.4 1118.1C501.4 1119.7 502.4 1119.7 503.4 1122.8C504.3 1125.9 504.7 1130.5 505.6 1135.0C506.6 1139.5 507.4 1145.3 508.4 1147.2C509.5 1149.1 510.0 1146.2 511.3 1145.3C512.5 1144.5 513.8 1144.4 515.0 1142.5C516.2 1140.6 516.9 1138.4 517.8 1135.0C518.8 1131.6 519.4 1127.4 520.3 1123.8C521.1 1120.1 521.6 1117.0 522.5 1115.3C523.4 1113.7 524.3 1115.2 525.3 1114.8C526.3 1114.3 527.2 1112.5 528.1 1113.1C529.1 1113.6 529.5 1117.3 530.4 1117.8C531.2 1118.2 531.8 1116.6 532.8 1115.3C533.8 1114.1 534.8 1112.1 536.0 1111.0C537.2 1109.9 537.9 1110.2 539.4 1109.1C540.9 1108.0 542.0 1105.9 544.1 1105.0C546.1 1104.1 548.4 1104.6 550.6 1104.4C552.9 1104.3 554.4 1104.7 556.3 1104.1C558.1 1103.4 559.6 1101.2 560.9 1100.9C562.3 1100.5 562.7 1103.3 563.8 1102.2C564.8 1101.1 565.7 1096.6 566.6 1094.7C567.4 1092.7 567.6 1091.3 568.4 1091.5C569.2 1091.7 570.1 1093.9 570.9 1095.6C571.7 1097.3 572.0 1099.8 572.8 1100.9C573.5 1102.0 574.1 1102.8 575.0 1101.6C575.9 1100.5 576.6 1097.9 577.8 1094.7C579.0 1091.5 580.3 1087.0 581.6 1084.4C582.8 1081.7 583.7 1080.4 584.8 1080.3C585.8 1080.1 586.4 1081.0 587.2 1083.4C588.0 1085.9 588.3 1090.7 589.1 1093.8C589.9 1096.8 590.3 1098.5 591.5 1100.3C592.7 1102.1 593.8 1102.8 595.6 1103.5C597.4 1104.2 598.2 1104.1 601.3 1104.3C604.3 1104.4 608.4 1104.3 612.5 1104.3C616.6 1104.3 620.7 1104.2 623.8 1104.3C626.8 1104.3 627.5 1104.0 629.4 1104.6C631.3 1105.3 632.5 1106.7 634.1 1107.8C635.6 1108.9 636.4 1108.7 637.8 1110.6C639.2 1112.5 640.2 1118.0 641.6 1118.1C642.9 1118.3 644.1 1113.8 645.3 1111.6C646.5 1109.3 646.8 1107.3 648.1 1105.9C649.5 1104.6 650.8 1104.6 652.8 1104.3C654.9 1103.9 657.5 1103.9 659.4 1104.3C661.3 1104.6 661.6 1104.6 663.1 1105.9C664.7 1107.3 666.3 1111.4 667.8 1111.6C669.4 1111.7 670.0 1108.2 671.6 1106.9C673.1 1105.6 674.0 1104.9 676.3 1104.4C678.5 1104.0 681.0 1104.3 683.8 1104.3C686.5 1104.2 689.0 1103.6 691.3 1104.3C693.5 1104.9 694.6 1107.1 695.9 1107.8C697.3 1108.6 697.5 1108.5 698.8 1108.4C700.0 1108.2 701.1 1105.8 702.5 1106.9C703.9 1107.9 705.1 1113.2 706.6 1114.0C708.2 1114.8 709.5 1112.4 710.9 1111.0C712.4 1109.6 713.5 1107.0 714.7 1106.5C715.9 1106.0 716.5 1108.3 717.5 1108.4C718.5 1108.4 719.2 1106.4 720.3 1106.9C721.4 1107.4 722.3 1109.1 723.5 1111.0C724.7 1112.9 725.4 1115.5 726.9 1117.2C728.4 1118.8 730.2 1117.8 731.6 1120.0C732.9 1122.2 733.4 1126.1 734.4 1129.4C735.3 1132.6 735.6 1137.5 736.6 1137.8C737.7 1138.2 738.7 1134.5 740.0 1131.3C741.3 1128.0 742.4 1124.0 743.8 1120.0C745.1 1116.0 746.1 1111.7 747.1 1109.7C748.2 1107.7 748.3 1108.5 749.4 1109.1C750.4 1109.7 751.5 1113.1 752.8 1113.1C754.0 1113.1 754.8 1110.6 755.9 1109.1C757.0 1107.6 757.2 1105.8 758.8 1105.0C760.3 1104.2 762.3 1104.5 764.4 1104.6C766.4 1104.8 768.2 1104.4 770.0 1105.9C771.8 1107.5 772.8 1112.0 774.1 1112.9C775.5 1113.7 776.4 1111.6 777.5 1110.6C778.6 1109.7 778.6 1108.3 780.3 1107.8C782.0 1107.3 785.0 1107.0 786.9 1107.8C788.8 1108.7 789.4 1111.0 790.6 1112.5C791.8 1114.0 792.2 1116.3 793.4 1116.3C794.6 1116.3 795.8 1113.8 797.2 1112.5C798.6 1111.2 799.6 1109.7 800.9 1109.1C802.3 1108.5 803.3 1109.9 804.7 1109.1C806.1 1108.4 806.9 1105.7 808.4 1105.0C810.0 1104.3 811.4 1105.7 813.1 1105.6C814.8 1105.5 815.4 1104.7 817.8 1104.4C820.2 1104.2 823.2 1104.2 826.3 1104.3C829.3 1104.3 832.6 1103.1 834.7 1104.6C836.8 1106.1 836.6 1109.8 837.5 1112.5C838.4 1115.3 838.8 1118.3 839.8 1119.6C840.7 1121.0 841.8 1118.7 842.8 1120.0C843.7 1121.3 844.2 1124.7 845.0 1126.6C845.8 1128.5 846.3 1131.2 847.3 1130.3C848.2 1129.5 849.1 1125.4 850.3 1121.9C851.4 1118.3 852.2 1113.6 853.4 1111.0C854.7 1108.4 855.5 1108.6 857.2 1107.8C858.9 1107.1 860.8 1107.4 862.8 1106.9C864.9 1106.4 866.5 1105.2 868.4 1105.0C870.3 1104.8 871.2 1105.5 873.1 1105.6C875.0 1105.7 876.5 1105.8 878.8 1105.6C881.0 1105.4 882.6 1104.6 885.3 1104.4C888.1 1104.2 890.8 1104.4 893.8 1104.4C896.7 1104.4 898.2 1104.5 901.3 1104.4C904.3 1104.4 907.7 1104.0 910.6 1104.1C913.5 1104.1 915.0 1103.8 917.2 1104.6C919.4 1105.4 920.8 1108.3 922.8 1108.4C924.9 1108.4 926.5 1105.2 928.4 1105.0C930.3 1104.8 931.2 1107.3 933.1 1107.3C935.0 1107.3 936.7 1105.5 938.8 1105.0C940.8 1104.5 942.8 1104.7 944.4 1104.6C946.0 1104.6 944.9 1104.7 947.5 1104.6C950.1 1104.6 956.2 1103.7 958.8 1104.4C961.3 1105.2 960.6 1106.9 961.6 1108.8C962.5 1110.6 963.1 1114.3 964.0 1114.4C964.9 1114.4 965.7 1110.8 966.6 1109.1C967.6 1107.4 967.8 1105.9 969.1 1105.0C970.4 1104.1 972.0 1104.9 973.8 1104.1C975.5 1103.2 976.9 1101.3 978.4 1100.3C980.0 1099.3 981.0 1099.6 982.2 1098.4C983.4 1097.3 984.1 1095.1 985.0 1094.1C985.9 1093.2 986.3 1092.9 987.3 1093.4C988.2 1093.8 989.1 1094.8 990.3 1096.6C991.4 1098.3 992.3 1101.6 993.4 1102.8C994.5 1103.9 995.0 1103.5 996.3 1102.8C997.5 1102.0 998.8 1099.9 1000.0 1098.4C1001.2 1097.0 1001.9 1095.0 1002.8 1094.7C1003.8 1094.3 1004.4 1094.8 1005.3 1096.6C1006.1 1098.3 1006.6 1102.3 1007.5 1104.1C1008.4 1105.8 1009.3 1105.8 1010.3 1105.9C1011.3 1106.1 1011.9 1105.0 1013.1 1105.0C1014.3 1105.0 1015.5 1106.0 1016.9 1105.9C1018.3 1105.9 1019.4 1104.4 1020.6 1104.6C1021.8 1104.9 1022.2 1106.2 1023.4 1107.3C1024.6 1108.4 1025.8 1110.2 1027.2 1110.6C1028.6 1111.1 1029.9 1109.5 1030.9 1109.7C1032.0 1109.9 1032.1 1109.5 1032.8 1111.6C1033.5 1113.6 1034.0 1118.5 1034.7 1120.9C1035.4 1123.3 1035.7 1124.2 1036.6 1124.7C1037.4 1125.2 1038.2 1122.9 1039.4 1123.8C1040.6 1124.6 1041.9 1128.9 1043.1 1129.4C1044.3 1129.9 1044.9 1128.3 1045.9 1126.6C1047.0 1124.8 1047.5 1122.1 1048.8 1120.0C1050.0 1117.9 1051.1 1116.7 1052.5 1115.3C1053.9 1113.9 1055.0 1112.2 1056.3 1112.5C1057.5 1112.8 1058.0 1117.0 1059.1 1117.2C1060.1 1117.4 1061.0 1114.9 1061.9 1113.4C1062.7 1112.0 1063.1 1109.0 1063.8 1109.1C1064.4 1109.3 1064.8 1111.7 1065.6 1114.4C1066.4 1117.1 1067.2 1122.7 1068.1 1123.8C1068.9 1124.8 1069.5 1122.2 1070.3 1120.0C1071.2 1117.8 1071.7 1113.8 1072.8 1111.6C1073.8 1109.3 1074.8 1108.7 1075.9 1107.8C1077.0 1106.9 1077.5 1106.5 1078.8 1106.5C1080.0 1106.5 1081.1 1108.2 1082.5 1107.8C1083.9 1107.5 1084.9 1105.1 1086.3 1104.6C1087.6 1104.1 1088.6 1104.4 1090.0 1105.0C1091.4 1105.6 1092.4 1107.5 1093.8 1107.8C1095.1 1108.2 1095.8 1107.5 1097.1 1106.9C1098.5 1106.3 1099.1 1104.9 1101.3 1104.4C1103.4 1104.0 1106.0 1104.1 1108.8 1104.3C1111.5 1104.4 1113.8 1105.0 1116.3 1105.0C1118.7 1105.0 1120.2 1104.3 1121.9 1104.4C1123.6 1104.6 1124.3 1105.0 1125.6 1105.9C1127.0 1106.9 1128.3 1108.8 1129.4 1109.7C1130.5 1110.6 1130.8 1111.5 1131.6 1111.0C1132.5 1110.5 1133.2 1108.0 1134.1 1106.9C1135.0 1105.8 1135.6 1104.7 1136.5 1105.0C1137.4 1105.3 1137.8 1106.8 1138.8 1108.4C1139.7 1109.9 1140.5 1111.5 1141.6 1113.4C1142.6 1115.4 1143.4 1117.7 1144.4 1119.1C1145.3 1120.4 1145.9 1121.1 1146.8 1120.9C1147.8 1120.8 1148.5 1119.7 1149.6 1118.1C1150.7 1116.5 1151.9 1113.6 1152.8 1112.1C1153.7 1110.7 1153.9 1110.4 1154.7 1110.3C1155.5 1110.1 1156.1 1112.2 1157.1 1111.6C1158.2 1110.9 1159.0 1107.8 1160.3 1106.9C1161.6 1105.9 1162.7 1106.6 1164.1 1106.5C1165.4 1106.4 1166.3 1106.3 1167.8 1106.5C1169.4 1106.7 1170.8 1108.0 1172.5 1107.8C1174.2 1107.6 1175.6 1106.0 1177.2 1105.4C1178.7 1104.8 1179.6 1104.6 1180.9 1104.6C1182.3 1104.6 1183.3 1105.4 1184.7 1105.4C1186.1 1105.4 1187.1 1104.4 1188.4 1104.6C1189.8 1104.8 1190.6 1105.7 1192.2 1106.5C1193.7 1107.3 1195.3 1108.2 1196.9 1109.1C1198.4 1110.1 1199.4 1111.4 1200.6 1111.6C1201.8 1111.8 1202.4 1110.9 1203.4 1110.3C1204.5 1109.6 1205.2 1108.4 1206.3 1107.8C1207.3 1107.3 1207.9 1107.0 1209.1 1107.3C1210.3 1107.5 1211.8 1108.2 1212.8 1109.1C1213.8 1110.1 1213.9 1110.5 1214.7 1112.5C1215.5 1114.5 1216.1 1117.9 1217.1 1120.0C1218.2 1122.1 1219.2 1123.8 1220.3 1123.8C1221.4 1123.8 1221.9 1121.4 1223.1 1120.0C1224.3 1118.6 1225.5 1117.1 1226.9 1116.3C1228.3 1115.4 1229.3 1115.6 1230.6 1115.3C1232.0 1115.0 1233.1 1115.5 1234.4 1114.8C1235.7 1114.0 1236.5 1112.5 1237.8 1111.0C1239.0 1109.5 1239.7 1107.7 1240.9 1106.5C1242.2 1105.3 1242.8 1105.0 1244.7 1104.6C1246.6 1104.3 1249.2 1104.5 1251.3 1104.6C1253.3 1104.8 1254.2 1104.3 1255.9 1105.4C1257.7 1106.5 1259.3 1110.3 1260.6 1110.6C1262.0 1111.0 1262.2 1108.3 1263.4 1107.3C1264.6 1106.2 1265.6 1104.9 1267.2 1105.0C1268.7 1105.1 1270.3 1107.6 1271.9 1107.8C1273.4 1108.0 1274.3 1106.5 1275.6 1105.9C1276.9 1105.4 1277.6 1104.5 1279.0 1104.6C1280.4 1104.7 1281.5 1106.3 1283.1 1106.5C1284.7 1106.7 1286.1 1105.5 1287.8 1105.9C1289.5 1106.4 1290.8 1108.4 1292.5 1109.1C1294.2 1109.8 1295.5 1109.7 1297.2 1109.7C1298.9 1109.7 1300.5 1108.9 1301.9 1109.1C1303.3 1109.4 1303.5 1109.1 1304.7 1111.0C1305.9 1112.9 1307.1 1119.4 1308.4 1119.6C1309.8 1119.8 1311.2 1113.7 1312.2 1112.1C1313.2 1110.5 1313.4 1110.2 1314.1 1111.0C1314.8 1111.8 1315.1 1114.4 1315.9 1116.3C1316.8 1118.1 1317.7 1120.6 1318.8 1120.9C1319.8 1121.3 1320.4 1119.7 1321.6 1118.1C1322.8 1116.6 1323.9 1113.9 1325.3 1112.5C1326.7 1111.1 1327.7 1111.6 1329.1 1110.6C1330.4 1109.7 1331.6 1107.7 1332.8 1107.3C1334.0 1106.8 1334.6 1107.4 1335.6 1108.4C1336.7 1109.3 1337.1 1112.2 1338.4 1112.5C1339.8 1112.8 1341.8 1109.6 1343.1 1110.3C1344.5 1110.9 1345.0 1112.9 1345.9 1116.3C1346.9 1119.6 1347.5 1125.0 1348.4 1128.4C1349.2 1131.9 1349.7 1135.2 1350.6 1135.0C1351.6 1134.8 1352.6 1129.2 1353.4 1127.5C1354.3 1125.8 1354.5 1124.8 1355.3 1125.6C1356.1 1126.5 1356.9 1127.4 1357.8 1132.2C1358.6 1137.0 1359.1 1141.7 1360.0 1151.9C1360.9 1162.0 1361.8 1175.1 1362.8 1187.5C1363.8 1199.9 1364.6 1210.6 1365.6 1219.4C1366.7 1228.1 1367.5 1231.7 1368.4 1235.3C1369.4 1238.9 1369.8 1240.3 1370.7 1239.1C1371.5 1237.9 1372.3 1237.5 1373.1 1228.8C1374.0 1220.0 1374.5 1206.7 1375.4 1191.3C1376.2 1175.8 1377.0 1156.6 1377.8 1144.4C1378.6 1132.2 1379.0 1126.8 1379.7 1124.7C1380.4 1122.6 1380.9 1132.4 1381.6 1133.1C1382.3 1133.8 1382.8 1130.8 1383.4 1128.4C1384.1 1126.0 1384.6 1120.2 1385.3 1120.0C1386.0 1119.8 1386.4 1121.4 1387.2 1127.5C1388.0 1133.6 1388.8 1150.3 1389.6 1153.4C1390.5 1156.5 1390.9 1148.8 1391.9 1144.4C1392.8 1140.0 1393.7 1134.0 1394.7 1129.4C1395.7 1124.7 1396.6 1120.4 1397.5 1119.1C1398.4 1117.7 1398.7 1118.3 1399.4 1121.9C1400.1 1125.5 1400.5 1132.8 1401.3 1138.8C1402.0 1144.7 1402.8 1153.8 1403.7 1154.1C1404.5 1154.5 1405.1 1145.0 1405.9 1140.6C1406.8 1136.3 1407.5 1132.1 1408.4 1130.3C1409.2 1128.5 1409.7 1132.1 1410.6 1130.9C1411.6 1129.7 1412.4 1127.3 1413.4 1123.8C1414.5 1120.2 1415.5 1114.4 1416.3 1111.6C1417.0 1108.7 1417.1 1107.4 1417.6 1108.4C1418.1 1109.3 1418.3 1112.2 1419.0 1116.9C1419.7 1121.5 1420.4 1129.9 1421.3 1133.8C1422.1 1137.6 1422.5 1136.9 1423.5 1137.9C1424.5 1138.8 1425.7 1140.4 1426.9 1139.0C1428.0 1137.6 1428.7 1132.5 1429.7 1130.0C1430.7 1127.5 1431.3 1124.6 1432.1 1125.3C1433.0 1126.0 1433.4 1128.4 1434.4 1133.8C1435.3 1139.1 1436.3 1148.9 1437.2 1154.4C1438.0 1159.9 1438.3 1163.9 1439.1 1163.8C1439.9 1163.6 1440.7 1154.1 1441.5 1153.4C1442.3 1152.8 1442.6 1149.9 1443.4 1160.0C1444.1 1170.1 1444.7 1192.3 1445.6 1208.8C1446.6 1225.3 1447.6 1241.4 1448.4 1250.0C1449.3 1258.6 1449.6 1256.0 1450.3 1255.6C1451.0 1255.3 1451.3 1258.4 1452.2 1248.1C1453.0 1237.8 1454.0 1214.8 1455.0 1199.4C1456.0 1183.9 1456.8 1170.6 1457.8 1163.8C1458.8 1156.9 1459.4 1163.9 1460.6 1161.9C1461.8 1159.8 1463.0 1157.0 1464.4 1152.5C1465.8 1148.0 1466.9 1141.7 1468.1 1137.5C1469.3 1133.3 1469.9 1128.3 1470.9 1129.6C1472.0 1131.0 1472.7 1139.4 1473.8 1145.0C1474.8 1150.6 1475.7 1160.0 1476.6 1160.0C1477.4 1160.0 1477.8 1153.3 1478.4 1145.0C1479.1 1136.8 1479.7 1122.0 1480.3 1115.0C1480.9 1108.0 1480.9 1107.1 1481.6 1106.6C1482.3 1106.0 1483.2 1107.9 1484.1 1112.2C1485.0 1116.5 1485.5 1123.1 1486.5 1130.0C1487.5 1136.9 1488.4 1146.2 1489.7 1149.7C1491.0 1153.2 1491.9 1149.4 1493.4 1149.1C1495.0 1148.9 1496.8 1150.5 1498.1 1148.4C1499.5 1146.2 1500.0 1141.6 1500.9 1137.5C1501.9 1133.4 1502.3 1127.3 1503.4 1125.9C1504.4 1124.4 1505.5 1129.5 1506.6 1129.6C1507.6 1129.8 1508.1 1123.8 1509.0 1126.6C1509.9 1129.4 1510.3 1137.2 1511.3 1145.0C1512.2 1152.8 1513.0 1163.0 1514.1 1169.4C1515.1 1175.7 1515.8 1177.7 1516.9 1179.7C1517.9 1181.7 1518.7 1181.8 1519.7 1180.3C1520.7 1178.7 1521.3 1177.0 1522.5 1171.3C1523.7 1165.5 1524.9 1156.0 1526.3 1148.8C1527.6 1141.5 1528.9 1135.4 1530.0 1131.9C1531.1 1128.4 1531.4 1128.6 1532.3 1129.6C1533.1 1130.7 1533.7 1133.5 1534.7 1137.5C1535.7 1141.5 1536.5 1147.9 1537.5 1151.6C1538.5 1155.3 1539.3 1157.6 1540.3 1157.8C1541.3 1157.9 1542.1 1155.5 1543.1 1152.5C1544.2 1149.5 1544.9 1143.7 1545.9 1141.3C1547.0 1138.8 1547.7 1138.7 1548.8 1139.0C1549.8 1139.3 1550.6 1142.0 1551.6 1143.1C1552.5 1144.2 1553.0 1145.4 1554.0 1145.0C1555.0 1144.6 1556.1 1141.2 1557.2 1140.9C1558.3 1140.5 1558.9 1144.1 1560.0 1143.1C1561.1 1142.2 1562.2 1137.7 1563.4 1135.6C1564.6 1133.6 1565.1 1131.5 1566.6 1131.9C1568.0 1132.3 1569.7 1137.9 1571.3 1137.9C1572.8 1137.9 1573.6 1133.9 1575.0 1131.9C1576.4 1129.8 1577.5 1127.6 1578.8 1126.6C1580.0 1125.7 1580.6 1128.1 1581.6 1126.6C1582.5 1125.2 1583.2 1120.6 1584.0 1118.8C1584.8 1116.9 1585.0 1115.5 1585.7 1116.5C1586.4 1117.5 1587.0 1121.8 1587.8 1124.4C1588.5 1126.9 1589.1 1129.5 1590.0 1130.4C1590.9 1131.2 1591.8 1129.1 1592.8 1129.1C1593.8 1129.1 1594.6 1130.9 1595.6 1130.4C1596.7 1129.9 1597.4 1127.5 1598.4 1126.3C1599.5 1125.0 1600.2 1125.3 1601.3 1123.4C1602.3 1121.5 1603.2 1118.9 1604.1 1115.9C1604.9 1113.0 1605.1 1109.6 1605.9 1107.5C1606.8 1105.4 1607.5 1105.1 1608.8 1104.7C1610.0 1104.3 1611.5 1103.4 1612.5 1105.3C1613.5 1107.1 1613.7 1111.3 1614.4 1115.0C1615.1 1118.7 1615.5 1125.0 1616.3 1125.3C1617.0 1125.7 1617.6 1120.3 1618.5 1116.9C1619.4 1113.4 1620.0 1108.8 1620.9 1106.6C1621.9 1104.3 1622.4 1104.8 1623.8 1104.7C1625.1 1104.6 1626.9 1106.0 1628.4 1106.0C1630.0 1106.0 1630.3 1105.0 1632.2 1104.7C1634.1 1104.4 1636.5 1104.4 1638.8 1104.3C1641.0 1104.2 1642.8 1105.8 1644.4 1104.1C1645.9 1102.5 1646.2 1098.0 1647.2 1095.3C1648.2 1092.7 1648.8 1089.7 1649.6 1089.7C1650.5 1089.7 1651.1 1092.8 1651.9 1095.3C1652.7 1097.8 1652.9 1101.8 1654.1 1103.4C1655.3 1105.0 1656.6 1104.5 1658.4 1104.1C1660.3 1103.8 1662.0 1101.6 1664.1 1101.5C1666.1 1101.4 1667.8 1104.0 1669.7 1103.8C1671.6 1103.5 1672.8 1100.3 1674.4 1100.0C1675.9 1099.7 1676.8 1102.7 1678.1 1102.3C1679.4 1101.8 1680.4 1098.2 1681.5 1097.8C1682.6 1097.3 1683.0 1098.8 1684.1 1100.0C1685.2 1101.2 1686.0 1103.4 1687.5 1104.1C1689.0 1104.9 1690.8 1105.4 1692.2 1104.1C1693.6 1102.9 1694.0 1100.5 1695.0 1097.2C1696.0 1093.9 1696.9 1088.9 1697.8 1085.9C1698.8 1083.0 1699.2 1081.8 1700.3 1081.3C1701.3 1080.7 1702.2 1083.0 1703.4 1083.1C1704.7 1083.3 1706.0 1082.3 1707.2 1082.2C1708.4 1082.1 1708.9 1083.4 1710.0 1082.8C1711.1 1082.1 1712.3 1078.5 1713.4 1078.4C1714.5 1078.3 1715.0 1079.6 1716.0 1082.2C1717.0 1084.8 1717.9 1089.2 1719.0 1092.5C1720.1 1095.8 1721.1 1098.4 1722.2 1100.0C1723.3 1101.7 1723.8 1102.2 1725.0 1101.5C1726.2 1100.8 1727.4 1097.9 1728.8 1096.3C1730.1 1094.6 1731.0 1093.0 1732.1 1092.5C1733.2 1092.0 1733.7 1094.3 1734.8 1093.4C1735.8 1092.6 1736.7 1089.4 1737.8 1087.8C1738.8 1086.3 1739.3 1084.8 1740.4 1085.0C1741.4 1085.2 1742.2 1087.2 1743.4 1089.1C1744.5 1091.0 1745.4 1095.0 1746.6 1095.3C1747.7 1095.7 1748.6 1091.2 1749.8 1091.0C1750.9 1090.8 1751.6 1093.3 1752.8 1094.4C1753.9 1095.4 1754.7 1095.9 1755.9 1096.6C1757.2 1097.4 1758.2 1097.5 1759.7 1098.5C1761.2 1099.5 1762.8 1102.5 1764.0 1102.3C1765.2 1102.0 1765.4 1100.4 1766.3 1097.2C1767.1 1094.0 1767.6 1088.3 1768.5 1085.0C1769.4 1081.7 1770.1 1079.0 1770.9 1079.4C1771.7 1079.7 1772.0 1083.9 1772.8 1086.9C1773.6 1089.9 1774.3 1095.5 1775.3 1095.9C1776.2 1096.3 1776.8 1093.2 1777.9 1089.1C1779.0 1085.1 1780.2 1078.6 1781.3 1073.8C1782.3 1068.9 1782.8 1065.0 1783.5 1062.5C1784.2 1060.0 1784.3 1059.7 1785.0 1060.3C1785.7 1060.8 1786.4 1062.0 1787.3 1065.3C1788.1 1068.6 1788.7 1073.5 1789.7 1078.4C1790.7 1083.4 1791.5 1088.6 1792.5 1092.5C1793.5 1096.4 1794.3 1098.0 1795.3 1099.6C1796.3 1101.3 1797.1 1101.8 1798.1 1101.5C1799.2 1101.2 1799.9 1100.2 1800.9 1098.1C1802.0 1096.1 1802.7 1092.7 1803.8 1090.3C1804.8 1087.8 1805.5 1084.6 1806.6 1084.6C1807.6 1084.6 1808.3 1087.9 1809.4 1090.3C1810.4 1092.6 1811.0 1094.9 1812.2 1097.2C1813.4 1099.5 1814.6 1101.3 1815.9 1102.8C1817.3 1104.4 1818.5 1104.9 1819.7 1105.6C1820.9 1106.3 1821.1 1106.7 1822.5 1106.6C1823.9 1106.4 1825.6 1105.2 1827.2 1104.7C1828.7 1104.2 1829.7 1104.0 1830.9 1103.8C1832.2 1103.5 1833.1 1104.9 1834.1 1103.4C1835.2 1101.8 1835.6 1099.5 1836.6 1095.3C1837.5 1091.1 1838.3 1084.5 1839.4 1080.3C1840.4 1076.1 1841.2 1072.3 1842.2 1072.3C1843.2 1072.3 1843.8 1077.6 1844.6 1080.3C1845.5 1083.1 1845.9 1086.8 1846.9 1087.3C1847.8 1087.7 1848.7 1084.1 1849.7 1082.8C1850.7 1081.4 1851.6 1081.7 1852.5 1079.8C1853.4 1077.8 1854.0 1074.0 1854.8 1072.3C1855.5 1070.5 1856.0 1069.6 1856.8 1070.4C1857.6 1071.2 1858.1 1072.7 1859.1 1076.6C1860.0 1080.4 1860.8 1086.8 1861.9 1091.6C1862.9 1096.4 1863.7 1100.5 1864.7 1102.8C1865.7 1105.1 1865.8 1104.0 1867.5 1104.1C1869.2 1104.3 1872.2 1104.7 1874.1 1103.8C1876.0 1102.8 1876.4 1102.0 1877.8 1099.1C1879.2 1096.1 1880.2 1091.6 1881.6 1087.8C1882.9 1084.0 1884.1 1080.8 1885.3 1078.4C1886.5 1076.0 1887.4 1075.5 1888.1 1074.7C1888.8 1073.9 1888.3 1073.0 1889.2 1073.9C1890.1 1074.8 1891.8 1077.0 1893.1 1079.4C1894.4 1081.8 1895.2 1084.6 1896.4 1087.0C1897.6 1089.4 1898.5 1091.3 1899.7 1092.5C1900.9 1093.7 1901.8 1092.7 1903.0 1093.6C1904.2 1094.5 1904.9 1096.0 1906.3 1097.3C1907.6 1098.6 1908.9 1100.4 1910.2 1100.8C1911.5 1101.2 1912.2 1099.2 1913.3 1099.5C1914.3 1099.8 1915.0 1101.5 1916.1 1102.3C1917.2 1103.2 1917.2 1103.8 1919.4 1104.1C1921.6 1104.4 1924.5 1103.9 1928.1 1103.9C1931.7 1103.8 1935.5 1103.9 1939.1 1103.9C1942.7 1103.9 1945.7 1105.1 1947.8 1103.9C1949.9 1102.7 1949.4 1099.5 1950.4 1097.3C1951.4 1095.1 1952.4 1092.1 1953.3 1092.1C1954.2 1092.1 1954.7 1095.4 1955.5 1097.3C1956.3 1099.2 1956.6 1101.6 1957.7 1102.3C1958.7 1103.1 1959.8 1101.3 1961.4 1101.3C1963.0 1101.3 1964.7 1101.9 1966.4 1102.3C1968.1 1102.8 1969.2 1103.1 1970.8 1103.9C1972.4 1104.7 1973.8 1105.9 1975.2 1106.7C1976.6 1107.5 1977.2 1108.5 1978.4 1108.3C1979.6 1108.0 1980.5 1106.5 1981.7 1105.6C1982.9 1104.7 1983.9 1105.4 1985.0 1103.4C1986.1 1101.4 1986.7 1099.9 1987.6 1094.7C1988.5 1089.5 1989.1 1080.8 1990.0 1075.0C1991.0 1069.2 1991.8 1063.4 1992.7 1063.0C1993.5 1062.6 1994.0 1068.4 1994.8 1072.8C1995.6 1077.2 1996.2 1083.5 1997.0 1087.0C1997.8 1090.6 1998.3 1091.7 1999.2 1092.1C2000.1 1092.5 2001.1 1090.0 2002.1 1089.2C2003.1 1088.4 2003.6 1087.4 2004.7 1087.7C2005.8 1088.0 2006.8 1089.0 2008.0 1090.8C2009.2 1092.5 2010.0 1095.0 2011.3 1097.3C2012.5 1099.6 2012.9 1102.2 2014.5 1103.4C2016.1 1104.7 2017.4 1104.0 2020.0 1104.1C2022.6 1104.2 2025.5 1103.9 2028.8 1103.9C2032.0 1103.8 2034.7 1103.9 2037.5 1103.9C2040.3 1103.9 2042.3 1103.6 2044.1 1103.9C2045.9 1104.1 2046.1 1105.1 2047.3 1105.2C2048.6 1105.2 2050.1 1103.2 2051.1 1104.1C2052.1 1105.0 2052.2 1104.5 2052.8 1110.0C2053.5 1115.5 2053.8 1131.5 2054.6 1134.1C2055.3 1136.7 2055.9 1128.6 2056.8 1124.2C2057.6 1119.8 2058.3 1113.4 2058.9 1110.0C2059.6 1106.6 2059.6 1105.7 2060.5 1105.6C2061.4 1105.5 2062.4 1108.4 2063.8 1109.6C2065.1 1110.7 2066.3 1111.5 2067.7 1111.8C2069.1 1112.0 2070.1 1111.8 2071.4 1111.1C2072.7 1110.4 2073.4 1109.1 2074.7 1107.8C2076.0 1106.5 2077.4 1104.1 2078.6 1104.1C2079.8 1104.1 2080.3 1105.9 2081.3 1107.8C2082.2 1109.7 2082.9 1114.2 2083.9 1114.4C2084.9 1114.6 2085.6 1109.5 2086.7 1108.9C2087.8 1108.3 2088.8 1110.0 2090.0 1111.1C2091.2 1112.2 2092.1 1114.6 2093.3 1114.8C2094.5 1115.0 2095.2 1113.6 2096.6 1112.2C2098.0 1110.8 2099.7 1107.6 2100.9 1107.4C2102.1 1107.2 2102.4 1108.8 2103.1 1111.1C2103.8 1113.4 2104.1 1119.2 2104.9 1119.8C2105.7 1120.4 2106.6 1116.8 2107.5 1114.4C2108.4 1112.0 2108.9 1108.5 2109.7 1106.7C2110.5 1104.9 2111.0 1104.1 2111.9 1104.5C2112.8 1104.9 2113.5 1107.4 2114.5 1108.9C2115.5 1110.4 2116.2 1112.5 2117.3 1112.6C2118.5 1112.7 2119.4 1110.2 2120.6 1109.6C2121.8 1108.9 2122.6 1109.2 2123.9 1108.9C2125.2 1108.6 2126.4 1107.6 2127.6 1107.8C2128.8 1108.0 2129.3 1108.6 2130.5 1110.0C2131.6 1111.4 2132.3 1114.1 2133.8 1115.5C2135.2 1116.9 2136.7 1117.0 2138.1 1117.7C2139.5 1118.3 2140.0 1119.6 2141.4 1119.2C2142.8 1118.8 2144.2 1116.3 2145.8 1115.5C2147.4 1114.7 2148.8 1114.2 2150.2 1114.8C2151.5 1115.4 2152.2 1116.6 2153.0 1118.8C2153.8 1120.9 2153.7 1127.0 2154.5 1126.4C2155.3 1125.8 2156.5 1118.5 2157.4 1115.5C2158.3 1112.5 2158.9 1107.2 2159.6 1110.0C2160.2 1112.8 2160.4 1128.6 2161.1 1130.8C2161.8 1133.0 2162.3 1126.0 2163.3 1122.0C2164.3 1118.0 2165.5 1111.8 2166.6 1108.9C2167.6 1106.0 2168.2 1106.1 2169.2 1106.1C2170.2 1106.1 2170.9 1108.1 2172.0 1108.9C2173.2 1109.7 2174.2 1109.8 2175.3 1110.4C2176.4 1111.0 2177.1 1109.1 2177.9 1112.2C2178.7 1115.3 2179.0 1121.5 2179.7 1127.5C2180.4 1133.5 2181.1 1142.5 2181.9 1145.0C2182.7 1147.5 2183.3 1140.7 2184.1 1141.1C2184.9 1141.5 2185.4 1145.1 2186.3 1147.2C2187.1 1149.3 2187.6 1153.5 2188.4 1152.7C2189.3 1151.9 2190.1 1147.8 2191.1 1142.8C2192.1 1137.8 2192.9 1131.3 2193.9 1125.3C2195.0 1119.3 2195.7 1113.4 2196.8 1110.0C2197.8 1106.6 2198.4 1106.8 2199.4 1106.7C2200.3 1106.6 2201.0 1108.0 2202.0 1109.6C2203.0 1111.2 2203.9 1114.2 2204.8 1115.5C2205.8 1116.8 2206.1 1117.0 2207.0 1116.6C2208.0 1116.2 2208.9 1115.0 2209.9 1113.3C2210.9 1111.6 2211.4 1108.9 2212.5 1107.4C2213.6 1105.9 2214.6 1105.3 2215.8 1105.0C2217.0 1104.6 2218.0 1104.7 2219.1 1105.6C2220.1 1106.5 2220.8 1107.4 2221.7 1110.0C2222.6 1112.6 2223.1 1117.0 2223.9 1119.8C2224.7 1122.7 2225.3 1126.2 2226.1 1125.8C2226.9 1125.3 2227.5 1121.1 2228.3 1117.7C2229.1 1114.2 2229.6 1109.0 2230.4 1106.7C2231.2 1104.4 2231.7 1104.8 2232.6 1105.0C2233.5 1105.2 2234.3 1106.3 2235.5 1107.8C2236.6 1109.3 2237.3 1112.0 2238.8 1113.3C2240.2 1114.6 2241.7 1115.2 2243.1 1114.8C2244.5 1114.4 2245.2 1112.9 2246.4 1111.1C2247.6 1109.3 2248.3 1106.3 2249.7 1105.0C2251.1 1103.7 2252.7 1104.8 2254.1 1104.1C2255.5 1103.4 2256.1 1102.1 2257.3 1101.3C2258.6 1100.4 2259.9 1099.5 2261.1 1099.5C2262.3 1099.5 2262.9 1100.4 2263.9 1101.3C2265.0 1102.1 2265.7 1104.3 2266.8 1103.9C2267.8 1103.5 2268.9 1100.1 2269.8 1099.1C2270.8 1098.0 2271.2 1097.6 2272.0 1098.0C2272.8 1098.3 2273.4 1101.4 2274.2 1100.8C2275.0 1100.2 2275.7 1096.0 2276.4 1094.7C2277.1 1093.4 2277.4 1092.2 2278.1 1093.6C2278.8 1095.0 2279.5 1098.9 2280.3 1102.3C2281.1 1105.8 2281.7 1109.5 2282.5 1112.2C2283.3 1114.9 2283.8 1116.4 2284.7 1117.0C2285.6 1117.6 2286.4 1117.6 2287.3 1115.5C2288.2 1113.4 2288.7 1109.2 2289.5 1105.6C2290.3 1102.0 2290.8 1098.3 2291.7 1095.8C2292.6 1093.3 2293.2 1093.3 2294.5 1092.1C2295.9 1090.9 2297.6 1088.7 2298.9 1089.2C2300.2 1089.7 2300.8 1092.5 2301.8 1094.7C2302.8 1096.9 2303.3 1099.3 2304.4 1101.3C2305.5 1103.2 2306.5 1103.6 2307.7 1105.2C2308.9 1106.8 2309.9 1107.5 2310.9 1110.0C2311.9 1112.5 2312.3 1114.7 2313.1 1118.8C2313.9 1122.8 2314.5 1127.7 2315.3 1131.9C2316.1 1136.1 2316.6 1141.3 2317.5 1141.7C2318.4 1142.1 2319.1 1137.7 2320.1 1134.1C2321.1 1130.5 2321.8 1125.4 2323.0 1122.0C2324.1 1118.6 2325.3 1114.5 2326.3 1115.5C2327.3 1116.5 2327.5 1122.9 2328.4 1127.5C2329.4 1132.1 2330.3 1139.8 2331.3 1140.6C2332.3 1141.4 2332.9 1137.1 2333.9 1131.9C2334.9 1126.7 2335.8 1117.6 2336.8 1112.2C2337.8 1106.8 2338.4 1104.8 2339.4 1102.3C2340.3 1099.9 2341.0 1098.7 2342.0 1098.6C2343.0 1098.5 2343.7 1101.9 2344.8 1101.7C2346.0 1101.4 2347.0 1097.6 2348.1 1097.3C2349.2 1097.0 2349.8 1099.2 2350.8 1100.2C2351.8 1101.1 2352.5 1102.5 2353.6 1102.3C2354.7 1102.2 2355.7 1100.9 2356.9 1099.5C2358.1 1098.1 2359.0 1097.2 2360.2 1094.7C2361.3 1092.2 2362.0 1088.3 2363.0 1085.9C2364.0 1083.5 2364.7 1081.4 2365.6 1081.6C2366.5 1081.8 2367.0 1082.6 2367.8 1087.0C2368.6 1091.4 2369.3 1098.2 2370.0 1105.6C2370.7 1113.0 2371.0 1119.1 2371.8 1127.5C2372.5 1135.9 2373.1 1148.8 2373.9 1151.6C2374.7 1154.4 2375.4 1145.0 2376.1 1142.8C2376.8 1140.6 2377.0 1138.3 2377.7 1139.5C2378.3 1140.7 2378.9 1145.6 2379.8 1149.4C2380.8 1153.1 2381.7 1159.9 2382.7 1159.9C2383.7 1159.9 2384.4 1154.5 2385.3 1149.4C2386.2 1144.2 2386.7 1136.7 2387.5 1131.9C2388.3 1127.1 2388.7 1125.9 2389.7 1123.1C2390.7 1120.3 2392.0 1118.2 2393.0 1116.6C2394.0 1115.0 2394.2 1113.2 2395.2 1114.4C2396.1 1115.6 2397.0 1119.9 2398.0 1123.1C2399.0 1126.3 2399.7 1130.0 2400.6 1131.9C2401.5 1133.8 2401.9 1134.8 2402.8 1133.6C2403.7 1132.4 2404.4 1129.6 2405.4 1125.3C2406.4 1121.0 2407.4 1113.8 2408.3 1110.0C2409.2 1106.2 2409.5 1105.1 2410.5 1104.5C2411.4 1103.9 2412.2 1105.5 2413.3 1106.7C2414.4 1107.9 2415.3 1110.0 2416.4 1111.1C2417.5 1112.2 2418.1 1112.6 2419.2 1112.6C2420.3 1112.6 2421.3 1111.6 2422.5 1111.1C2423.7 1110.6 2424.6 1110.0 2425.8 1110.0C2427.0 1110.0 2428.0 1110.8 2429.1 1111.1C2430.1 1111.4 2431.0 1111.6 2431.7 1111.8C2432.3 1111.9 2432.4 1111.8 2432.6 1111.8" fill="none" stroke="#1cd8c4" stroke-width="1.8" stroke-linejoin="round"/></g>
<g clip-path="url(#cpFRneg)"><path d="M5.0 1105.9C5.0 1105.9 5.0 1106.2 5.3 1105.9C5.7 1105.7 5.5 1104.9 7.5 1104.6C9.5 1104.4 13.7 1103.9 15.9 1104.6C18.2 1105.3 18.5 1107.1 19.7 1108.4C20.9 1109.6 21.5 1111.6 22.5 1111.6C23.5 1111.6 24.4 1109.2 25.3 1108.4C26.3 1107.6 26.7 1106.8 27.8 1107.3C28.8 1107.7 29.8 1108.7 30.9 1111.0C32.0 1113.3 32.7 1117.0 33.8 1120.0C34.8 1123.0 35.5 1127.2 36.6 1127.1C37.7 1127.1 38.6 1120.2 39.8 1119.6C40.9 1119.0 41.6 1117.8 42.8 1123.8C43.9 1129.7 44.8 1150.5 45.9 1152.3C47.0 1154.0 47.8 1140.7 48.8 1133.1C49.7 1125.6 50.1 1116.2 51.0 1111.0C51.9 1105.8 52.5 1109.2 53.4 1105.0C54.3 1100.8 54.9 1093.2 55.9 1088.1C56.8 1083.0 57.6 1077.3 58.5 1077.3C59.4 1077.3 60.0 1082.9 60.9 1088.1C61.9 1093.4 63.0 1101.5 63.8 1105.9C64.5 1110.4 64.4 1112.3 65.1 1112.5C65.8 1112.7 66.4 1108.4 67.5 1106.9C68.6 1105.3 69.7 1104.1 70.9 1104.1C72.1 1104.1 73.0 1105.8 74.1 1106.9C75.2 1107.9 75.7 1109.6 76.9 1109.7C78.1 1109.8 78.7 1108.3 80.6 1107.3C82.5 1106.2 84.8 1104.6 87.2 1104.1C89.6 1103.5 90.5 1104.2 93.8 1104.3C97.0 1104.3 100.9 1104.4 105.0 1104.4C109.1 1104.4 112.8 1104.3 116.3 1104.3C119.7 1104.2 121.9 1103.4 123.8 1104.1C125.6 1104.7 125.6 1106.0 126.6 1107.8C127.5 1109.6 128.0 1113.9 129.0 1114.0C130.0 1114.1 131.0 1108.3 132.2 1108.4C133.4 1108.4 134.2 1114.4 135.4 1114.4C136.6 1114.4 137.5 1110.2 138.8 1108.4C140.0 1106.6 140.9 1105.1 142.1 1104.6C143.3 1104.2 144.0 1105.4 145.3 1105.9C146.6 1106.5 147.7 1108.0 149.1 1107.8C150.4 1107.6 151.4 1105.7 152.8 1105.0C154.2 1104.3 155.4 1103.8 156.6 1104.1C157.8 1104.3 158.3 1105.2 159.4 1106.5C160.4 1107.8 161.2 1108.7 162.2 1111.0C163.2 1113.3 164.1 1117.1 165.0 1119.1C165.9 1121.1 166.4 1122.4 167.3 1121.9C168.1 1121.4 168.9 1118.8 169.7 1116.3C170.5 1113.7 170.9 1109.9 171.6 1107.8C172.3 1105.8 172.6 1104.8 173.4 1105.0C174.2 1105.2 175.0 1106.4 175.9 1109.1C176.7 1111.9 177.2 1115.9 178.1 1120.0C179.1 1124.1 179.9 1128.1 180.9 1131.3C182.0 1134.4 182.7 1136.3 183.8 1137.3C184.8 1138.2 185.4 1134.2 186.6 1136.5C187.7 1138.8 188.7 1150.1 189.9 1149.6C191.1 1149.2 191.9 1139.2 193.1 1134.1C194.4 1129.0 195.4 1125.1 196.9 1121.9C198.3 1118.6 199.8 1115.9 201.0 1116.3C202.2 1116.6 202.5 1121.3 203.4 1123.8C204.3 1126.2 205.0 1129.6 205.9 1129.8C206.7 1129.9 207.2 1128.1 208.1 1124.7C209.1 1121.3 210.0 1114.5 210.9 1111.0C211.9 1107.5 212.3 1105.5 213.4 1105.4C214.4 1105.2 215.6 1108.6 216.6 1110.3C217.5 1111.9 217.6 1112.1 218.4 1114.4C219.2 1116.7 220.0 1122.5 220.9 1122.8C221.7 1123.2 222.3 1118.7 223.1 1116.3C224.0 1113.8 224.9 1108.7 225.6 1109.7C226.3 1110.7 226.0 1115.2 226.9 1121.9C227.7 1128.5 229.0 1143.1 230.3 1145.9C231.5 1148.6 232.0 1140.1 233.4 1136.9C234.9 1133.7 236.6 1130.5 238.1 1128.4C239.7 1126.4 240.8 1124.9 241.9 1125.6C242.9 1126.3 243.0 1127.0 243.8 1132.2C244.5 1137.3 245.2 1148.3 246.0 1153.8C246.8 1159.3 247.1 1163.7 247.9 1162.2C248.7 1160.6 249.5 1146.9 250.3 1145.3C251.1 1143.8 251.5 1146.7 252.2 1153.8C252.9 1160.8 253.2 1174.3 254.1 1183.8C254.9 1193.2 255.8 1206.0 256.9 1205.3C257.9 1204.6 258.7 1192.9 259.7 1180.0C260.7 1167.1 261.3 1146.0 262.5 1135.0C263.7 1124.0 265.0 1124.4 266.3 1120.0C267.5 1115.6 268.0 1113.6 269.1 1111.0C270.1 1108.4 270.8 1107.2 271.9 1105.9C272.9 1104.7 273.3 1104.5 274.7 1104.1C276.1 1103.7 277.5 1103.7 279.4 1103.7C281.3 1103.7 283.7 1102.7 285.0 1104.1C286.3 1105.4 286.0 1103.6 286.5 1111.0C287.0 1118.4 287.1 1129.9 287.8 1144.4C288.5 1158.8 289.4 1189.8 290.3 1189.8C291.1 1189.8 291.8 1158.8 292.5 1144.4C293.2 1129.9 293.2 1118.2 294.0 1111.0C294.8 1103.9 295.6 1106.0 296.6 1105.4C297.7 1104.8 298.5 1107.7 299.6 1107.8C300.8 1107.9 301.4 1106.6 302.8 1105.9C304.3 1105.3 305.6 1104.7 307.5 1104.4C309.4 1104.2 311.1 1104.6 313.1 1104.4C315.2 1104.3 317.2 1104.8 318.8 1103.5C320.3 1102.2 320.7 1100.1 321.6 1097.5C322.4 1094.9 322.6 1091.7 323.4 1089.1C324.2 1086.4 325.0 1082.7 325.9 1082.9C326.7 1083.0 327.3 1086.8 328.1 1090.0C329.0 1093.2 329.5 1098.0 330.4 1100.3C331.2 1102.7 331.9 1103.1 332.8 1102.8C333.8 1102.4 334.6 1098.5 335.6 1098.4C336.7 1098.3 337.6 1100.5 338.4 1102.2C339.3 1103.9 339.5 1105.8 340.3 1107.8C341.1 1109.9 341.8 1113.2 342.8 1113.4C343.7 1113.7 344.4 1112.0 345.4 1109.1C346.3 1106.2 346.7 1102.2 347.8 1097.5C348.9 1092.8 350.0 1084.5 351.2 1083.4C352.4 1082.4 353.3 1089.0 354.4 1091.9C355.5 1094.8 356.2 1096.8 357.2 1099.4C358.2 1102.0 359.1 1103.8 360.0 1105.9C360.9 1108.1 361.1 1107.9 361.9 1111.0C362.6 1114.1 363.4 1120.0 364.1 1122.8C364.9 1125.6 365.2 1126.7 366.0 1126.2C366.8 1125.7 367.5 1122.8 368.4 1120.0C369.4 1117.2 370.4 1114.3 371.3 1111.0C372.1 1107.7 372.4 1105.4 373.1 1102.2C373.9 1099.0 374.6 1095.8 375.4 1093.8C376.1 1091.7 376.5 1090.6 377.3 1090.9C378.0 1091.3 378.9 1093.9 379.7 1095.6C380.5 1097.3 380.9 1100.3 381.6 1100.3C382.3 1100.3 382.8 1098.5 383.4 1095.6C384.1 1092.7 384.6 1088.0 385.3 1084.4C386.0 1080.8 386.4 1076.3 387.2 1075.9C388.0 1075.6 388.8 1078.9 389.6 1082.5C390.5 1086.1 390.9 1091.8 391.9 1095.6C392.8 1099.4 393.7 1101.5 394.7 1103.1C395.7 1104.8 396.5 1104.5 397.5 1104.6C398.5 1104.8 399.4 1106.1 400.3 1104.1C401.3 1102.1 401.9 1097.5 402.8 1093.8C403.6 1090.0 404.2 1086.0 405.0 1083.4C405.8 1080.9 406.1 1079.2 406.9 1079.7C407.6 1080.2 408.3 1082.5 409.1 1086.3C410.0 1090.0 410.8 1095.8 411.6 1100.3C412.4 1104.9 412.6 1107.0 413.4 1111.0C414.3 1115.0 415.2 1118.5 416.3 1121.9C417.3 1125.2 418.0 1127.5 419.1 1129.4C420.1 1131.3 420.7 1131.7 421.9 1132.2C423.1 1132.7 424.4 1131.7 425.6 1132.2C426.8 1132.7 427.5 1133.1 428.4 1135.0C429.4 1136.9 429.9 1140.5 430.7 1142.5C431.5 1144.5 432.0 1146.6 432.8 1145.9C433.5 1145.2 433.9 1142.8 434.6 1138.8C435.4 1134.7 436.1 1128.8 436.9 1123.8C437.7 1118.7 438.4 1113.8 439.1 1111.0C439.8 1108.2 439.9 1108.3 440.6 1108.4C441.3 1108.5 442.2 1108.4 442.9 1111.6C443.6 1114.7 443.8 1120.6 444.4 1125.6C445.0 1130.6 445.6 1135.4 446.3 1138.8C446.9 1142.1 447.1 1144.0 447.8 1144.0C448.4 1144.0 449.2 1140.2 450.0 1138.8C450.8 1137.3 451.4 1136.2 452.3 1135.9C453.1 1135.7 453.8 1137.4 454.7 1137.3C455.6 1137.1 456.3 1134.1 457.1 1135.4C458.0 1136.7 458.6 1141.4 459.4 1144.4C460.1 1147.3 460.6 1151.8 461.3 1151.5C461.9 1151.2 462.4 1145.9 463.1 1142.5C463.9 1139.1 464.6 1133.5 465.4 1133.1C466.1 1132.8 466.5 1137.9 467.3 1140.6C468.0 1143.4 468.7 1146.9 469.7 1148.1C470.7 1149.3 471.5 1148.0 472.5 1147.2C473.5 1146.3 474.4 1143.3 475.3 1143.4C476.3 1143.6 476.9 1146.4 477.8 1148.1C478.6 1149.8 478.9 1153.5 479.8 1152.8C480.6 1152.1 481.3 1148.0 482.2 1144.4C483.1 1140.8 483.8 1136.3 484.6 1133.1C485.5 1130.0 485.9 1127.9 486.9 1127.1C487.8 1126.4 488.7 1129.3 489.7 1129.0C490.7 1128.7 491.5 1127.6 492.5 1125.6C493.5 1123.6 494.4 1120.2 495.3 1118.1C496.3 1116.1 496.8 1114.4 497.8 1114.4C498.7 1114.4 499.3 1116.6 500.4 1118.1C501.4 1119.7 502.4 1119.7 503.4 1122.8C504.3 1125.9 504.7 1130.5 505.6 1135.0C506.6 1139.5 507.4 1145.3 508.4 1147.2C509.5 1149.1 510.0 1146.2 511.3 1145.3C512.5 1144.5 513.8 1144.4 515.0 1142.5C516.2 1140.6 516.9 1138.4 517.8 1135.0C518.8 1131.6 519.4 1127.4 520.3 1123.8C521.1 1120.1 521.6 1117.0 522.5 1115.3C523.4 1113.7 524.3 1115.2 525.3 1114.8C526.3 1114.3 527.2 1112.5 528.1 1113.1C529.1 1113.6 529.5 1117.3 530.4 1117.8C531.2 1118.2 531.8 1116.6 532.8 1115.3C533.8 1114.1 534.8 1112.1 536.0 1111.0C537.2 1109.9 537.9 1110.2 539.4 1109.1C540.9 1108.0 542.0 1105.9 544.1 1105.0C546.1 1104.1 548.4 1104.6 550.6 1104.4C552.9 1104.3 554.4 1104.7 556.3 1104.1C558.1 1103.4 559.6 1101.2 560.9 1100.9C562.3 1100.5 562.7 1103.3 563.8 1102.2C564.8 1101.1 565.7 1096.6 566.6 1094.7C567.4 1092.7 567.6 1091.3 568.4 1091.5C569.2 1091.7 570.1 1093.9 570.9 1095.6C571.7 1097.3 572.0 1099.8 572.8 1100.9C573.5 1102.0 574.1 1102.8 575.0 1101.6C575.9 1100.5 576.6 1097.9 577.8 1094.7C579.0 1091.5 580.3 1087.0 581.6 1084.4C582.8 1081.7 583.7 1080.4 584.8 1080.3C585.8 1080.1 586.4 1081.0 587.2 1083.4C588.0 1085.9 588.3 1090.7 589.1 1093.8C589.9 1096.8 590.3 1098.5 591.5 1100.3C592.7 1102.1 593.8 1102.8 595.6 1103.5C597.4 1104.2 598.2 1104.1 601.3 1104.3C604.3 1104.4 608.4 1104.3 612.5 1104.3C616.6 1104.3 620.7 1104.2 623.8 1104.3C626.8 1104.3 627.5 1104.0 629.4 1104.6C631.3 1105.3 632.5 1106.7 634.1 1107.8C635.6 1108.9 636.4 1108.7 637.8 1110.6C639.2 1112.5 640.2 1118.0 641.6 1118.1C642.9 1118.3 644.1 1113.8 645.3 1111.6C646.5 1109.3 646.8 1107.3 648.1 1105.9C649.5 1104.6 650.8 1104.6 652.8 1104.3C654.9 1103.9 657.5 1103.9 659.4 1104.3C661.3 1104.6 661.6 1104.6 663.1 1105.9C664.7 1107.3 666.3 1111.4 667.8 1111.6C669.4 1111.7 670.0 1108.2 671.6 1106.9C673.1 1105.6 674.0 1104.9 676.3 1104.4C678.5 1104.0 681.0 1104.3 683.8 1104.3C686.5 1104.2 689.0 1103.6 691.3 1104.3C693.5 1104.9 694.6 1107.1 695.9 1107.8C697.3 1108.6 697.5 1108.5 698.8 1108.4C700.0 1108.2 701.1 1105.8 702.5 1106.9C703.9 1107.9 705.1 1113.2 706.6 1114.0C708.2 1114.8 709.5 1112.4 710.9 1111.0C712.4 1109.6 713.5 1107.0 714.7 1106.5C715.9 1106.0 716.5 1108.3 717.5 1108.4C718.5 1108.4 719.2 1106.4 720.3 1106.9C721.4 1107.4 722.3 1109.1 723.5 1111.0C724.7 1112.9 725.4 1115.5 726.9 1117.2C728.4 1118.8 730.2 1117.8 731.6 1120.0C732.9 1122.2 733.4 1126.1 734.4 1129.4C735.3 1132.6 735.6 1137.5 736.6 1137.8C737.7 1138.2 738.7 1134.5 740.0 1131.3C741.3 1128.0 742.4 1124.0 743.8 1120.0C745.1 1116.0 746.1 1111.7 747.1 1109.7C748.2 1107.7 748.3 1108.5 749.4 1109.1C750.4 1109.7 751.5 1113.1 752.8 1113.1C754.0 1113.1 754.8 1110.6 755.9 1109.1C757.0 1107.6 757.2 1105.8 758.8 1105.0C760.3 1104.2 762.3 1104.5 764.4 1104.6C766.4 1104.8 768.2 1104.4 770.0 1105.9C771.8 1107.5 772.8 1112.0 774.1 1112.9C775.5 1113.7 776.4 1111.6 777.5 1110.6C778.6 1109.7 778.6 1108.3 780.3 1107.8C782.0 1107.3 785.0 1107.0 786.9 1107.8C788.8 1108.7 789.4 1111.0 790.6 1112.5C791.8 1114.0 792.2 1116.3 793.4 1116.3C794.6 1116.3 795.8 1113.8 797.2 1112.5C798.6 1111.2 799.6 1109.7 800.9 1109.1C802.3 1108.5 803.3 1109.9 804.7 1109.1C806.1 1108.4 806.9 1105.7 808.4 1105.0C810.0 1104.3 811.4 1105.7 813.1 1105.6C814.8 1105.5 815.4 1104.7 817.8 1104.4C820.2 1104.2 823.2 1104.2 826.3 1104.3C829.3 1104.3 832.6 1103.1 834.7 1104.6C836.8 1106.1 836.6 1109.8 837.5 1112.5C838.4 1115.3 838.8 1118.3 839.8 1119.6C840.7 1121.0 841.8 1118.7 842.8 1120.0C843.7 1121.3 844.2 1124.7 845.0 1126.6C845.8 1128.5 846.3 1131.2 847.3 1130.3C848.2 1129.5 849.1 1125.4 850.3 1121.9C851.4 1118.3 852.2 1113.6 853.4 1111.0C854.7 1108.4 855.5 1108.6 857.2 1107.8C858.9 1107.1 860.8 1107.4 862.8 1106.9C864.9 1106.4 866.5 1105.2 868.4 1105.0C870.3 1104.8 871.2 1105.5 873.1 1105.6C875.0 1105.7 876.5 1105.8 878.8 1105.6C881.0 1105.4 882.6 1104.6 885.3 1104.4C888.1 1104.2 890.8 1104.4 893.8 1104.4C896.7 1104.4 898.2 1104.5 901.3 1104.4C904.3 1104.4 907.7 1104.0 910.6 1104.1C913.5 1104.1 915.0 1103.8 917.2 1104.6C919.4 1105.4 920.8 1108.3 922.8 1108.4C924.9 1108.4 926.5 1105.2 928.4 1105.0C930.3 1104.8 931.2 1107.3 933.1 1107.3C935.0 1107.3 936.7 1105.5 938.8 1105.0C940.8 1104.5 942.8 1104.7 944.4 1104.6C946.0 1104.6 944.9 1104.7 947.5 1104.6C950.1 1104.6 956.2 1103.7 958.8 1104.4C961.3 1105.2 960.6 1106.9 961.6 1108.8C962.5 1110.6 963.1 1114.3 964.0 1114.4C964.9 1114.4 965.7 1110.8 966.6 1109.1C967.6 1107.4 967.8 1105.9 969.1 1105.0C970.4 1104.1 972.0 1104.9 973.8 1104.1C975.5 1103.2 976.9 1101.3 978.4 1100.3C980.0 1099.3 981.0 1099.6 982.2 1098.4C983.4 1097.3 984.1 1095.1 985.0 1094.1C985.9 1093.2 986.3 1092.9 987.3 1093.4C988.2 1093.8 989.1 1094.8 990.3 1096.6C991.4 1098.3 992.3 1101.6 993.4 1102.8C994.5 1103.9 995.0 1103.5 996.3 1102.8C997.5 1102.0 998.8 1099.9 1000.0 1098.4C1001.2 1097.0 1001.9 1095.0 1002.8 1094.7C1003.8 1094.3 1004.4 1094.8 1005.3 1096.6C1006.1 1098.3 1006.6 1102.3 1007.5 1104.1C1008.4 1105.8 1009.3 1105.8 1010.3 1105.9C1011.3 1106.1 1011.9 1105.0 1013.1 1105.0C1014.3 1105.0 1015.5 1106.0 1016.9 1105.9C1018.3 1105.9 1019.4 1104.4 1020.6 1104.6C1021.8 1104.9 1022.2 1106.2 1023.4 1107.3C1024.6 1108.4 1025.8 1110.2 1027.2 1110.6C1028.6 1111.1 1029.9 1109.5 1030.9 1109.7C1032.0 1109.9 1032.1 1109.5 1032.8 1111.6C1033.5 1113.6 1034.0 1118.5 1034.7 1120.9C1035.4 1123.3 1035.7 1124.2 1036.6 1124.7C1037.4 1125.2 1038.2 1122.9 1039.4 1123.8C1040.6 1124.6 1041.9 1128.9 1043.1 1129.4C1044.3 1129.9 1044.9 1128.3 1045.9 1126.6C1047.0 1124.8 1047.5 1122.1 1048.8 1120.0C1050.0 1117.9 1051.1 1116.7 1052.5 1115.3C1053.9 1113.9 1055.0 1112.2 1056.3 1112.5C1057.5 1112.8 1058.0 1117.0 1059.1 1117.2C1060.1 1117.4 1061.0 1114.9 1061.9 1113.4C1062.7 1112.0 1063.1 1109.0 1063.8 1109.1C1064.4 1109.3 1064.8 1111.7 1065.6 1114.4C1066.4 1117.1 1067.2 1122.7 1068.1 1123.8C1068.9 1124.8 1069.5 1122.2 1070.3 1120.0C1071.2 1117.8 1071.7 1113.8 1072.8 1111.6C1073.8 1109.3 1074.8 1108.7 1075.9 1107.8C1077.0 1106.9 1077.5 1106.5 1078.8 1106.5C1080.0 1106.5 1081.1 1108.2 1082.5 1107.8C1083.9 1107.5 1084.9 1105.1 1086.3 1104.6C1087.6 1104.1 1088.6 1104.4 1090.0 1105.0C1091.4 1105.6 1092.4 1107.5 1093.8 1107.8C1095.1 1108.2 1095.8 1107.5 1097.1 1106.9C1098.5 1106.3 1099.1 1104.9 1101.3 1104.4C1103.4 1104.0 1106.0 1104.1 1108.8 1104.3C1111.5 1104.4 1113.8 1105.0 1116.3 1105.0C1118.7 1105.0 1120.2 1104.3 1121.9 1104.4C1123.6 1104.6 1124.3 1105.0 1125.6 1105.9C1127.0 1106.9 1128.3 1108.8 1129.4 1109.7C1130.5 1110.6 1130.8 1111.5 1131.6 1111.0C1132.5 1110.5 1133.2 1108.0 1134.1 1106.9C1135.0 1105.8 1135.6 1104.7 1136.5 1105.0C1137.4 1105.3 1137.8 1106.8 1138.8 1108.4C1139.7 1109.9 1140.5 1111.5 1141.6 1113.4C1142.6 1115.4 1143.4 1117.7 1144.4 1119.1C1145.3 1120.4 1145.9 1121.1 1146.8 1120.9C1147.8 1120.8 1148.5 1119.7 1149.6 1118.1C1150.7 1116.5 1151.9 1113.6 1152.8 1112.1C1153.7 1110.7 1153.9 1110.4 1154.7 1110.3C1155.5 1110.1 1156.1 1112.2 1157.1 1111.6C1158.2 1110.9 1159.0 1107.8 1160.3 1106.9C1161.6 1105.9 1162.7 1106.6 1164.1 1106.5C1165.4 1106.4 1166.3 1106.3 1167.8 1106.5C1169.4 1106.7 1170.8 1108.0 1172.5 1107.8C1174.2 1107.6 1175.6 1106.0 1177.2 1105.4C1178.7 1104.8 1179.6 1104.6 1180.9 1104.6C1182.3 1104.6 1183.3 1105.4 1184.7 1105.4C1186.1 1105.4 1187.1 1104.4 1188.4 1104.6C1189.8 1104.8 1190.6 1105.7 1192.2 1106.5C1193.7 1107.3 1195.3 1108.2 1196.9 1109.1C1198.4 1110.1 1199.4 1111.4 1200.6 1111.6C1201.8 1111.8 1202.4 1110.9 1203.4 1110.3C1204.5 1109.6 1205.2 1108.4 1206.3 1107.8C1207.3 1107.3 1207.9 1107.0 1209.1 1107.3C1210.3 1107.5 1211.8 1108.2 1212.8 1109.1C1213.8 1110.1 1213.9 1110.5 1214.7 1112.5C1215.5 1114.5 1216.1 1117.9 1217.1 1120.0C1218.2 1122.1 1219.2 1123.8 1220.3 1123.8C1221.4 1123.8 1221.9 1121.4 1223.1 1120.0C1224.3 1118.6 1225.5 1117.1 1226.9 1116.3C1228.3 1115.4 1229.3 1115.6 1230.6 1115.3C1232.0 1115.0 1233.1 1115.5 1234.4 1114.8C1235.7 1114.0 1236.5 1112.5 1237.8 1111.0C1239.0 1109.5 1239.7 1107.7 1240.9 1106.5C1242.2 1105.3 1242.8 1105.0 1244.7 1104.6C1246.6 1104.3 1249.2 1104.5 1251.3 1104.6C1253.3 1104.8 1254.2 1104.3 1255.9 1105.4C1257.7 1106.5 1259.3 1110.3 1260.6 1110.6C1262.0 1111.0 1262.2 1108.3 1263.4 1107.3C1264.6 1106.2 1265.6 1104.9 1267.2 1105.0C1268.7 1105.1 1270.3 1107.6 1271.9 1107.8C1273.4 1108.0 1274.3 1106.5 1275.6 1105.9C1276.9 1105.4 1277.6 1104.5 1279.0 1104.6C1280.4 1104.7 1281.5 1106.3 1283.1 1106.5C1284.7 1106.7 1286.1 1105.5 1287.8 1105.9C1289.5 1106.4 1290.8 1108.4 1292.5 1109.1C1294.2 1109.8 1295.5 1109.7 1297.2 1109.7C1298.9 1109.7 1300.5 1108.9 1301.9 1109.1C1303.3 1109.4 1303.5 1109.1 1304.7 1111.0C1305.9 1112.9 1307.1 1119.4 1308.4 1119.6C1309.8 1119.8 1311.2 1113.7 1312.2 1112.1C1313.2 1110.5 1313.4 1110.2 1314.1 1111.0C1314.8 1111.8 1315.1 1114.4 1315.9 1116.3C1316.8 1118.1 1317.7 1120.6 1318.8 1120.9C1319.8 1121.3 1320.4 1119.7 1321.6 1118.1C1322.8 1116.6 1323.9 1113.9 1325.3 1112.5C1326.7 1111.1 1327.7 1111.6 1329.1 1110.6C1330.4 1109.7 1331.6 1107.7 1332.8 1107.3C1334.0 1106.8 1334.6 1107.4 1335.6 1108.4C1336.7 1109.3 1337.1 1112.2 1338.4 1112.5C1339.8 1112.8 1341.8 1109.6 1343.1 1110.3C1344.5 1110.9 1345.0 1112.9 1345.9 1116.3C1346.9 1119.6 1347.5 1125.0 1348.4 1128.4C1349.2 1131.9 1349.7 1135.2 1350.6 1135.0C1351.6 1134.8 1352.6 1129.2 1353.4 1127.5C1354.3 1125.8 1354.5 1124.8 1355.3 1125.6C1356.1 1126.5 1356.9 1127.4 1357.8 1132.2C1358.6 1137.0 1359.1 1141.7 1360.0 1151.9C1360.9 1162.0 1361.8 1175.1 1362.8 1187.5C1363.8 1199.9 1364.6 1210.6 1365.6 1219.4C1366.7 1228.1 1367.5 1231.7 1368.4 1235.3C1369.4 1238.9 1369.8 1240.3 1370.7 1239.1C1371.5 1237.9 1372.3 1237.5 1373.1 1228.8C1374.0 1220.0 1374.5 1206.7 1375.4 1191.3C1376.2 1175.8 1377.0 1156.6 1377.8 1144.4C1378.6 1132.2 1379.0 1126.8 1379.7 1124.7C1380.4 1122.6 1380.9 1132.4 1381.6 1133.1C1382.3 1133.8 1382.8 1130.8 1383.4 1128.4C1384.1 1126.0 1384.6 1120.2 1385.3 1120.0C1386.0 1119.8 1386.4 1121.4 1387.2 1127.5C1388.0 1133.6 1388.8 1150.3 1389.6 1153.4C1390.5 1156.5 1390.9 1148.8 1391.9 1144.4C1392.8 1140.0 1393.7 1134.0 1394.7 1129.4C1395.7 1124.7 1396.6 1120.4 1397.5 1119.1C1398.4 1117.7 1398.7 1118.3 1399.4 1121.9C1400.1 1125.5 1400.5 1132.8 1401.3 1138.8C1402.0 1144.7 1402.8 1153.8 1403.7 1154.1C1404.5 1154.5 1405.1 1145.0 1405.9 1140.6C1406.8 1136.3 1407.5 1132.1 1408.4 1130.3C1409.2 1128.5 1409.7 1132.1 1410.6 1130.9C1411.6 1129.7 1412.4 1127.3 1413.4 1123.8C1414.5 1120.2 1415.5 1114.4 1416.3 1111.6C1417.0 1108.7 1417.1 1107.4 1417.6 1108.4C1418.1 1109.3 1418.3 1112.2 1419.0 1116.9C1419.7 1121.5 1420.4 1129.9 1421.3 1133.8C1422.1 1137.6 1422.5 1136.9 1423.5 1137.9C1424.5 1138.8 1425.7 1140.4 1426.9 1139.0C1428.0 1137.6 1428.7 1132.5 1429.7 1130.0C1430.7 1127.5 1431.3 1124.6 1432.1 1125.3C1433.0 1126.0 1433.4 1128.4 1434.4 1133.8C1435.3 1139.1 1436.3 1148.9 1437.2 1154.4C1438.0 1159.9 1438.3 1163.9 1439.1 1163.8C1439.9 1163.6 1440.7 1154.1 1441.5 1153.4C1442.3 1152.8 1442.6 1149.9 1443.4 1160.0C1444.1 1170.1 1444.7 1192.3 1445.6 1208.8C1446.6 1225.3 1447.6 1241.4 1448.4 1250.0C1449.3 1258.6 1449.6 1256.0 1450.3 1255.6C1451.0 1255.3 1451.3 1258.4 1452.2 1248.1C1453.0 1237.8 1454.0 1214.8 1455.0 1199.4C1456.0 1183.9 1456.8 1170.6 1457.8 1163.8C1458.8 1156.9 1459.4 1163.9 1460.6 1161.9C1461.8 1159.8 1463.0 1157.0 1464.4 1152.5C1465.8 1148.0 1466.9 1141.7 1468.1 1137.5C1469.3 1133.3 1469.9 1128.3 1470.9 1129.6C1472.0 1131.0 1472.7 1139.4 1473.8 1145.0C1474.8 1150.6 1475.7 1160.0 1476.6 1160.0C1477.4 1160.0 1477.8 1153.3 1478.4 1145.0C1479.1 1136.8 1479.7 1122.0 1480.3 1115.0C1480.9 1108.0 1480.9 1107.1 1481.6 1106.6C1482.3 1106.0 1483.2 1107.9 1484.1 1112.2C1485.0 1116.5 1485.5 1123.1 1486.5 1130.0C1487.5 1136.9 1488.4 1146.2 1489.7 1149.7C1491.0 1153.2 1491.9 1149.4 1493.4 1149.1C1495.0 1148.9 1496.8 1150.5 1498.1 1148.4C1499.5 1146.2 1500.0 1141.6 1500.9 1137.5C1501.9 1133.4 1502.3 1127.3 1503.4 1125.9C1504.4 1124.4 1505.5 1129.5 1506.6 1129.6C1507.6 1129.8 1508.1 1123.8 1509.0 1126.6C1509.9 1129.4 1510.3 1137.2 1511.3 1145.0C1512.2 1152.8 1513.0 1163.0 1514.1 1169.4C1515.1 1175.7 1515.8 1177.7 1516.9 1179.7C1517.9 1181.7 1518.7 1181.8 1519.7 1180.3C1520.7 1178.7 1521.3 1177.0 1522.5 1171.3C1523.7 1165.5 1524.9 1156.0 1526.3 1148.8C1527.6 1141.5 1528.9 1135.4 1530.0 1131.9C1531.1 1128.4 1531.4 1128.6 1532.3 1129.6C1533.1 1130.7 1533.7 1133.5 1534.7 1137.5C1535.7 1141.5 1536.5 1147.9 1537.5 1151.6C1538.5 1155.3 1539.3 1157.6 1540.3 1157.8C1541.3 1157.9 1542.1 1155.5 1543.1 1152.5C1544.2 1149.5 1544.9 1143.7 1545.9 1141.3C1547.0 1138.8 1547.7 1138.7 1548.8 1139.0C1549.8 1139.3 1550.6 1142.0 1551.6 1143.1C1552.5 1144.2 1553.0 1145.4 1554.0 1145.0C1555.0 1144.6 1556.1 1141.2 1557.2 1140.9C1558.3 1140.5 1558.9 1144.1 1560.0 1143.1C1561.1 1142.2 1562.2 1137.7 1563.4 1135.6C1564.6 1133.6 1565.1 1131.5 1566.6 1131.9C1568.0 1132.3 1569.7 1137.9 1571.3 1137.9C1572.8 1137.9 1573.6 1133.9 1575.0 1131.9C1576.4 1129.8 1577.5 1127.6 1578.8 1126.6C1580.0 1125.7 1580.6 1128.1 1581.6 1126.6C1582.5 1125.2 1583.2 1120.6 1584.0 1118.8C1584.8 1116.9 1585.0 1115.5 1585.7 1116.5C1586.4 1117.5 1587.0 1121.8 1587.8 1124.4C1588.5 1126.9 1589.1 1129.5 1590.0 1130.4C1590.9 1131.2 1591.8 1129.1 1592.8 1129.1C1593.8 1129.1 1594.6 1130.9 1595.6 1130.4C1596.7 1129.9 1597.4 1127.5 1598.4 1126.3C1599.5 1125.0 1600.2 1125.3 1601.3 1123.4C1602.3 1121.5 1603.2 1118.9 1604.1 1115.9C1604.9 1113.0 1605.1 1109.6 1605.9 1107.5C1606.8 1105.4 1607.5 1105.1 1608.8 1104.7C1610.0 1104.3 1611.5 1103.4 1612.5 1105.3C1613.5 1107.1 1613.7 1111.3 1614.4 1115.0C1615.1 1118.7 1615.5 1125.0 1616.3 1125.3C1617.0 1125.7 1617.6 1120.3 1618.5 1116.9C1619.4 1113.4 1620.0 1108.8 1620.9 1106.6C1621.9 1104.3 1622.4 1104.8 1623.8 1104.7C1625.1 1104.6 1626.9 1106.0 1628.4 1106.0C1630.0 1106.0 1630.3 1105.0 1632.2 1104.7C1634.1 1104.4 1636.5 1104.4 1638.8 1104.3C1641.0 1104.2 1642.8 1105.8 1644.4 1104.1C1645.9 1102.5 1646.2 1098.0 1647.2 1095.3C1648.2 1092.7 1648.8 1089.7 1649.6 1089.7C1650.5 1089.7 1651.1 1092.8 1651.9 1095.3C1652.7 1097.8 1652.9 1101.8 1654.1 1103.4C1655.3 1105.0 1656.6 1104.5 1658.4 1104.1C1660.3 1103.8 1662.0 1101.6 1664.1 1101.5C1666.1 1101.4 1667.8 1104.0 1669.7 1103.8C1671.6 1103.5 1672.8 1100.3 1674.4 1100.0C1675.9 1099.7 1676.8 1102.7 1678.1 1102.3C1679.4 1101.8 1680.4 1098.2 1681.5 1097.8C1682.6 1097.3 1683.0 1098.8 1684.1 1100.0C1685.2 1101.2 1686.0 1103.4 1687.5 1104.1C1689.0 1104.9 1690.8 1105.4 1692.2 1104.1C1693.6 1102.9 1694.0 1100.5 1695.0 1097.2C1696.0 1093.9 1696.9 1088.9 1697.8 1085.9C1698.8 1083.0 1699.2 1081.8 1700.3 1081.3C1701.3 1080.7 1702.2 1083.0 1703.4 1083.1C1704.7 1083.3 1706.0 1082.3 1707.2 1082.2C1708.4 1082.1 1708.9 1083.4 1710.0 1082.8C1711.1 1082.1 1712.3 1078.5 1713.4 1078.4C1714.5 1078.3 1715.0 1079.6 1716.0 1082.2C1717.0 1084.8 1717.9 1089.2 1719.0 1092.5C1720.1 1095.8 1721.1 1098.4 1722.2 1100.0C1723.3 1101.7 1723.8 1102.2 1725.0 1101.5C1726.2 1100.8 1727.4 1097.9 1728.8 1096.3C1730.1 1094.6 1731.0 1093.0 1732.1 1092.5C1733.2 1092.0 1733.7 1094.3 1734.8 1093.4C1735.8 1092.6 1736.7 1089.4 1737.8 1087.8C1738.8 1086.3 1739.3 1084.8 1740.4 1085.0C1741.4 1085.2 1742.2 1087.2 1743.4 1089.1C1744.5 1091.0 1745.4 1095.0 1746.6 1095.3C1747.7 1095.7 1748.6 1091.2 1749.8 1091.0C1750.9 1090.8 1751.6 1093.3 1752.8 1094.4C1753.9 1095.4 1754.7 1095.9 1755.9 1096.6C1757.2 1097.4 1758.2 1097.5 1759.7 1098.5C1761.2 1099.5 1762.8 1102.5 1764.0 1102.3C1765.2 1102.0 1765.4 1100.4 1766.3 1097.2C1767.1 1094.0 1767.6 1088.3 1768.5 1085.0C1769.4 1081.7 1770.1 1079.0 1770.9 1079.4C1771.7 1079.7 1772.0 1083.9 1772.8 1086.9C1773.6 1089.9 1774.3 1095.5 1775.3 1095.9C1776.2 1096.3 1776.8 1093.2 1777.9 1089.1C1779.0 1085.1 1780.2 1078.6 1781.3 1073.8C1782.3 1068.9 1782.8 1065.0 1783.5 1062.5C1784.2 1060.0 1784.3 1059.7 1785.0 1060.3C1785.7 1060.8 1786.4 1062.0 1787.3 1065.3C1788.1 1068.6 1788.7 1073.5 1789.7 1078.4C1790.7 1083.4 1791.5 1088.6 1792.5 1092.5C1793.5 1096.4 1794.3 1098.0 1795.3 1099.6C1796.3 1101.3 1797.1 1101.8 1798.1 1101.5C1799.2 1101.2 1799.9 1100.2 1800.9 1098.1C1802.0 1096.1 1802.7 1092.7 1803.8 1090.3C1804.8 1087.8 1805.5 1084.6 1806.6 1084.6C1807.6 1084.6 1808.3 1087.9 1809.4 1090.3C1810.4 1092.6 1811.0 1094.9 1812.2 1097.2C1813.4 1099.5 1814.6 1101.3 1815.9 1102.8C1817.3 1104.4 1818.5 1104.9 1819.7 1105.6C1820.9 1106.3 1821.1 1106.7 1822.5 1106.6C1823.9 1106.4 1825.6 1105.2 1827.2 1104.7C1828.7 1104.2 1829.7 1104.0 1830.9 1103.8C1832.2 1103.5 1833.1 1104.9 1834.1 1103.4C1835.2 1101.8 1835.6 1099.5 1836.6 1095.3C1837.5 1091.1 1838.3 1084.5 1839.4 1080.3C1840.4 1076.1 1841.2 1072.3 1842.2 1072.3C1843.2 1072.3 1843.8 1077.6 1844.6 1080.3C1845.5 1083.1 1845.9 1086.8 1846.9 1087.3C1847.8 1087.7 1848.7 1084.1 1849.7 1082.8C1850.7 1081.4 1851.6 1081.7 1852.5 1079.8C1853.4 1077.8 1854.0 1074.0 1854.8 1072.3C1855.5 1070.5 1856.0 1069.6 1856.8 1070.4C1857.6 1071.2 1858.1 1072.7 1859.1 1076.6C1860.0 1080.4 1860.8 1086.8 1861.9 1091.6C1862.9 1096.4 1863.7 1100.5 1864.7 1102.8C1865.7 1105.1 1865.8 1104.0 1867.5 1104.1C1869.2 1104.3 1872.2 1104.7 1874.1 1103.8C1876.0 1102.8 1876.4 1102.0 1877.8 1099.1C1879.2 1096.1 1880.2 1091.6 1881.6 1087.8C1882.9 1084.0 1884.1 1080.8 1885.3 1078.4C1886.5 1076.0 1887.4 1075.5 1888.1 1074.7C1888.8 1073.9 1888.3 1073.0 1889.2 1073.9C1890.1 1074.8 1891.8 1077.0 1893.1 1079.4C1894.4 1081.8 1895.2 1084.6 1896.4 1087.0C1897.6 1089.4 1898.5 1091.3 1899.7 1092.5C1900.9 1093.7 1901.8 1092.7 1903.0 1093.6C1904.2 1094.5 1904.9 1096.0 1906.3 1097.3C1907.6 1098.6 1908.9 1100.4 1910.2 1100.8C1911.5 1101.2 1912.2 1099.2 1913.3 1099.5C1914.3 1099.8 1915.0 1101.5 1916.1 1102.3C1917.2 1103.2 1917.2 1103.8 1919.4 1104.1C1921.6 1104.4 1924.5 1103.9 1928.1 1103.9C1931.7 1103.8 1935.5 1103.9 1939.1 1103.9C1942.7 1103.9 1945.7 1105.1 1947.8 1103.9C1949.9 1102.7 1949.4 1099.5 1950.4 1097.3C1951.4 1095.1 1952.4 1092.1 1953.3 1092.1C1954.2 1092.1 1954.7 1095.4 1955.5 1097.3C1956.3 1099.2 1956.6 1101.6 1957.7 1102.3C1958.7 1103.1 1959.8 1101.3 1961.4 1101.3C1963.0 1101.3 1964.7 1101.9 1966.4 1102.3C1968.1 1102.8 1969.2 1103.1 1970.8 1103.9C1972.4 1104.7 1973.8 1105.9 1975.2 1106.7C1976.6 1107.5 1977.2 1108.5 1978.4 1108.3C1979.6 1108.0 1980.5 1106.5 1981.7 1105.6C1982.9 1104.7 1983.9 1105.4 1985.0 1103.4C1986.1 1101.4 1986.7 1099.9 1987.6 1094.7C1988.5 1089.5 1989.1 1080.8 1990.0 1075.0C1991.0 1069.2 1991.8 1063.4 1992.7 1063.0C1993.5 1062.6 1994.0 1068.4 1994.8 1072.8C1995.6 1077.2 1996.2 1083.5 1997.0 1087.0C1997.8 1090.6 1998.3 1091.7 1999.2 1092.1C2000.1 1092.5 2001.1 1090.0 2002.1 1089.2C2003.1 1088.4 2003.6 1087.4 2004.7 1087.7C2005.8 1088.0 2006.8 1089.0 2008.0 1090.8C2009.2 1092.5 2010.0 1095.0 2011.3 1097.3C2012.5 1099.6 2012.9 1102.2 2014.5 1103.4C2016.1 1104.7 2017.4 1104.0 2020.0 1104.1C2022.6 1104.2 2025.5 1103.9 2028.8 1103.9C2032.0 1103.8 2034.7 1103.9 2037.5 1103.9C2040.3 1103.9 2042.3 1103.6 2044.1 1103.9C2045.9 1104.1 2046.1 1105.1 2047.3 1105.2C2048.6 1105.2 2050.1 1103.2 2051.1 1104.1C2052.1 1105.0 2052.2 1104.5 2052.8 1110.0C2053.5 1115.5 2053.8 1131.5 2054.6 1134.1C2055.3 1136.7 2055.9 1128.6 2056.8 1124.2C2057.6 1119.8 2058.3 1113.4 2058.9 1110.0C2059.6 1106.6 2059.6 1105.7 2060.5 1105.6C2061.4 1105.5 2062.4 1108.4 2063.8 1109.6C2065.1 1110.7 2066.3 1111.5 2067.7 1111.8C2069.1 1112.0 2070.1 1111.8 2071.4 1111.1C2072.7 1110.4 2073.4 1109.1 2074.7 1107.8C2076.0 1106.5 2077.4 1104.1 2078.6 1104.1C2079.8 1104.1 2080.3 1105.9 2081.3 1107.8C2082.2 1109.7 2082.9 1114.2 2083.9 1114.4C2084.9 1114.6 2085.6 1109.5 2086.7 1108.9C2087.8 1108.3 2088.8 1110.0 2090.0 1111.1C2091.2 1112.2 2092.1 1114.6 2093.3 1114.8C2094.5 1115.0 2095.2 1113.6 2096.6 1112.2C2098.0 1110.8 2099.7 1107.6 2100.9 1107.4C2102.1 1107.2 2102.4 1108.8 2103.1 1111.1C2103.8 1113.4 2104.1 1119.2 2104.9 1119.8C2105.7 1120.4 2106.6 1116.8 2107.5 1114.4C2108.4 1112.0 2108.9 1108.5 2109.7 1106.7C2110.5 1104.9 2111.0 1104.1 2111.9 1104.5C2112.8 1104.9 2113.5 1107.4 2114.5 1108.9C2115.5 1110.4 2116.2 1112.5 2117.3 1112.6C2118.5 1112.7 2119.4 1110.2 2120.6 1109.6C2121.8 1108.9 2122.6 1109.2 2123.9 1108.9C2125.2 1108.6 2126.4 1107.6 2127.6 1107.8C2128.8 1108.0 2129.3 1108.6 2130.5 1110.0C2131.6 1111.4 2132.3 1114.1 2133.8 1115.5C2135.2 1116.9 2136.7 1117.0 2138.1 1117.7C2139.5 1118.3 2140.0 1119.6 2141.4 1119.2C2142.8 1118.8 2144.2 1116.3 2145.8 1115.5C2147.4 1114.7 2148.8 1114.2 2150.2 1114.8C2151.5 1115.4 2152.2 1116.6 2153.0 1118.8C2153.8 1120.9 2153.7 1127.0 2154.5 1126.4C2155.3 1125.8 2156.5 1118.5 2157.4 1115.5C2158.3 1112.5 2158.9 1107.2 2159.6 1110.0C2160.2 1112.8 2160.4 1128.6 2161.1 1130.8C2161.8 1133.0 2162.3 1126.0 2163.3 1122.0C2164.3 1118.0 2165.5 1111.8 2166.6 1108.9C2167.6 1106.0 2168.2 1106.1 2169.2 1106.1C2170.2 1106.1 2170.9 1108.1 2172.0 1108.9C2173.2 1109.7 2174.2 1109.8 2175.3 1110.4C2176.4 1111.0 2177.1 1109.1 2177.9 1112.2C2178.7 1115.3 2179.0 1121.5 2179.7 1127.5C2180.4 1133.5 2181.1 1142.5 2181.9 1145.0C2182.7 1147.5 2183.3 1140.7 2184.1 1141.1C2184.9 1141.5 2185.4 1145.1 2186.3 1147.2C2187.1 1149.3 2187.6 1153.5 2188.4 1152.7C2189.3 1151.9 2190.1 1147.8 2191.1 1142.8C2192.1 1137.8 2192.9 1131.3 2193.9 1125.3C2195.0 1119.3 2195.7 1113.4 2196.8 1110.0C2197.8 1106.6 2198.4 1106.8 2199.4 1106.7C2200.3 1106.6 2201.0 1108.0 2202.0 1109.6C2203.0 1111.2 2203.9 1114.2 2204.8 1115.5C2205.8 1116.8 2206.1 1117.0 2207.0 1116.6C2208.0 1116.2 2208.9 1115.0 2209.9 1113.3C2210.9 1111.6 2211.4 1108.9 2212.5 1107.4C2213.6 1105.9 2214.6 1105.3 2215.8 1105.0C2217.0 1104.6 2218.0 1104.7 2219.1 1105.6C2220.1 1106.5 2220.8 1107.4 2221.7 1110.0C2222.6 1112.6 2223.1 1117.0 2223.9 1119.8C2224.7 1122.7 2225.3 1126.2 2226.1 1125.8C2226.9 1125.3 2227.5 1121.1 2228.3 1117.7C2229.1 1114.2 2229.6 1109.0 2230.4 1106.7C2231.2 1104.4 2231.7 1104.8 2232.6 1105.0C2233.5 1105.2 2234.3 1106.3 2235.5 1107.8C2236.6 1109.3 2237.3 1112.0 2238.8 1113.3C2240.2 1114.6 2241.7 1115.2 2243.1 1114.8C2244.5 1114.4 2245.2 1112.9 2246.4 1111.1C2247.6 1109.3 2248.3 1106.3 2249.7 1105.0C2251.1 1103.7 2252.7 1104.8 2254.1 1104.1C2255.5 1103.4 2256.1 1102.1 2257.3 1101.3C2258.6 1100.4 2259.9 1099.5 2261.1 1099.5C2262.3 1099.5 2262.9 1100.4 2263.9 1101.3C2265.0 1102.1 2265.7 1104.3 2266.8 1103.9C2267.8 1103.5 2268.9 1100.1 2269.8 1099.1C2270.8 1098.0 2271.2 1097.6 2272.0 1098.0C2272.8 1098.3 2273.4 1101.4 2274.2 1100.8C2275.0 1100.2 2275.7 1096.0 2276.4 1094.7C2277.1 1093.4 2277.4 1092.2 2278.1 1093.6C2278.8 1095.0 2279.5 1098.9 2280.3 1102.3C2281.1 1105.8 2281.7 1109.5 2282.5 1112.2C2283.3 1114.9 2283.8 1116.4 2284.7 1117.0C2285.6 1117.6 2286.4 1117.6 2287.3 1115.5C2288.2 1113.4 2288.7 1109.2 2289.5 1105.6C2290.3 1102.0 2290.8 1098.3 2291.7 1095.8C2292.6 1093.3 2293.2 1093.3 2294.5 1092.1C2295.9 1090.9 2297.6 1088.7 2298.9 1089.2C2300.2 1089.7 2300.8 1092.5 2301.8 1094.7C2302.8 1096.9 2303.3 1099.3 2304.4 1101.3C2305.5 1103.2 2306.5 1103.6 2307.7 1105.2C2308.9 1106.8 2309.9 1107.5 2310.9 1110.0C2311.9 1112.5 2312.3 1114.7 2313.1 1118.8C2313.9 1122.8 2314.5 1127.7 2315.3 1131.9C2316.1 1136.1 2316.6 1141.3 2317.5 1141.7C2318.4 1142.1 2319.1 1137.7 2320.1 1134.1C2321.1 1130.5 2321.8 1125.4 2323.0 1122.0C2324.1 1118.6 2325.3 1114.5 2326.3 1115.5C2327.3 1116.5 2327.5 1122.9 2328.4 1127.5C2329.4 1132.1 2330.3 1139.8 2331.3 1140.6C2332.3 1141.4 2332.9 1137.1 2333.9 1131.9C2334.9 1126.7 2335.8 1117.6 2336.8 1112.2C2337.8 1106.8 2338.4 1104.8 2339.4 1102.3C2340.3 1099.9 2341.0 1098.7 2342.0 1098.6C2343.0 1098.5 2343.7 1101.9 2344.8 1101.7C2346.0 1101.4 2347.0 1097.6 2348.1 1097.3C2349.2 1097.0 2349.8 1099.2 2350.8 1100.2C2351.8 1101.1 2352.5 1102.5 2353.6 1102.3C2354.7 1102.2 2355.7 1100.9 2356.9 1099.5C2358.1 1098.1 2359.0 1097.2 2360.2 1094.7C2361.3 1092.2 2362.0 1088.3 2363.0 1085.9C2364.0 1083.5 2364.7 1081.4 2365.6 1081.6C2366.5 1081.8 2367.0 1082.6 2367.8 1087.0C2368.6 1091.4 2369.3 1098.2 2370.0 1105.6C2370.7 1113.0 2371.0 1119.1 2371.8 1127.5C2372.5 1135.9 2373.1 1148.8 2373.9 1151.6C2374.7 1154.4 2375.4 1145.0 2376.1 1142.8C2376.8 1140.6 2377.0 1138.3 2377.7 1139.5C2378.3 1140.7 2378.9 1145.6 2379.8 1149.4C2380.8 1153.1 2381.7 1159.9 2382.7 1159.9C2383.7 1159.9 2384.4 1154.5 2385.3 1149.4C2386.2 1144.2 2386.7 1136.7 2387.5 1131.9C2388.3 1127.1 2388.7 1125.9 2389.7 1123.1C2390.7 1120.3 2392.0 1118.2 2393.0 1116.6C2394.0 1115.0 2394.2 1113.2 2395.2 1114.4C2396.1 1115.6 2397.0 1119.9 2398.0 1123.1C2399.0 1126.3 2399.7 1130.0 2400.6 1131.9C2401.5 1133.8 2401.9 1134.8 2402.8 1133.6C2403.7 1132.4 2404.4 1129.6 2405.4 1125.3C2406.4 1121.0 2407.4 1113.8 2408.3 1110.0C2409.2 1106.2 2409.5 1105.1 2410.5 1104.5C2411.4 1103.9 2412.2 1105.5 2413.3 1106.7C2414.4 1107.9 2415.3 1110.0 2416.4 1111.1C2417.5 1112.2 2418.1 1112.6 2419.2 1112.6C2420.3 1112.6 2421.3 1111.6 2422.5 1111.1C2423.7 1110.6 2424.6 1110.0 2425.8 1110.0C2427.0 1110.0 2428.0 1110.8 2429.1 1111.1C2430.1 1111.4 2431.0 1111.6 2431.7 1111.8C2432.3 1111.9 2432.4 1111.8 2432.6 1111.8" fill="none" stroke="#ff3d3a" stroke-width="1.8" stroke-linejoin="round"/></g>
<rect x="2432.2" y="5" width="2" height="1284" fill="#1d1d22"/>
<rect x="5" y="848.5" width="2550" height="4" fill="#34353c"/>
<rect x="5" y="1021.5" width="2550" height="4" fill="#34353c"/>
<rect x="5" y="1288.2" width="2550" height="1.5" fill="#242428"/>
<rect x="114.75" y="1289" width="1.3" height="5.5" fill="#cfcfcf"/>
<rect x="778.35" y="1289" width="1.3" height="5.5" fill="#cfcfcf"/>
<rect x="1420.35" y="1289" width="1.3" height="5.5" fill="#cfcfcf"/>
<rect x="2084.35" y="1289" width="1.3" height="5.5" fill="#cfcfcf"/>
<text class="ax" x="115.4" y="1314.3" text-anchor="middle" style="font-size:19px">May</text>
<text class="ax" x="779" y="1314.3" text-anchor="middle" style="font-size:19px">Jun</text>
<text class="ax" x="1421" y="1314.3" text-anchor="middle" style="font-size:19px">Jul</text>
<text class="ax" x="2085" y="1314.3" text-anchor="middle" style="font-size:19px">Aug</text>
<g clip-path="url(#cpPriceAx)">
<text class="ax" x="2446.2" y="26.4" textLength="71.9" lengthAdjust="spacingAndGlyphs">0.05000</text>
<text class="ax" x="2446.2" y="70.0" textLength="70.5" lengthAdjust="spacingAndGlyphs">0.04750</text>
<text class="ax" x="2446.2" y="113.6" textLength="71.8" lengthAdjust="spacingAndGlyphs">0.04500</text>
<text class="ax" x="2446.2" y="157.3" textLength="71.3" lengthAdjust="spacingAndGlyphs">0.04250</text>
<text class="ax" x="2446.2" y="200.9" textLength="72.2" lengthAdjust="spacingAndGlyphs">0.04000</text>
<text class="ax" x="2446.2" y="244.6" textLength="70.2" lengthAdjust="spacingAndGlyphs">0.03750</text>
<text class="ax" x="2446.2" y="288.2" textLength="71.5" lengthAdjust="spacingAndGlyphs">0.03500</text>
<text class="ax" x="2446.2" y="331.9" textLength="71.0" lengthAdjust="spacingAndGlyphs">0.03250</text>
<text class="ax" x="2446.2" y="375.6" textLength="71.9" lengthAdjust="spacingAndGlyphs">0.03000</text>
<text class="ax" x="2446.2" y="419.2" textLength="70.1" lengthAdjust="spacingAndGlyphs">0.02750</text>
<text class="ax" x="2446.2" y="462.9" textLength="71.4" lengthAdjust="spacingAndGlyphs">0.02500</text>
<text class="ax" x="2446.2" y="506.5" textLength="70.9" lengthAdjust="spacingAndGlyphs">0.02250</text>
<text class="ax" x="2446.2" y="550.1" textLength="71.8" lengthAdjust="spacingAndGlyphs">0.02000</text>
<text class="ax" x="2446.2" y="593.8" textLength="68.1" lengthAdjust="spacingAndGlyphs">0.01750</text>
<text class="ax" x="2446.2" y="637.5" textLength="69.4" lengthAdjust="spacingAndGlyphs">0.01500</text>
<text class="ax" x="2446.2" y="681.1" textLength="68.9" lengthAdjust="spacingAndGlyphs">0.01250</text>
<text class="ax" x="2446.2" y="724.8" textLength="69.8" lengthAdjust="spacingAndGlyphs">0.01000</text>
<text class="ax" x="2446.2" y="768.4" textLength="70.6" lengthAdjust="spacingAndGlyphs">0.00750</text>
<text class="ax" x="2446.2" y="812.0" textLength="71.9" lengthAdjust="spacingAndGlyphs">0.00500</text>
<text class="ax" x="2446.2" y="855.7" textLength="71.4" lengthAdjust="spacingAndGlyphs">0.00250</text>
</g>
<text class="ax" x="2446.0" y="870.6" textLength="75.3" lengthAdjust="spacingAndGlyphs">200.00M</text>
<text class="ax" x="2446.0" y="936.9" textLength="73.3" lengthAdjust="spacingAndGlyphs">100.00M</text>
<text class="ax" x="2446.0" y="1003.9" textLength="11.1" lengthAdjust="spacingAndGlyphs">0</text>
<text class="ax" x="2446.0" y="1060.0" textLength="75.7" lengthAdjust="spacingAndGlyphs">0.0500%</text>
<text class="ax" x="2446.0" y="1162.6" textLength="83.6" lengthAdjust="spacingAndGlyphs">-0.0500%</text>
<text class="ax" x="2446.0" y="1213.6" textLength="81.4" lengthAdjust="spacingAndGlyphs">-0.1000%</text>
<text class="ax" x="2446.0" y="1265.0" textLength="81.1" lengthAdjust="spacingAndGlyphs">-0.1500%</text>
<path d="M2434.5 239L2444.5 221H2555V257H2444.5Z" fill="#06a24a"/>
<text class="ax" x="2447.9" y="245.3" textLength="69.0" lengthAdjust="spacingAndGlyphs" style="fill:#ffffff">0.03778</text>
<path d="M2434 1095.6L2444 1077.6H2555V1113.6H2444Z" fill="#00dccb"/>
<text class="ax" x="2447.6" y="1101.8" textLength="73.2" lengthAdjust="spacingAndGlyphs" style="fill:#0c0c0c">0.0149%</text>
<rect x="12.5" y="12.5" width="282.5" height="56.3" rx="6" fill="#20212b"/>
<path transform="translate(29.10 29.95) scale(0.1690)" d="M38.73,53.2 63.31,28.62 87.9,53.21 102.2,38.91 63.31,0 24.43,38.9ZM0,63.31 14.3,49 28.61,63.31 14.3,77.61ZM38.73,73.41 63.31,97.99 87.9,73.4 102.21,87.69 63.31,126.6 24.42,87.72ZM98,63.31 112.3,49 126.61,63.3 112.3,77.62ZM77.83,63.3 63.31,48.78 48.81,63.28 63.32,77.78Z" fill="#f5f5f5"/>
<text class="b" x="58.9" y="51.5" style="font-size:23.6px;fill:#fafafa;stroke:#fafafa;stroke-width:0.4px" textLength="82.1" lengthAdjust="spacingAndGlyphs">PENGU</text>
<text class="b" x="138.6" y="51.5" style="font-size:23.6px;fill:#8a97a8;stroke:#8a97a8;stroke-width:0.4px" textLength="62.5" lengthAdjust="spacingAndGlyphs">USDT</text>
<text class="b" x="217.6" y="51.5" style="font-size:23px;fill:#fafafa" textLength="26.6" lengthAdjust="spacingAndGlyphs">4h</text>
<path d="M258.8 37H275L266.9 46.2Z" fill="#fafafa"/>
<text class="lg" x="17.4" y="100" textLength="47.6" lengthAdjust="spacingAndGlyphs">Price</text>
<text class="lg" x="85.4" y="100" textLength="18.4" lengthAdjust="spacingAndGlyphs">O:</text>
<text class="lg" x="111.6" y="100" textLength="39.9" lengthAdjust="spacingAndGlyphs" style="fill:#05d6bf;stroke:#05d6bf">0.03</text>
<text class="lg" x="158.75" y="100" textLength="18.2" lengthAdjust="spacingAndGlyphs">H:</text>
<text class="lg" x="184.4" y="100" textLength="40.0" lengthAdjust="spacingAndGlyphs" style="fill:#05d6bf;stroke:#05d6bf">0.03</text>
<text class="lg" x="231.9" y="100" textLength="14.4" lengthAdjust="spacingAndGlyphs">L:</text>
<text class="lg" x="253.75" y="100" textLength="40.0" lengthAdjust="spacingAndGlyphs" style="fill:#05d6bf;stroke:#05d6bf">0.03</text>
<text class="lg" x="301.3" y="100" textLength="18.7" lengthAdjust="spacingAndGlyphs">C:</text>
<text class="lg" x="327" y="100" textLength="40.0" lengthAdjust="spacingAndGlyphs" style="fill:#05d6bf;stroke:#05d6bf">0.03</text>
<text class="lg" x="381" y="100" textLength="52.8" lengthAdjust="spacingAndGlyphs" style="fill:#05d6bf;stroke:#05d6bf">+0.00</text>
<text class="lg" x="447.5" y="100" textLength="83.5" lengthAdjust="spacingAndGlyphs" style="fill:#05d6bf;stroke:#05d6bf">(+2.35%)</text>
<text class="lg" x="18.8" y="137.5" textLength="68.2" lengthAdjust="spacingAndGlyphs">Volume</text>
<text class="lg" x="18.5" y="878" textLength="249.5" lengthAdjust="spacingAndGlyphs">Agg. Open Interest (PENGU)</text>
<text class="lg" x="428.5" y="878" textLength="18.4" lengthAdjust="spacingAndGlyphs">O:</text>
<text class="lg" x="454.75" y="878" textLength="76.5" lengthAdjust="spacingAndGlyphs" style="fill:#0ba854;stroke:#0ba854">236.31M</text>
<text class="lg" x="538.75" y="878" textLength="17.9" lengthAdjust="spacingAndGlyphs">H:</text>
<text class="lg" x="564" y="878" textLength="75.6" lengthAdjust="spacingAndGlyphs" style="fill:#0ba854;stroke:#0ba854">243.13M</text>
<text class="lg" x="647" y="878" textLength="14.6" lengthAdjust="spacingAndGlyphs">L:</text>
<text class="lg" x="669" y="878" textLength="76.0" lengthAdjust="spacingAndGlyphs" style="fill:#0ba854;stroke:#0ba854">236.31M</text>
<text class="lg" x="753.4" y="878" textLength="17.9" lengthAdjust="spacingAndGlyphs">C:</text>
<text class="lg" x="778.4" y="878" textLength="80.1" lengthAdjust="spacingAndGlyphs" style="fill:#0ba854;stroke:#0ba854">240.63M</text>
<text class="lg" x="19.5" y="1050" textLength="243.0" lengthAdjust="spacingAndGlyphs">Agg. Funding Rate (PENGU)</text>
<text class="lg" x="492.7" y="1050" textLength="89.9" lengthAdjust="spacingAndGlyphs" style="fill:#ff3434;stroke:#ff3434">-0.0246%</text>
<g transform="translate(303.7 872)"><ellipse cx="-0.6" cy="3.1" rx="4.6" ry="4.8" fill="url(#gb2)" transform="rotate(-12)"/><ellipse cx="0.8" cy="-3.0" rx="4.4" ry="4.9" fill="url(#gb1)" transform="rotate(-12)"/></g>
<path transform="translate(330.00 863.40) scale(0.1343)" d="M38.73,53.2 63.31,28.62 87.9,53.21 102.2,38.91 63.31,0 24.43,38.9ZM0,63.31 14.3,49 28.61,63.31 14.3,77.61ZM38.73,73.41 63.31,97.99 87.9,73.4 102.21,87.69 63.31,126.6 24.42,87.72ZM98,63.31 112.3,49 126.61,63.3 112.3,77.62ZM77.83,63.3 63.31,48.78 48.81,63.28 63.32,77.78Z" fill="#f5f5f5"/>
<rect x="363.80" y="863.10" width="17.8" height="17.8" fill="#f6f6f6"/>
<path d="M366.03 865.33h4.45v4.45h-4.45zM374.93 865.33h4.45v4.45h-4.45zM370.48 869.78h4.45v4.45h-4.45zM366.03 874.23h4.45v4.45h-4.45zM374.93 874.23h4.45v4.45h-4.45z" fill="#0a0a0a"/>
<path transform="translate(399.00 872.20)" d="M0 0.3C0 -2.6 1.2 -4.4 2.7 -4.4C4.6 -4.4 5.3 -0.8 6.9 -0.8C8.6 -0.8 9.3 -5.8 12 -5.8C14.2 -5.8 15.4 -3 15.4 0C15.4 3 14.2 5.8 12 5.8C9.3 5.8 8.6 1.0 6.9 1.0C5.3 1.0 4.6 4.2 2.7 4.2C1.2 4.2 0 2.9 0 0.3Z" fill="#f2f2f2"/>
<g transform="translate(291.3 1037.6)"><path d="M14.8 0.2C15 5 14 9.6 11.9 12.7C10.6 14.4 9 15 7.6 15C5.6 15 3.4 14.2 1.8 12.7C0.8 11.7 0.2 10.4 0.1 9.2C0.3 8 0.8 7 1.3 6.1C2.3 4.5 3.6 3.3 4.8 2.5C7.6 0.8 11.4 0.1 14.8 0.2Z" fill="#f2f2f2"/><path d="M1.0 9.6C4 10.9 10.2 8.6 13.8 2.2C10.4 7.2 5.2 9.9 1.0 9.6Z" fill="#0a0a0a" stroke="#0a0a0a" stroke-width="0.35"/></g>
<g transform="translate(332.9 1045)"><ellipse cx="-0.6" cy="3.1" rx="4.6" ry="4.8" fill="url(#gb2)" transform="rotate(-12)"/><ellipse cx="0.8" cy="-3.0" rx="4.4" ry="4.9" fill="url(#gb1)" transform="rotate(-12)"/></g>
<path transform="translate(359.60 1036.30) scale(0.1327)" d="M38.73,53.2 63.31,28.62 87.9,53.21 102.2,38.91 63.31,0 24.43,38.9ZM0,63.31 14.3,49 28.61,63.31 14.3,77.61ZM38.73,73.41 63.31,97.99 87.9,73.4 102.21,87.69 63.31,126.6 24.42,87.72ZM98,63.31 112.3,49 126.61,63.3 112.3,77.62ZM77.83,63.3 63.31,48.78 48.81,63.28 63.32,77.78Z" fill="#f5f5f5"/>
<g transform="translate(394.7 1038.1)" fill="none" stroke="#f2f2f2" stroke-width="2.2"><path d="M0 3.3H8.9C12.2 3.3 13.4 5.3 13.4 7C13.4 8.7 12.2 10.7 8.9 10.7H0"/><path d="M3.9 0V14M8.2 0V3.3M8.2 10.7V14"/></g>
<rect x="427.00" y="1035.90" width="18" height="18" fill="#f6f6f6"/>
<path d="M429.25 1038.15h4.50v4.50h-4.50zM438.25 1038.15h4.50v4.50h-4.50zM433.75 1042.65h4.50v4.50h-4.50zM429.25 1047.15h4.50v4.50h-4.50zM438.25 1047.15h4.50v4.50h-4.50z" fill="#0a0a0a"/>
<path transform="translate(462.25 1045.30)" d="M0 0.3C0 -2.6 1.2 -4.4 2.7 -4.4C4.6 -4.4 5.3 -0.8 6.9 -0.8C8.6 -0.8 9.3 -5.8 12 -5.8C14.2 -5.8 15.4 -3 15.4 0C15.4 3 14.2 5.8 12 5.8C9.3 5.8 8.6 1.0 6.9 1.0C5.3 1.0 4.6 4.2 2.7 4.2C1.2 4.2 0 2.9 0 0.3Z" fill="#f2f2f2"/>
<g transform="translate(26 1234) scale(0.028425)"><path d="M745 640C700 520 600 390 480 290C400 230 300 205 230 215C190 220 150 235 140 260C160 300 230 400 260 470C275 540 280 620 330 660L420 690L335 745C290 790 295 850 300 870C310 920 330 960 340 980C360 1040 400 1110 450 1140C480 1150 520 1150 540 1140C620 1090 700 990 745 900Z" fill="none" stroke="#d6d6d6" stroke-width="36" stroke-linejoin="round"/><path d="M760 620C790 500 880 390 1020 290C1100 240 1200 205 1290 215C1330 220 1370 245 1380 270C1340 310 1290 380 1270 420C1250 480 1240 560 1200 640C1180 670 1120 690 1060 690L1160 740C1200 770 1225 790 1220 810C1215 850 1205 880 1200 900C1180 970 1130 1050 1090 1090C1060 1130 1040 1150 1020 1150C990 1155 960 1155 940 1150C900 1110 830 1020 800 960C780 920 765 890 760 880Z" fill="#727272" stroke="#b4b4b4" stroke-width="30" stroke-linejoin="round"/><path d="M750 590V905" stroke="#f0f0f0" stroke-width="44" stroke-linecap="round" fill="none"/></g>
<text class="wm" x="71.3" y="1265.4" style="font-size:37.3px;fill:#f4f4f4;stroke:#f4f4f4;stroke-width:0.55px" textLength="141.6" lengthAdjust="spacingAndGlyphs">Kiyotaka.ai</text>
</svg></body></html>
